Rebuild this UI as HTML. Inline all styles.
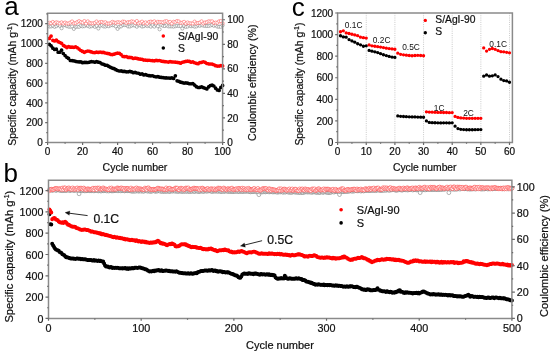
<!DOCTYPE html>
<html><head><meta charset="utf-8"><style>
html,body{margin:0;padding:0;background:#fff;}
body{width:550px;height:352px;overflow:hidden;font-family:"Liberation Sans", sans-serif;}
svg{display:block;will-change:transform;filter:blur(0.25px);}
</style></head><body>
<svg width="550" height="352" viewBox="0 0 550 352">
<rect width="550" height="352" fill="#fff"/>
<g fill="#fff" stroke="#707070" stroke-width="0.5">
<circle cx="49.35" cy="26.52" r="1.6"/><circle cx="51.1" cy="26.41" r="1.6"/><circle cx="52.85" cy="25.71" r="1.6"/><circle cx="54.6" cy="26.86" r="1.6"/><circle cx="56.35" cy="26.14" r="1.6"/><circle cx="58.1" cy="25" r="1.6"/><circle cx="59.85" cy="25.86" r="1.6"/><circle cx="61.6" cy="28.24" r="1.6"/><circle cx="63.35" cy="25.1" r="1.6"/><circle cx="65.1" cy="25.15" r="1.6"/><circle cx="66.85" cy="26.1" r="1.6"/><circle cx="68.6" cy="26.67" r="1.6"/><circle cx="70.35" cy="26.75" r="1.6"/><circle cx="72.1" cy="26.46" r="1.6"/><circle cx="73.85" cy="28.9" r="1.6"/><circle cx="75.6" cy="26.87" r="1.6"/><circle cx="77.35" cy="26.67" r="1.6"/><circle cx="79.1" cy="26.82" r="1.6"/><circle cx="80.85" cy="25.66" r="1.6"/><circle cx="82.6" cy="26.37" r="1.6"/><circle cx="84.35" cy="26.15" r="1.6"/><circle cx="86.1" cy="25.2" r="1.6"/><circle cx="87.85" cy="25.95" r="1.6"/><circle cx="89.6" cy="26.7" r="1.6"/><circle cx="91.35" cy="26.2" r="1.6"/><circle cx="93.1" cy="25.24" r="1.6"/><circle cx="94.85" cy="26.82" r="1.6"/><circle cx="96.6" cy="25.83" r="1.6"/><circle cx="98.35" cy="28.5" r="1.6"/><circle cx="100.1" cy="25.83" r="1.6"/><circle cx="101.85" cy="25.17" r="1.6"/><circle cx="103.6" cy="26.36" r="1.6"/><circle cx="105.35" cy="26.54" r="1.6"/><circle cx="107.1" cy="25.82" r="1.6"/><circle cx="108.85" cy="26.22" r="1.6"/><circle cx="110.6" cy="25.28" r="1.6"/><circle cx="112.35" cy="25.19" r="1.6"/><circle cx="114.1" cy="25.26" r="1.6"/><circle cx="115.85" cy="26.42" r="1.6"/><circle cx="117.6" cy="28.87" r="1.6"/><circle cx="119.35" cy="26.81" r="1.6"/><circle cx="121.1" cy="26.36" r="1.6"/><circle cx="122.85" cy="24.99" r="1.6"/><circle cx="124.6" cy="25.03" r="1.6"/><circle cx="126.35" cy="24.99" r="1.6"/><circle cx="128.1" cy="26.44" r="1.6"/><circle cx="129.85" cy="26.48" r="1.6"/><circle cx="131.6" cy="25.64" r="1.6"/><circle cx="133.35" cy="25.22" r="1.6"/><circle cx="135.1" cy="25.59" r="1.6"/><circle cx="136.85" cy="26.7" r="1.6"/><circle cx="138.6" cy="25.08" r="1.6"/><circle cx="140.35" cy="25.4" r="1.6"/><circle cx="142.1" cy="26.52" r="1.6"/><circle cx="143.85" cy="26.22" r="1.6"/><circle cx="145.6" cy="24.96" r="1.6"/><circle cx="147.35" cy="26.08" r="1.6"/><circle cx="149.1" cy="25.45" r="1.6"/><circle cx="150.85" cy="26.62" r="1.6"/><circle cx="152.6" cy="25.09" r="1.6"/><circle cx="154.35" cy="26.58" r="1.6"/><circle cx="156.1" cy="24.94" r="1.6"/><circle cx="157.85" cy="26.18" r="1.6"/><circle cx="159.6" cy="29.31" r="1.6"/><circle cx="161.35" cy="24.96" r="1.6"/><circle cx="163.1" cy="25.84" r="1.6"/><circle cx="164.85" cy="26.02" r="1.6"/><circle cx="166.6" cy="25.25" r="1.6"/><circle cx="168.35" cy="26.37" r="1.6"/><circle cx="170.1" cy="26.4" r="1.6"/><circle cx="171.85" cy="26.36" r="1.6"/><circle cx="173.6" cy="26.61" r="1.6"/><circle cx="175.35" cy="26.17" r="1.6"/><circle cx="177.1" cy="25.72" r="1.6"/><circle cx="178.85" cy="26.04" r="1.6"/><circle cx="180.6" cy="25.88" r="1.6"/><circle cx="182.35" cy="28.54" r="1.6"/><circle cx="184.1" cy="26.01" r="1.6"/><circle cx="185.85" cy="26.86" r="1.6"/><circle cx="187.6" cy="26.53" r="1.6"/><circle cx="189.35" cy="25.45" r="1.6"/><circle cx="191.1" cy="26.23" r="1.6"/><circle cx="192.85" cy="25.78" r="1.6"/><circle cx="194.6" cy="26.66" r="1.6"/><circle cx="196.35" cy="26.38" r="1.6"/><circle cx="198.1" cy="25.35" r="1.6"/><circle cx="199.85" cy="25.77" r="1.6"/><circle cx="201.6" cy="25.08" r="1.6"/><circle cx="203.35" cy="25.67" r="1.6"/><circle cx="205.1" cy="25.86" r="1.6"/><circle cx="206.85" cy="25.98" r="1.6"/><circle cx="208.6" cy="25.93" r="1.6"/><circle cx="210.35" cy="25.5" r="1.6"/><circle cx="212.1" cy="25.02" r="1.6"/><circle cx="213.85" cy="25.77" r="1.6"/><circle cx="215.6" cy="25.22" r="1.6"/><circle cx="217.35" cy="26.63" r="1.6"/><circle cx="219.1" cy="26.73" r="1.6"/><circle cx="220.85" cy="26.73" r="1.6"/><circle cx="222.6" cy="25.33" r="1.6"/>
</g>
<g fill="#fff" stroke="#ff4a4a" stroke-width="0.5">
<circle cx="49.35" cy="22.8" r="1.6"/><circle cx="51.1" cy="23.27" r="1.6"/><circle cx="52.85" cy="21.92" r="1.6"/><circle cx="54.6" cy="23.48" r="1.6"/><circle cx="56.35" cy="22.23" r="1.6"/><circle cx="58.1" cy="22.69" r="1.6"/><circle cx="59.85" cy="23.52" r="1.6"/><circle cx="61.6" cy="22.31" r="1.6"/><circle cx="63.35" cy="23.58" r="1.6"/><circle cx="65.1" cy="22.51" r="1.6"/><circle cx="66.85" cy="23.49" r="1.6"/><circle cx="68.6" cy="23.43" r="1.6"/><circle cx="70.35" cy="22.53" r="1.6"/><circle cx="72.1" cy="21.45" r="1.6"/><circle cx="73.85" cy="23.34" r="1.6"/><circle cx="75.6" cy="23.08" r="1.6"/><circle cx="77.35" cy="21.98" r="1.6"/><circle cx="79.1" cy="21.12" r="1.6"/><circle cx="80.85" cy="22.12" r="1.6"/><circle cx="82.6" cy="22.61" r="1.6"/><circle cx="84.35" cy="21.04" r="1.6"/><circle cx="86.1" cy="23.55" r="1.6"/><circle cx="87.85" cy="21.36" r="1.6"/><circle cx="89.6" cy="22.9" r="1.6"/><circle cx="91.35" cy="23.29" r="1.6"/><circle cx="93.1" cy="23.36" r="1.6"/><circle cx="94.85" cy="22.84" r="1.6"/><circle cx="96.6" cy="21.47" r="1.6"/><circle cx="98.35" cy="23.19" r="1.6"/><circle cx="100.1" cy="22.11" r="1.6"/><circle cx="101.85" cy="21.95" r="1.6"/><circle cx="103.6" cy="22.67" r="1.6"/><circle cx="105.35" cy="22.2" r="1.6"/><circle cx="107.1" cy="23.51" r="1.6"/><circle cx="108.85" cy="23.52" r="1.6"/><circle cx="110.6" cy="23.12" r="1.6"/><circle cx="112.35" cy="21.84" r="1.6"/><circle cx="114.1" cy="22.52" r="1.6"/><circle cx="115.85" cy="22.83" r="1.6"/><circle cx="117.6" cy="22.1" r="1.6"/><circle cx="119.35" cy="22.45" r="1.6"/><circle cx="121.1" cy="22.87" r="1.6"/><circle cx="122.85" cy="21.53" r="1.6"/><circle cx="124.6" cy="21.79" r="1.6"/><circle cx="126.35" cy="23.02" r="1.6"/><circle cx="128.1" cy="22.13" r="1.6"/><circle cx="129.85" cy="22.26" r="1.6"/><circle cx="131.6" cy="21.31" r="1.6"/><circle cx="133.35" cy="21.71" r="1.6"/><circle cx="135.1" cy="22.9" r="1.6"/><circle cx="136.85" cy="21.03" r="1.6"/><circle cx="138.6" cy="23.36" r="1.6"/><circle cx="140.35" cy="22.55" r="1.6"/><circle cx="142.1" cy="21.63" r="1.6"/><circle cx="143.85" cy="23.27" r="1.6"/><circle cx="145.6" cy="22.36" r="1.6"/><circle cx="147.35" cy="23.57" r="1.6"/><circle cx="149.1" cy="21.87" r="1.6"/><circle cx="150.85" cy="21.61" r="1.6"/><circle cx="152.6" cy="22.13" r="1.6"/><circle cx="154.35" cy="21.31" r="1.6"/><circle cx="156.1" cy="22.83" r="1.6"/><circle cx="157.85" cy="21.8" r="1.6"/><circle cx="159.6" cy="22.07" r="1.6"/><circle cx="161.35" cy="22.11" r="1.6"/><circle cx="163.1" cy="22.45" r="1.6"/><circle cx="164.85" cy="21.41" r="1.6"/><circle cx="166.6" cy="21.13" r="1.6"/><circle cx="168.35" cy="22.4" r="1.6"/><circle cx="170.1" cy="21.88" r="1.6"/><circle cx="171.85" cy="23.51" r="1.6"/><circle cx="173.6" cy="21.78" r="1.6"/><circle cx="175.35" cy="21.93" r="1.6"/><circle cx="177.1" cy="21" r="1.6"/><circle cx="178.85" cy="21.46" r="1.6"/><circle cx="180.6" cy="22.91" r="1.6"/><circle cx="182.35" cy="22.64" r="1.6"/><circle cx="184.1" cy="21.87" r="1.6"/><circle cx="185.85" cy="23.62" r="1.6"/><circle cx="187.6" cy="22.43" r="1.6"/><circle cx="189.35" cy="23.22" r="1.6"/><circle cx="191.1" cy="23.36" r="1.6"/><circle cx="192.85" cy="23.52" r="1.6"/><circle cx="194.6" cy="21.6" r="1.6"/><circle cx="196.35" cy="23.33" r="1.6"/><circle cx="198.1" cy="23.01" r="1.6"/><circle cx="199.85" cy="22.62" r="1.6"/><circle cx="201.6" cy="21.32" r="1.6"/><circle cx="203.35" cy="23.46" r="1.6"/><circle cx="205.1" cy="22.46" r="1.6"/><circle cx="206.85" cy="22.19" r="1.6"/><circle cx="208.6" cy="21.29" r="1.6"/><circle cx="210.35" cy="21.47" r="1.6"/><circle cx="212.1" cy="21.34" r="1.6"/><circle cx="213.85" cy="22.93" r="1.6"/><circle cx="215.6" cy="22.56" r="1.6"/><circle cx="217.35" cy="22.71" r="1.6"/><circle cx="219.1" cy="21.29" r="1.6"/><circle cx="220.85" cy="21.09" r="1.6"/><circle cx="222.6" cy="23.27" r="1.6"/>
</g>
<path d="M47.5 44.37a1.85 1.85 0 1 0 3.7 0a1.85 1.85 0 1 0 -3.7 0M49.25 45.8a1.85 1.85 0 1 0 3.7 0a1.85 1.85 0 1 0 -3.7 0M51 48.22a1.85 1.85 0 1 0 3.7 0a1.85 1.85 0 1 0 -3.7 0M52.75 49.52a1.85 1.85 0 1 0 3.7 0a1.85 1.85 0 1 0 -3.7 0M54.5 49.14a1.85 1.85 0 1 0 3.7 0a1.85 1.85 0 1 0 -3.7 0M56.25 52.24a1.85 1.85 0 1 0 3.7 0a1.85 1.85 0 1 0 -3.7 0M58 52.14a1.85 1.85 0 1 0 3.7 0a1.85 1.85 0 1 0 -3.7 0M59.75 50.17a1.85 1.85 0 1 0 3.7 0a1.85 1.85 0 1 0 -3.7 0M61.5 53.48a1.85 1.85 0 1 0 3.7 0a1.85 1.85 0 1 0 -3.7 0M63.25 55.59a1.85 1.85 0 1 0 3.7 0a1.85 1.85 0 1 0 -3.7 0M65 57.37a1.85 1.85 0 1 0 3.7 0a1.85 1.85 0 1 0 -3.7 0M66.75 58.38a1.85 1.85 0 1 0 3.7 0a1.85 1.85 0 1 0 -3.7 0M68.5 60.5a1.85 1.85 0 1 0 3.7 0a1.85 1.85 0 1 0 -3.7 0M70.25 60.61a1.85 1.85 0 1 0 3.7 0a1.85 1.85 0 1 0 -3.7 0M72 60.86a1.85 1.85 0 1 0 3.7 0a1.85 1.85 0 1 0 -3.7 0M73.75 61.32a1.85 1.85 0 1 0 3.7 0a1.85 1.85 0 1 0 -3.7 0M75.5 61.76a1.85 1.85 0 1 0 3.7 0a1.85 1.85 0 1 0 -3.7 0M77.25 61.91a1.85 1.85 0 1 0 3.7 0a1.85 1.85 0 1 0 -3.7 0M79 61.84a1.85 1.85 0 1 0 3.7 0a1.85 1.85 0 1 0 -3.7 0M80.75 62.64a1.85 1.85 0 1 0 3.7 0a1.85 1.85 0 1 0 -3.7 0M82.5 62.47a1.85 1.85 0 1 0 3.7 0a1.85 1.85 0 1 0 -3.7 0M84.25 62.36a1.85 1.85 0 1 0 3.7 0a1.85 1.85 0 1 0 -3.7 0M86 62.49a1.85 1.85 0 1 0 3.7 0a1.85 1.85 0 1 0 -3.7 0M87.75 62.05a1.85 1.85 0 1 0 3.7 0a1.85 1.85 0 1 0 -3.7 0M89.5 61.62a1.85 1.85 0 1 0 3.7 0a1.85 1.85 0 1 0 -3.7 0M91.25 61.77a1.85 1.85 0 1 0 3.7 0a1.85 1.85 0 1 0 -3.7 0M93 62.19a1.85 1.85 0 1 0 3.7 0a1.85 1.85 0 1 0 -3.7 0M94.75 61.53a1.85 1.85 0 1 0 3.7 0a1.85 1.85 0 1 0 -3.7 0M96.5 62.22a1.85 1.85 0 1 0 3.7 0a1.85 1.85 0 1 0 -3.7 0M98.25 62.62a1.85 1.85 0 1 0 3.7 0a1.85 1.85 0 1 0 -3.7 0M100 63.84a1.85 1.85 0 1 0 3.7 0a1.85 1.85 0 1 0 -3.7 0M101.75 64.32a1.85 1.85 0 1 0 3.7 0a1.85 1.85 0 1 0 -3.7 0M103.5 65.19a1.85 1.85 0 1 0 3.7 0a1.85 1.85 0 1 0 -3.7 0M105.25 65.29a1.85 1.85 0 1 0 3.7 0a1.85 1.85 0 1 0 -3.7 0M107 66.38a1.85 1.85 0 1 0 3.7 0a1.85 1.85 0 1 0 -3.7 0M108.75 67.34a1.85 1.85 0 1 0 3.7 0a1.85 1.85 0 1 0 -3.7 0M110.5 68.07a1.85 1.85 0 1 0 3.7 0a1.85 1.85 0 1 0 -3.7 0M112.25 68.64a1.85 1.85 0 1 0 3.7 0a1.85 1.85 0 1 0 -3.7 0M114 69.68a1.85 1.85 0 1 0 3.7 0a1.85 1.85 0 1 0 -3.7 0M115.75 70.52a1.85 1.85 0 1 0 3.7 0a1.85 1.85 0 1 0 -3.7 0M117.5 71a1.85 1.85 0 1 0 3.7 0a1.85 1.85 0 1 0 -3.7 0M119.25 70.79a1.85 1.85 0 1 0 3.7 0a1.85 1.85 0 1 0 -3.7 0M121 71.46a1.85 1.85 0 1 0 3.7 0a1.85 1.85 0 1 0 -3.7 0M122.75 71.36a1.85 1.85 0 1 0 3.7 0a1.85 1.85 0 1 0 -3.7 0M124.5 71.84a1.85 1.85 0 1 0 3.7 0a1.85 1.85 0 1 0 -3.7 0M126.25 71.87a1.85 1.85 0 1 0 3.7 0a1.85 1.85 0 1 0 -3.7 0M128 71.37a1.85 1.85 0 1 0 3.7 0a1.85 1.85 0 1 0 -3.7 0M129.75 71.97a1.85 1.85 0 1 0 3.7 0a1.85 1.85 0 1 0 -3.7 0M131.5 72.65a1.85 1.85 0 1 0 3.7 0a1.85 1.85 0 1 0 -3.7 0M133.25 72.36a1.85 1.85 0 1 0 3.7 0a1.85 1.85 0 1 0 -3.7 0M135 72.99a1.85 1.85 0 1 0 3.7 0a1.85 1.85 0 1 0 -3.7 0M136.75 73.24a1.85 1.85 0 1 0 3.7 0a1.85 1.85 0 1 0 -3.7 0M138.5 74.2a1.85 1.85 0 1 0 3.7 0a1.85 1.85 0 1 0 -3.7 0M140.25 73.97a1.85 1.85 0 1 0 3.7 0a1.85 1.85 0 1 0 -3.7 0M142 74.95a1.85 1.85 0 1 0 3.7 0a1.85 1.85 0 1 0 -3.7 0M143.75 74.63a1.85 1.85 0 1 0 3.7 0a1.85 1.85 0 1 0 -3.7 0M145.5 75.25a1.85 1.85 0 1 0 3.7 0a1.85 1.85 0 1 0 -3.7 0M147.25 75.65a1.85 1.85 0 1 0 3.7 0a1.85 1.85 0 1 0 -3.7 0M149 75.79a1.85 1.85 0 1 0 3.7 0a1.85 1.85 0 1 0 -3.7 0M150.75 75.77a1.85 1.85 0 1 0 3.7 0a1.85 1.85 0 1 0 -3.7 0M152.5 76.5a1.85 1.85 0 1 0 3.7 0a1.85 1.85 0 1 0 -3.7 0M154.25 76.81a1.85 1.85 0 1 0 3.7 0a1.85 1.85 0 1 0 -3.7 0M156 76.7a1.85 1.85 0 1 0 3.7 0a1.85 1.85 0 1 0 -3.7 0M157.75 77.13a1.85 1.85 0 1 0 3.7 0a1.85 1.85 0 1 0 -3.7 0M159.5 77.42a1.85 1.85 0 1 0 3.7 0a1.85 1.85 0 1 0 -3.7 0M161.25 77.56a1.85 1.85 0 1 0 3.7 0a1.85 1.85 0 1 0 -3.7 0M163 77.83a1.85 1.85 0 1 0 3.7 0a1.85 1.85 0 1 0 -3.7 0M164.75 77.89a1.85 1.85 0 1 0 3.7 0a1.85 1.85 0 1 0 -3.7 0M166.5 77.98a1.85 1.85 0 1 0 3.7 0a1.85 1.85 0 1 0 -3.7 0M168.25 78.16a1.85 1.85 0 1 0 3.7 0a1.85 1.85 0 1 0 -3.7 0M170 77.97a1.85 1.85 0 1 0 3.7 0a1.85 1.85 0 1 0 -3.7 0M171.75 78.51a1.85 1.85 0 1 0 3.7 0a1.85 1.85 0 1 0 -3.7 0M173.5 75.77a1.85 1.85 0 1 0 3.7 0a1.85 1.85 0 1 0 -3.7 0M175.25 80.78a1.85 1.85 0 1 0 3.7 0a1.85 1.85 0 1 0 -3.7 0M177 81.27a1.85 1.85 0 1 0 3.7 0a1.85 1.85 0 1 0 -3.7 0M178.75 82.16a1.85 1.85 0 1 0 3.7 0a1.85 1.85 0 1 0 -3.7 0M180.5 82.6a1.85 1.85 0 1 0 3.7 0a1.85 1.85 0 1 0 -3.7 0M182.25 83.07a1.85 1.85 0 1 0 3.7 0a1.85 1.85 0 1 0 -3.7 0M184 82.79a1.85 1.85 0 1 0 3.7 0a1.85 1.85 0 1 0 -3.7 0M185.75 83.22a1.85 1.85 0 1 0 3.7 0a1.85 1.85 0 1 0 -3.7 0M187.5 83.75a1.85 1.85 0 1 0 3.7 0a1.85 1.85 0 1 0 -3.7 0M189.25 83.74a1.85 1.85 0 1 0 3.7 0a1.85 1.85 0 1 0 -3.7 0M191 83.59a1.85 1.85 0 1 0 3.7 0a1.85 1.85 0 1 0 -3.7 0M192.75 85.05a1.85 1.85 0 1 0 3.7 0a1.85 1.85 0 1 0 -3.7 0M194.5 86.65a1.85 1.85 0 1 0 3.7 0a1.85 1.85 0 1 0 -3.7 0M196.25 87.52a1.85 1.85 0 1 0 3.7 0a1.85 1.85 0 1 0 -3.7 0M198 87.35a1.85 1.85 0 1 0 3.7 0a1.85 1.85 0 1 0 -3.7 0M199.75 86.97a1.85 1.85 0 1 0 3.7 0a1.85 1.85 0 1 0 -3.7 0M201.5 87.56a1.85 1.85 0 1 0 3.7 0a1.85 1.85 0 1 0 -3.7 0M203.25 88.25a1.85 1.85 0 1 0 3.7 0a1.85 1.85 0 1 0 -3.7 0M205 88.89a1.85 1.85 0 1 0 3.7 0a1.85 1.85 0 1 0 -3.7 0M206.75 86.88a1.85 1.85 0 1 0 3.7 0a1.85 1.85 0 1 0 -3.7 0M208.5 85.62a1.85 1.85 0 1 0 3.7 0a1.85 1.85 0 1 0 -3.7 0M210.25 85.04a1.85 1.85 0 1 0 3.7 0a1.85 1.85 0 1 0 -3.7 0M212 86.01a1.85 1.85 0 1 0 3.7 0a1.85 1.85 0 1 0 -3.7 0M213.75 88.16a1.85 1.85 0 1 0 3.7 0a1.85 1.85 0 1 0 -3.7 0M215.5 89.94a1.85 1.85 0 1 0 3.7 0a1.85 1.85 0 1 0 -3.7 0M217.25 90.42a1.85 1.85 0 1 0 3.7 0a1.85 1.85 0 1 0 -3.7 0M219 87.41a1.85 1.85 0 1 0 3.7 0a1.85 1.85 0 1 0 -3.7 0M220.75 85.47a1.85 1.85 0 1 0 3.7 0a1.85 1.85 0 1 0 -3.7 0" fill="#000000" stroke="none"/>
<path d="M47.5 38.39a1.85 1.85 0 1 0 3.7 0a1.85 1.85 0 1 0 -3.7 0M49.25 36.08a1.85 1.85 0 1 0 3.7 0a1.85 1.85 0 1 0 -3.7 0M51 40.33a1.85 1.85 0 1 0 3.7 0a1.85 1.85 0 1 0 -3.7 0M52.75 40.99a1.85 1.85 0 1 0 3.7 0a1.85 1.85 0 1 0 -3.7 0M54.5 40.17a1.85 1.85 0 1 0 3.7 0a1.85 1.85 0 1 0 -3.7 0M56.25 41.65a1.85 1.85 0 1 0 3.7 0a1.85 1.85 0 1 0 -3.7 0M58 42.51a1.85 1.85 0 1 0 3.7 0a1.85 1.85 0 1 0 -3.7 0M59.75 43.36a1.85 1.85 0 1 0 3.7 0a1.85 1.85 0 1 0 -3.7 0M61.5 45.36a1.85 1.85 0 1 0 3.7 0a1.85 1.85 0 1 0 -3.7 0M63.25 46.38a1.85 1.85 0 1 0 3.7 0a1.85 1.85 0 1 0 -3.7 0M65 47.62a1.85 1.85 0 1 0 3.7 0a1.85 1.85 0 1 0 -3.7 0M66.75 46.6a1.85 1.85 0 1 0 3.7 0a1.85 1.85 0 1 0 -3.7 0M68.5 47.14a1.85 1.85 0 1 0 3.7 0a1.85 1.85 0 1 0 -3.7 0M70.25 47.21a1.85 1.85 0 1 0 3.7 0a1.85 1.85 0 1 0 -3.7 0M72 47.35a1.85 1.85 0 1 0 3.7 0a1.85 1.85 0 1 0 -3.7 0M73.75 46.8a1.85 1.85 0 1 0 3.7 0a1.85 1.85 0 1 0 -3.7 0M75.5 47.74a1.85 1.85 0 1 0 3.7 0a1.85 1.85 0 1 0 -3.7 0M77.25 49.03a1.85 1.85 0 1 0 3.7 0a1.85 1.85 0 1 0 -3.7 0M79 50.48a1.85 1.85 0 1 0 3.7 0a1.85 1.85 0 1 0 -3.7 0M80.75 51.4a1.85 1.85 0 1 0 3.7 0a1.85 1.85 0 1 0 -3.7 0M82.5 52.28a1.85 1.85 0 1 0 3.7 0a1.85 1.85 0 1 0 -3.7 0M84.25 51.49a1.85 1.85 0 1 0 3.7 0a1.85 1.85 0 1 0 -3.7 0M86 51.02a1.85 1.85 0 1 0 3.7 0a1.85 1.85 0 1 0 -3.7 0M87.75 51.35a1.85 1.85 0 1 0 3.7 0a1.85 1.85 0 1 0 -3.7 0M89.5 51.9a1.85 1.85 0 1 0 3.7 0a1.85 1.85 0 1 0 -3.7 0M91.25 52.51a1.85 1.85 0 1 0 3.7 0a1.85 1.85 0 1 0 -3.7 0M93 52.57a1.85 1.85 0 1 0 3.7 0a1.85 1.85 0 1 0 -3.7 0M94.75 52.16a1.85 1.85 0 1 0 3.7 0a1.85 1.85 0 1 0 -3.7 0M96.5 52.38a1.85 1.85 0 1 0 3.7 0a1.85 1.85 0 1 0 -3.7 0M98.25 52a1.85 1.85 0 1 0 3.7 0a1.85 1.85 0 1 0 -3.7 0M100 52.41a1.85 1.85 0 1 0 3.7 0a1.85 1.85 0 1 0 -3.7 0M101.75 52.44a1.85 1.85 0 1 0 3.7 0a1.85 1.85 0 1 0 -3.7 0M103.5 53a1.85 1.85 0 1 0 3.7 0a1.85 1.85 0 1 0 -3.7 0M105.25 53.28a1.85 1.85 0 1 0 3.7 0a1.85 1.85 0 1 0 -3.7 0M107 53.65a1.85 1.85 0 1 0 3.7 0a1.85 1.85 0 1 0 -3.7 0M108.75 54.3a1.85 1.85 0 1 0 3.7 0a1.85 1.85 0 1 0 -3.7 0M110.5 54.62a1.85 1.85 0 1 0 3.7 0a1.85 1.85 0 1 0 -3.7 0M112.25 54.17a1.85 1.85 0 1 0 3.7 0a1.85 1.85 0 1 0 -3.7 0M114 53.5a1.85 1.85 0 1 0 3.7 0a1.85 1.85 0 1 0 -3.7 0M115.75 53.08a1.85 1.85 0 1 0 3.7 0a1.85 1.85 0 1 0 -3.7 0M117.5 53.29a1.85 1.85 0 1 0 3.7 0a1.85 1.85 0 1 0 -3.7 0M119.25 54.57a1.85 1.85 0 1 0 3.7 0a1.85 1.85 0 1 0 -3.7 0M121 56.36a1.85 1.85 0 1 0 3.7 0a1.85 1.85 0 1 0 -3.7 0M122.75 56.71a1.85 1.85 0 1 0 3.7 0a1.85 1.85 0 1 0 -3.7 0M124.5 56.48a1.85 1.85 0 1 0 3.7 0a1.85 1.85 0 1 0 -3.7 0M126.25 57.44a1.85 1.85 0 1 0 3.7 0a1.85 1.85 0 1 0 -3.7 0M128 57.28a1.85 1.85 0 1 0 3.7 0a1.85 1.85 0 1 0 -3.7 0M129.75 57.68a1.85 1.85 0 1 0 3.7 0a1.85 1.85 0 1 0 -3.7 0M131.5 58.5a1.85 1.85 0 1 0 3.7 0a1.85 1.85 0 1 0 -3.7 0M133.25 58.21a1.85 1.85 0 1 0 3.7 0a1.85 1.85 0 1 0 -3.7 0M135 58.47a1.85 1.85 0 1 0 3.7 0a1.85 1.85 0 1 0 -3.7 0M136.75 58.94a1.85 1.85 0 1 0 3.7 0a1.85 1.85 0 1 0 -3.7 0M138.5 59.13a1.85 1.85 0 1 0 3.7 0a1.85 1.85 0 1 0 -3.7 0M140.25 59.33a1.85 1.85 0 1 0 3.7 0a1.85 1.85 0 1 0 -3.7 0M142 60.11a1.85 1.85 0 1 0 3.7 0a1.85 1.85 0 1 0 -3.7 0M143.75 60.04a1.85 1.85 0 1 0 3.7 0a1.85 1.85 0 1 0 -3.7 0M145.5 60.28a1.85 1.85 0 1 0 3.7 0a1.85 1.85 0 1 0 -3.7 0M147.25 60.25a1.85 1.85 0 1 0 3.7 0a1.85 1.85 0 1 0 -3.7 0M149 60.5a1.85 1.85 0 1 0 3.7 0a1.85 1.85 0 1 0 -3.7 0M150.75 60.65a1.85 1.85 0 1 0 3.7 0a1.85 1.85 0 1 0 -3.7 0M152.5 60.78a1.85 1.85 0 1 0 3.7 0a1.85 1.85 0 1 0 -3.7 0M154.25 60.46a1.85 1.85 0 1 0 3.7 0a1.85 1.85 0 1 0 -3.7 0M156 60.56a1.85 1.85 0 1 0 3.7 0a1.85 1.85 0 1 0 -3.7 0M157.75 60.49a1.85 1.85 0 1 0 3.7 0a1.85 1.85 0 1 0 -3.7 0M159.5 61.05a1.85 1.85 0 1 0 3.7 0a1.85 1.85 0 1 0 -3.7 0M161.25 61.47a1.85 1.85 0 1 0 3.7 0a1.85 1.85 0 1 0 -3.7 0M163 61.65a1.85 1.85 0 1 0 3.7 0a1.85 1.85 0 1 0 -3.7 0M164.75 61.73a1.85 1.85 0 1 0 3.7 0a1.85 1.85 0 1 0 -3.7 0M166.5 62.05a1.85 1.85 0 1 0 3.7 0a1.85 1.85 0 1 0 -3.7 0M168.25 61.6a1.85 1.85 0 1 0 3.7 0a1.85 1.85 0 1 0 -3.7 0M170 61.94a1.85 1.85 0 1 0 3.7 0a1.85 1.85 0 1 0 -3.7 0M171.75 62.01a1.85 1.85 0 1 0 3.7 0a1.85 1.85 0 1 0 -3.7 0M173.5 62.17a1.85 1.85 0 1 0 3.7 0a1.85 1.85 0 1 0 -3.7 0M175.25 62.28a1.85 1.85 0 1 0 3.7 0a1.85 1.85 0 1 0 -3.7 0M177 62.59a1.85 1.85 0 1 0 3.7 0a1.85 1.85 0 1 0 -3.7 0M178.75 63.14a1.85 1.85 0 1 0 3.7 0a1.85 1.85 0 1 0 -3.7 0M180.5 62.26a1.85 1.85 0 1 0 3.7 0a1.85 1.85 0 1 0 -3.7 0M182.25 61.79a1.85 1.85 0 1 0 3.7 0a1.85 1.85 0 1 0 -3.7 0M184 61.48a1.85 1.85 0 1 0 3.7 0a1.85 1.85 0 1 0 -3.7 0M185.75 61.18a1.85 1.85 0 1 0 3.7 0a1.85 1.85 0 1 0 -3.7 0M187.5 61.39a1.85 1.85 0 1 0 3.7 0a1.85 1.85 0 1 0 -3.7 0M189.25 62.16a1.85 1.85 0 1 0 3.7 0a1.85 1.85 0 1 0 -3.7 0M191 61.92a1.85 1.85 0 1 0 3.7 0a1.85 1.85 0 1 0 -3.7 0M192.75 62.77a1.85 1.85 0 1 0 3.7 0a1.85 1.85 0 1 0 -3.7 0M194.5 63.37a1.85 1.85 0 1 0 3.7 0a1.85 1.85 0 1 0 -3.7 0M196.25 63.68a1.85 1.85 0 1 0 3.7 0a1.85 1.85 0 1 0 -3.7 0M198 62.59a1.85 1.85 0 1 0 3.7 0a1.85 1.85 0 1 0 -3.7 0M199.75 62.28a1.85 1.85 0 1 0 3.7 0a1.85 1.85 0 1 0 -3.7 0M201.5 61.74a1.85 1.85 0 1 0 3.7 0a1.85 1.85 0 1 0 -3.7 0M203.25 62.34a1.85 1.85 0 1 0 3.7 0a1.85 1.85 0 1 0 -3.7 0M205 63.5a1.85 1.85 0 1 0 3.7 0a1.85 1.85 0 1 0 -3.7 0M206.75 63.82a1.85 1.85 0 1 0 3.7 0a1.85 1.85 0 1 0 -3.7 0M208.5 63.98a1.85 1.85 0 1 0 3.7 0a1.85 1.85 0 1 0 -3.7 0M210.25 64.05a1.85 1.85 0 1 0 3.7 0a1.85 1.85 0 1 0 -3.7 0M212 64.75a1.85 1.85 0 1 0 3.7 0a1.85 1.85 0 1 0 -3.7 0M213.75 65.64a1.85 1.85 0 1 0 3.7 0a1.85 1.85 0 1 0 -3.7 0M215.5 66.03a1.85 1.85 0 1 0 3.7 0a1.85 1.85 0 1 0 -3.7 0M217.25 66.05a1.85 1.85 0 1 0 3.7 0a1.85 1.85 0 1 0 -3.7 0M219 65.56a1.85 1.85 0 1 0 3.7 0a1.85 1.85 0 1 0 -3.7 0M220.75 65.97a1.85 1.85 0 1 0 3.7 0a1.85 1.85 0 1 0 -3.7 0" fill="#ff0000" stroke="none"/>
<path d="M47.6 13.3H222.6V142.5H47.6Z" fill="none" stroke="#8a8a8a" stroke-width="1.5"/>
<g font-family="Liberation Sans, sans-serif" fill="#111" stroke="#111" stroke-width="0.22">
<path d="M47.6 142.5v2.4M65.1 142.5v1.3M82.6 142.5v2.4M100.1 142.5v1.3M117.6 142.5v2.4M135.1 142.5v1.3M152.6 142.5v2.4M170.1 142.5v1.3M187.6 142.5v2.4M205.1 142.5v1.3M222.6 142.5v2.4" stroke="#6a6a6a" stroke-width="1.2" fill="none"/>
<text x="47.6" y="154.6" font-size="10" text-anchor="middle">0</text>
<text x="82.6" y="154.6" font-size="10" text-anchor="middle">20</text>
<text x="117.6" y="154.6" font-size="10" text-anchor="middle">40</text>
<text x="152.6" y="154.6" font-size="10" text-anchor="middle">60</text>
<text x="187.6" y="154.6" font-size="10" text-anchor="middle">80</text>
<text x="222.6" y="154.6" font-size="10" text-anchor="middle">100</text>
<path d="M47.6 142.5h-2.4M47.6 122.7h-2.4M47.6 102.9h-2.4M47.6 83.1h-2.4M47.6 63.3h-2.4M47.6 43.5h-2.4M47.6 23.7h-2.4M47.6 132.6h-1.3M47.6 112.8h-1.3M47.6 93h-1.3M47.6 73.2h-1.3M47.6 53.4h-1.3M47.6 33.6h-1.3M47.6 13.8h-1.3" stroke="#6a6a6a" stroke-width="1.2" fill="none"/>
<text x="42.9" y="146.1" font-size="10" text-anchor="end">0</text>
<text x="42.9" y="126.3" font-size="10" text-anchor="end">200</text>
<text x="42.9" y="106.5" font-size="10" text-anchor="end">400</text>
<text x="42.9" y="86.7" font-size="10" text-anchor="end">600</text>
<text x="42.9" y="66.9" font-size="10" text-anchor="end">800</text>
<text x="42.9" y="47.1" font-size="10" text-anchor="end">1000</text>
<text x="42.9" y="27.3" font-size="10" text-anchor="end">1200</text>
<path d="M222.6 142.5h2.4M222.6 117.95h2.4M222.6 93.4h2.4M222.6 68.85h2.4M222.6 44.3h2.4M222.6 19.75h2.4M222.6 130.22h1.3M222.6 105.67h1.3M222.6 81.12h1.3M222.6 56.58h1.3M222.6 32.02h1.3" stroke="#6a6a6a" stroke-width="1.2" fill="none"/>
<text x="227.2" y="146.1" font-size="10" text-anchor="start">0</text>
<text x="227.2" y="121.55" font-size="10" text-anchor="start">20</text>
<text x="227.2" y="97" font-size="10" text-anchor="start">40</text>
<text x="227.2" y="72.45" font-size="10" text-anchor="start">60</text>
<text x="227.2" y="47.9" font-size="10" text-anchor="start">80</text>
<text x="227.2" y="23.35" font-size="10" text-anchor="start">100</text>
</g>
<path d="M161.55 35.9a1.75 1.75 0 1 0 3.5 0a1.75 1.75 0 1 0 -3.5 0" fill="#ff0000" stroke="none"/>
<path d="M161.55 48.1a1.75 1.75 0 1 0 3.5 0a1.75 1.75 0 1 0 -3.5 0" fill="#000000" stroke="none"/>
<g font-family="Liberation Sans, sans-serif" fill="#111" stroke="#111" stroke-width="0.22">
<text x="177.9" y="39.6" font-size="10.4">S/AgI-90</text>
<text x="177.9" y="51.6" font-size="10.4">S</text>
</g>
<path d="M366.25 13.1V142.5M394.9 13.1V142.5M423.55 13.1V142.5M452.2 13.1V142.5M480.85 13.1V142.5M509.5 13.1V142.5" stroke="#bdbdbd" stroke-width="0.8" stroke-dasharray="1 1.2" fill="none"/>
<path d="M338.82 35.77a1.65 1.65 0 1 0 3.3 0a1.65 1.65 0 1 0 -3.3 0M341.68 36.95a1.65 1.65 0 1 0 3.3 0a1.65 1.65 0 1 0 -3.3 0M344.55 37.17a1.65 1.65 0 1 0 3.3 0a1.65 1.65 0 1 0 -3.3 0M347.41 39.54a1.65 1.65 0 1 0 3.3 0a1.65 1.65 0 1 0 -3.3 0M350.28 40.95a1.65 1.65 0 1 0 3.3 0a1.65 1.65 0 1 0 -3.3 0M353.14 42.13a1.65 1.65 0 1 0 3.3 0a1.65 1.65 0 1 0 -3.3 0M356.01 43.75a1.65 1.65 0 1 0 3.3 0a1.65 1.65 0 1 0 -3.3 0M358.87 44.83a1.65 1.65 0 1 0 3.3 0a1.65 1.65 0 1 0 -3.3 0M361.74 46.24a1.65 1.65 0 1 0 3.3 0a1.65 1.65 0 1 0 -3.3 0M364.6 45.8a1.65 1.65 0 1 0 3.3 0a1.65 1.65 0 1 0 -3.3 0M367.47 50.44a1.65 1.65 0 1 0 3.3 0a1.65 1.65 0 1 0 -3.3 0M370.33 51.2a1.65 1.65 0 1 0 3.3 0a1.65 1.65 0 1 0 -3.3 0M373.2 51.85a1.65 1.65 0 1 0 3.3 0a1.65 1.65 0 1 0 -3.3 0M376.06 52.6a1.65 1.65 0 1 0 3.3 0a1.65 1.65 0 1 0 -3.3 0M378.93 53.68a1.65 1.65 0 1 0 3.3 0a1.65 1.65 0 1 0 -3.3 0M381.79 54.76a1.65 1.65 0 1 0 3.3 0a1.65 1.65 0 1 0 -3.3 0M384.66 55.62a1.65 1.65 0 1 0 3.3 0a1.65 1.65 0 1 0 -3.3 0M387.52 56.38a1.65 1.65 0 1 0 3.3 0a1.65 1.65 0 1 0 -3.3 0M390.39 57.03a1.65 1.65 0 1 0 3.3 0a1.65 1.65 0 1 0 -3.3 0M393.25 57.46a1.65 1.65 0 1 0 3.3 0a1.65 1.65 0 1 0 -3.3 0M396.12 115.95a1.65 1.65 0 1 0 3.3 0a1.65 1.65 0 1 0 -3.3 0M398.98 116.28a1.65 1.65 0 1 0 3.3 0a1.65 1.65 0 1 0 -3.3 0M401.85 116.49a1.65 1.65 0 1 0 3.3 0a1.65 1.65 0 1 0 -3.3 0M404.71 116.71a1.65 1.65 0 1 0 3.3 0a1.65 1.65 0 1 0 -3.3 0M407.58 116.82a1.65 1.65 0 1 0 3.3 0a1.65 1.65 0 1 0 -3.3 0M410.44 116.92a1.65 1.65 0 1 0 3.3 0a1.65 1.65 0 1 0 -3.3 0M413.31 116.92a1.65 1.65 0 1 0 3.3 0a1.65 1.65 0 1 0 -3.3 0M416.17 117.03a1.65 1.65 0 1 0 3.3 0a1.65 1.65 0 1 0 -3.3 0M419.04 117.14a1.65 1.65 0 1 0 3.3 0a1.65 1.65 0 1 0 -3.3 0M421.9 117.25a1.65 1.65 0 1 0 3.3 0a1.65 1.65 0 1 0 -3.3 0M424.77 120.92a1.65 1.65 0 1 0 3.3 0a1.65 1.65 0 1 0 -3.3 0M427.63 122.43a1.65 1.65 0 1 0 3.3 0a1.65 1.65 0 1 0 -3.3 0M430.5 122.64a1.65 1.65 0 1 0 3.3 0a1.65 1.65 0 1 0 -3.3 0M433.36 122.75a1.65 1.65 0 1 0 3.3 0a1.65 1.65 0 1 0 -3.3 0M436.23 122.86a1.65 1.65 0 1 0 3.3 0a1.65 1.65 0 1 0 -3.3 0M439.09 122.86a1.65 1.65 0 1 0 3.3 0a1.65 1.65 0 1 0 -3.3 0M441.96 122.86a1.65 1.65 0 1 0 3.3 0a1.65 1.65 0 1 0 -3.3 0M444.82 122.86a1.65 1.65 0 1 0 3.3 0a1.65 1.65 0 1 0 -3.3 0M447.69 122.86a1.65 1.65 0 1 0 3.3 0a1.65 1.65 0 1 0 -3.3 0M450.55 122.86a1.65 1.65 0 1 0 3.3 0a1.65 1.65 0 1 0 -3.3 0M453.42 126.2a1.65 1.65 0 1 0 3.3 0a1.65 1.65 0 1 0 -3.3 0M456.28 128.58a1.65 1.65 0 1 0 3.3 0a1.65 1.65 0 1 0 -3.3 0M459.15 129.33a1.65 1.65 0 1 0 3.3 0a1.65 1.65 0 1 0 -3.3 0M462.01 129.55a1.65 1.65 0 1 0 3.3 0a1.65 1.65 0 1 0 -3.3 0M464.88 129.77a1.65 1.65 0 1 0 3.3 0a1.65 1.65 0 1 0 -3.3 0M467.74 129.77a1.65 1.65 0 1 0 3.3 0a1.65 1.65 0 1 0 -3.3 0M470.61 129.77a1.65 1.65 0 1 0 3.3 0a1.65 1.65 0 1 0 -3.3 0M473.47 129.66a1.65 1.65 0 1 0 3.3 0a1.65 1.65 0 1 0 -3.3 0M476.34 129.55a1.65 1.65 0 1 0 3.3 0a1.65 1.65 0 1 0 -3.3 0M479.2 129.55a1.65 1.65 0 1 0 3.3 0a1.65 1.65 0 1 0 -3.3 0M482.07 76.13a1.65 1.65 0 1 0 3.3 0a1.65 1.65 0 1 0 -3.3 0M484.93 74.94a1.65 1.65 0 1 0 3.3 0a1.65 1.65 0 1 0 -3.3 0M487.8 76.13a1.65 1.65 0 1 0 3.3 0a1.65 1.65 0 1 0 -3.3 0M490.66 75.81a1.65 1.65 0 1 0 3.3 0a1.65 1.65 0 1 0 -3.3 0M493.53 74.94a1.65 1.65 0 1 0 3.3 0a1.65 1.65 0 1 0 -3.3 0M496.39 76.56a1.65 1.65 0 1 0 3.3 0a1.65 1.65 0 1 0 -3.3 0M499.26 79.15a1.65 1.65 0 1 0 3.3 0a1.65 1.65 0 1 0 -3.3 0M502.12 80.55a1.65 1.65 0 1 0 3.3 0a1.65 1.65 0 1 0 -3.3 0M504.99 80.88a1.65 1.65 0 1 0 3.3 0a1.65 1.65 0 1 0 -3.3 0M507.85 82.28a1.65 1.65 0 1 0 3.3 0a1.65 1.65 0 1 0 -3.3 0" fill="#000000" stroke="none"/>
<path d="M338.82 31.77a1.65 1.65 0 1 0 3.3 0a1.65 1.65 0 1 0 -3.3 0M341.68 30.8a1.65 1.65 0 1 0 3.3 0a1.65 1.65 0 1 0 -3.3 0M344.55 32.96a1.65 1.65 0 1 0 3.3 0a1.65 1.65 0 1 0 -3.3 0M347.41 33.5a1.65 1.65 0 1 0 3.3 0a1.65 1.65 0 1 0 -3.3 0M350.28 34.26a1.65 1.65 0 1 0 3.3 0a1.65 1.65 0 1 0 -3.3 0M353.14 34.9a1.65 1.65 0 1 0 3.3 0a1.65 1.65 0 1 0 -3.3 0M356.01 35.66a1.65 1.65 0 1 0 3.3 0a1.65 1.65 0 1 0 -3.3 0M358.87 37.17a1.65 1.65 0 1 0 3.3 0a1.65 1.65 0 1 0 -3.3 0M361.74 37.71a1.65 1.65 0 1 0 3.3 0a1.65 1.65 0 1 0 -3.3 0M364.6 38.03a1.65 1.65 0 1 0 3.3 0a1.65 1.65 0 1 0 -3.3 0M367.47 44.94a1.65 1.65 0 1 0 3.3 0a1.65 1.65 0 1 0 -3.3 0M370.33 45.8a1.65 1.65 0 1 0 3.3 0a1.65 1.65 0 1 0 -3.3 0M373.2 46.24a1.65 1.65 0 1 0 3.3 0a1.65 1.65 0 1 0 -3.3 0M376.06 46.67a1.65 1.65 0 1 0 3.3 0a1.65 1.65 0 1 0 -3.3 0M378.93 47.1a1.65 1.65 0 1 0 3.3 0a1.65 1.65 0 1 0 -3.3 0M381.79 47.53a1.65 1.65 0 1 0 3.3 0a1.65 1.65 0 1 0 -3.3 0M384.66 48.18a1.65 1.65 0 1 0 3.3 0a1.65 1.65 0 1 0 -3.3 0M387.52 48.61a1.65 1.65 0 1 0 3.3 0a1.65 1.65 0 1 0 -3.3 0M390.39 48.93a1.65 1.65 0 1 0 3.3 0a1.65 1.65 0 1 0 -3.3 0M393.25 49.26a1.65 1.65 0 1 0 3.3 0a1.65 1.65 0 1 0 -3.3 0M396.12 53.14a1.65 1.65 0 1 0 3.3 0a1.65 1.65 0 1 0 -3.3 0M398.98 54.33a1.65 1.65 0 1 0 3.3 0a1.65 1.65 0 1 0 -3.3 0M401.85 54.87a1.65 1.65 0 1 0 3.3 0a1.65 1.65 0 1 0 -3.3 0M404.71 55.19a1.65 1.65 0 1 0 3.3 0a1.65 1.65 0 1 0 -3.3 0M407.58 55.52a1.65 1.65 0 1 0 3.3 0a1.65 1.65 0 1 0 -3.3 0M410.44 55.73a1.65 1.65 0 1 0 3.3 0a1.65 1.65 0 1 0 -3.3 0M413.31 55.52a1.65 1.65 0 1 0 3.3 0a1.65 1.65 0 1 0 -3.3 0M416.17 55.3a1.65 1.65 0 1 0 3.3 0a1.65 1.65 0 1 0 -3.3 0M419.04 55.52a1.65 1.65 0 1 0 3.3 0a1.65 1.65 0 1 0 -3.3 0M421.9 55.73a1.65 1.65 0 1 0 3.3 0a1.65 1.65 0 1 0 -3.3 0M424.77 111.85a1.65 1.65 0 1 0 3.3 0a1.65 1.65 0 1 0 -3.3 0M427.63 112.07a1.65 1.65 0 1 0 3.3 0a1.65 1.65 0 1 0 -3.3 0M430.5 112.17a1.65 1.65 0 1 0 3.3 0a1.65 1.65 0 1 0 -3.3 0M433.36 112.28a1.65 1.65 0 1 0 3.3 0a1.65 1.65 0 1 0 -3.3 0M436.23 112.39a1.65 1.65 0 1 0 3.3 0a1.65 1.65 0 1 0 -3.3 0M439.09 112.39a1.65 1.65 0 1 0 3.3 0a1.65 1.65 0 1 0 -3.3 0M441.96 112.5a1.65 1.65 0 1 0 3.3 0a1.65 1.65 0 1 0 -3.3 0M444.82 112.5a1.65 1.65 0 1 0 3.3 0a1.65 1.65 0 1 0 -3.3 0M447.69 112.61a1.65 1.65 0 1 0 3.3 0a1.65 1.65 0 1 0 -3.3 0M450.55 112.61a1.65 1.65 0 1 0 3.3 0a1.65 1.65 0 1 0 -3.3 0M453.42 116.38a1.65 1.65 0 1 0 3.3 0a1.65 1.65 0 1 0 -3.3 0M456.28 117.46a1.65 1.65 0 1 0 3.3 0a1.65 1.65 0 1 0 -3.3 0M459.15 117.89a1.65 1.65 0 1 0 3.3 0a1.65 1.65 0 1 0 -3.3 0M462.01 118.11a1.65 1.65 0 1 0 3.3 0a1.65 1.65 0 1 0 -3.3 0M464.88 118.33a1.65 1.65 0 1 0 3.3 0a1.65 1.65 0 1 0 -3.3 0M467.74 118.33a1.65 1.65 0 1 0 3.3 0a1.65 1.65 0 1 0 -3.3 0M470.61 118.33a1.65 1.65 0 1 0 3.3 0a1.65 1.65 0 1 0 -3.3 0M473.47 118.33a1.65 1.65 0 1 0 3.3 0a1.65 1.65 0 1 0 -3.3 0M476.34 118.33a1.65 1.65 0 1 0 3.3 0a1.65 1.65 0 1 0 -3.3 0M479.2 118.33a1.65 1.65 0 1 0 3.3 0a1.65 1.65 0 1 0 -3.3 0M482.07 47.96a1.65 1.65 0 1 0 3.3 0a1.65 1.65 0 1 0 -3.3 0M484.93 51.09a1.65 1.65 0 1 0 3.3 0a1.65 1.65 0 1 0 -3.3 0M487.8 49.37a1.65 1.65 0 1 0 3.3 0a1.65 1.65 0 1 0 -3.3 0M490.66 48.5a1.65 1.65 0 1 0 3.3 0a1.65 1.65 0 1 0 -3.3 0M493.53 49.37a1.65 1.65 0 1 0 3.3 0a1.65 1.65 0 1 0 -3.3 0M496.39 50.55a1.65 1.65 0 1 0 3.3 0a1.65 1.65 0 1 0 -3.3 0M499.26 51.63a1.65 1.65 0 1 0 3.3 0a1.65 1.65 0 1 0 -3.3 0M502.12 51.85a1.65 1.65 0 1 0 3.3 0a1.65 1.65 0 1 0 -3.3 0M504.99 52.28a1.65 1.65 0 1 0 3.3 0a1.65 1.65 0 1 0 -3.3 0M507.85 52.82a1.65 1.65 0 1 0 3.3 0a1.65 1.65 0 1 0 -3.3 0" fill="#ff0000" stroke="none"/>
<path d="M337.6 13.1H512.4V142.5H337.6Z" fill="none" stroke="#8a8a8a" stroke-width="1.5"/>
<g font-family="Liberation Sans, sans-serif" fill="#111" stroke="#111" stroke-width="0.22">
<path d="M337.6 142.5v2.4M351.93 142.5v1.3M366.25 142.5v2.4M380.58 142.5v1.3M394.9 142.5v2.4M409.23 142.5v1.3M423.55 142.5v2.4M437.88 142.5v1.3M452.2 142.5v2.4M466.52 142.5v1.3M480.85 142.5v2.4M495.17 142.5v1.3M509.5 142.5v2.4" stroke="#6a6a6a" stroke-width="1.2" fill="none"/>
<text x="337.6" y="154.6" font-size="10" text-anchor="middle">0</text>
<text x="366.25" y="154.6" font-size="10" text-anchor="middle">10</text>
<text x="394.9" y="154.6" font-size="10" text-anchor="middle">20</text>
<text x="423.55" y="154.6" font-size="10" text-anchor="middle">30</text>
<text x="452.2" y="154.6" font-size="10" text-anchor="middle">40</text>
<text x="480.85" y="154.6" font-size="10" text-anchor="middle">50</text>
<text x="509.5" y="154.6" font-size="10" text-anchor="middle">60</text>
<path d="M337.6 142.5h-2.4M337.6 120.92h-2.4M337.6 99.33h-2.4M337.6 77.75h-2.4M337.6 56.16h-2.4M337.6 34.58h-2.4M337.6 13h-2.4M337.6 131.71h-1.3M337.6 110.12h-1.3M337.6 88.54h-1.3M337.6 66.96h-1.3M337.6 45.37h-1.3M337.6 23.79h-1.3" stroke="#6a6a6a" stroke-width="1.2" fill="none"/>
<text x="333.2" y="146.1" font-size="10" text-anchor="end">0</text>
<text x="333.2" y="124.52" font-size="10" text-anchor="end">200</text>
<text x="333.2" y="102.93" font-size="10" text-anchor="end">400</text>
<text x="333.2" y="81.35" font-size="10" text-anchor="end">600</text>
<text x="333.2" y="59.76" font-size="10" text-anchor="end">800</text>
<text x="333.2" y="38.18" font-size="10" text-anchor="end">1000</text>
<text x="333.2" y="16.6" font-size="10" text-anchor="end">1200</text>
<text x="353.6" y="27.6" font-size="8.4" text-anchor="middle" stroke="none">0.1C</text>
<text x="381.7" y="43" font-size="8.4" text-anchor="middle" stroke="none">0.2C</text>
<text x="411" y="49.8" font-size="8.4" text-anchor="middle" stroke="none">0.5C</text>
<text x="439.1" y="110.5" font-size="8.4" text-anchor="middle" stroke="none">1C</text>
<text x="468.5" y="116.2" font-size="8.4" text-anchor="middle" stroke="none">2C</text>
<text x="498.1" y="47" font-size="8.4" text-anchor="middle" stroke="none">0.1C</text>
<path d="M423.6 20.4a1.7 1.7 0 1 0 3.4 0a1.7 1.7 0 1 0 -3.4 0" fill="#ff0000" stroke="none"/>
<path d="M423.6 32.7a1.7 1.7 0 1 0 3.4 0a1.7 1.7 0 1 0 -3.4 0" fill="#000000" stroke="none"/>
<text x="435.3" y="22.9" font-size="10.3">S/AgI-90</text>
<text x="435.3" y="34.6" font-size="10.3">S</text>
</g>
<g fill="#fff" stroke="#6a6a6a" stroke-width="0.5">
<circle cx="49.43" cy="189.68" r="1.9"/><circle cx="50.35" cy="189.78" r="1.9"/><circle cx="51.28" cy="189.9" r="1.9"/><circle cx="52.21" cy="190.4" r="1.9"/><circle cx="53.13" cy="190.14" r="1.9"/><circle cx="54.06" cy="189.75" r="1.9"/><circle cx="54.99" cy="189.88" r="1.9"/><circle cx="55.91" cy="190.55" r="1.9"/><circle cx="56.84" cy="189.93" r="1.9"/><circle cx="57.77" cy="189.8" r="1.9"/><circle cx="58.69" cy="189.89" r="1.9"/><circle cx="59.62" cy="190.18" r="1.9"/><circle cx="60.55" cy="190.46" r="1.9"/><circle cx="61.48" cy="190.2" r="1.9"/><circle cx="62.4" cy="190.64" r="1.9"/><circle cx="63.33" cy="190.53" r="1.9"/><circle cx="64.26" cy="190.06" r="1.9"/><circle cx="65.18" cy="190.54" r="1.9"/><circle cx="66.11" cy="190.59" r="1.9"/><circle cx="67.04" cy="190.12" r="1.9"/><circle cx="67.96" cy="189.91" r="1.9"/><circle cx="68.89" cy="190.19" r="1.9"/><circle cx="69.82" cy="190.64" r="1.9"/><circle cx="70.74" cy="190.16" r="1.9"/><circle cx="71.67" cy="190.01" r="1.9"/><circle cx="72.6" cy="189.84" r="1.9"/><circle cx="73.52" cy="190.43" r="1.9"/><circle cx="74.45" cy="190.36" r="1.9"/><circle cx="75.38" cy="190.09" r="1.9"/><circle cx="76.3" cy="190.03" r="1.9"/><circle cx="77.23" cy="190.21" r="1.9"/><circle cx="78.16" cy="190.26" r="1.9"/><circle cx="79.08" cy="193.81" r="1.9"/><circle cx="80.01" cy="190.79" r="1.9"/><circle cx="80.94" cy="190.26" r="1.9"/><circle cx="81.86" cy="190.36" r="1.9"/><circle cx="82.79" cy="190.72" r="1.9"/><circle cx="83.72" cy="190.25" r="1.9"/><circle cx="84.65" cy="190.86" r="1.9"/><circle cx="85.57" cy="190.77" r="1.9"/><circle cx="86.5" cy="190.67" r="1.9"/><circle cx="87.43" cy="190.34" r="1.9"/><circle cx="88.35" cy="190.32" r="1.9"/><circle cx="89.28" cy="190.77" r="1.9"/><circle cx="90.21" cy="190.68" r="1.9"/><circle cx="91.13" cy="190.83" r="1.9"/><circle cx="92.06" cy="190.12" r="1.9"/><circle cx="92.99" cy="190.56" r="1.9"/><circle cx="93.91" cy="190.93" r="1.9"/><circle cx="94.84" cy="190.43" r="1.9"/><circle cx="95.77" cy="190.36" r="1.9"/><circle cx="96.69" cy="190.1" r="1.9"/><circle cx="97.62" cy="190.74" r="1.9"/><circle cx="98.55" cy="190.93" r="1.9"/><circle cx="99.47" cy="190.61" r="1.9"/><circle cx="100.4" cy="190.94" r="1.9"/><circle cx="101.33" cy="190.99" r="1.9"/><circle cx="102.25" cy="190.14" r="1.9"/><circle cx="103.18" cy="190.83" r="1.9"/><circle cx="104.11" cy="190.55" r="1.9"/><circle cx="105.03" cy="190.28" r="1.9"/><circle cx="105.96" cy="190.75" r="1.9"/><circle cx="106.89" cy="191" r="1.9"/><circle cx="107.82" cy="190.33" r="1.9"/><circle cx="108.74" cy="191.05" r="1.9"/><circle cx="109.67" cy="190.38" r="1.9"/><circle cx="110.6" cy="190.39" r="1.9"/><circle cx="111.52" cy="190.87" r="1.9"/><circle cx="112.45" cy="190.87" r="1.9"/><circle cx="113.38" cy="190.78" r="1.9"/><circle cx="114.3" cy="190.46" r="1.9"/><circle cx="115.23" cy="190.45" r="1.9"/><circle cx="116.16" cy="190.6" r="1.9"/><circle cx="117.08" cy="190.39" r="1.9"/><circle cx="118.01" cy="190.88" r="1.9"/><circle cx="118.94" cy="190.25" r="1.9"/><circle cx="119.86" cy="190.33" r="1.9"/><circle cx="120.79" cy="190.91" r="1.9"/><circle cx="121.72" cy="190.47" r="1.9"/><circle cx="122.64" cy="190.48" r="1.9"/><circle cx="123.57" cy="190.36" r="1.9"/><circle cx="124.5" cy="190.96" r="1.9"/><circle cx="125.42" cy="190.61" r="1.9"/><circle cx="126.35" cy="190.58" r="1.9"/><circle cx="127.28" cy="190.77" r="1.9"/><circle cx="128.2" cy="190.57" r="1.9"/><circle cx="129.13" cy="190.81" r="1.9"/><circle cx="130.06" cy="190.7" r="1.9"/><circle cx="130.99" cy="191.04" r="1.9"/><circle cx="131.91" cy="191.17" r="1.9"/><circle cx="132.84" cy="191.11" r="1.9"/><circle cx="133.77" cy="191.15" r="1.9"/><circle cx="134.69" cy="190.94" r="1.9"/><circle cx="135.62" cy="191.24" r="1.9"/><circle cx="136.55" cy="190.64" r="1.9"/><circle cx="137.47" cy="190.64" r="1.9"/><circle cx="138.4" cy="191.23" r="1.9"/><circle cx="139.33" cy="190.96" r="1.9"/><circle cx="140.25" cy="190.55" r="1.9"/><circle cx="141.18" cy="191.25" r="1.9"/><circle cx="142.11" cy="190.48" r="1.9"/><circle cx="143.03" cy="191.23" r="1.9"/><circle cx="143.96" cy="191.23" r="1.9"/><circle cx="144.89" cy="190.56" r="1.9"/><circle cx="145.81" cy="190.76" r="1.9"/><circle cx="146.74" cy="190.77" r="1.9"/><circle cx="147.67" cy="191.27" r="1.9"/><circle cx="148.59" cy="190.67" r="1.9"/><circle cx="149.52" cy="191.08" r="1.9"/><circle cx="150.45" cy="191.36" r="1.9"/><circle cx="151.37" cy="191.13" r="1.9"/><circle cx="152.3" cy="191.06" r="1.9"/><circle cx="153.23" cy="190.52" r="1.9"/><circle cx="154.16" cy="190.63" r="1.9"/><circle cx="155.08" cy="191.39" r="1.9"/><circle cx="156.01" cy="191.03" r="1.9"/><circle cx="156.94" cy="191.12" r="1.9"/><circle cx="157.86" cy="190.95" r="1.9"/><circle cx="158.79" cy="190.66" r="1.9"/><circle cx="159.72" cy="190.7" r="1.9"/><circle cx="160.64" cy="191.46" r="1.9"/><circle cx="161.57" cy="190.77" r="1.9"/><circle cx="162.5" cy="191.48" r="1.9"/><circle cx="163.42" cy="191.03" r="1.9"/><circle cx="164.35" cy="191.32" r="1.9"/><circle cx="165.28" cy="191.18" r="1.9"/><circle cx="166.2" cy="191.27" r="1.9"/><circle cx="167.13" cy="191.25" r="1.9"/><circle cx="168.06" cy="190.88" r="1.9"/><circle cx="168.98" cy="191.43" r="1.9"/><circle cx="169.91" cy="191.46" r="1.9"/><circle cx="170.84" cy="190.9" r="1.9"/><circle cx="171.76" cy="190.97" r="1.9"/><circle cx="172.69" cy="191.19" r="1.9"/><circle cx="173.62" cy="190.75" r="1.9"/><circle cx="174.54" cy="190.76" r="1.9"/><circle cx="175.47" cy="191.39" r="1.9"/><circle cx="176.4" cy="190.76" r="1.9"/><circle cx="177.33" cy="191.25" r="1.9"/><circle cx="178.25" cy="191.39" r="1.9"/><circle cx="179.18" cy="191.11" r="1.9"/><circle cx="180.11" cy="190.91" r="1.9"/><circle cx="181.03" cy="191.28" r="1.9"/><circle cx="181.96" cy="191.46" r="1.9"/><circle cx="182.89" cy="190.99" r="1.9"/><circle cx="183.81" cy="191.45" r="1.9"/><circle cx="184.74" cy="190.89" r="1.9"/><circle cx="185.67" cy="191.49" r="1.9"/><circle cx="186.59" cy="190.79" r="1.9"/><circle cx="187.52" cy="191.43" r="1.9"/><circle cx="188.45" cy="190.96" r="1.9"/><circle cx="189.37" cy="191.46" r="1.9"/><circle cx="190.3" cy="191.38" r="1.9"/><circle cx="191.23" cy="191.12" r="1.9"/><circle cx="192.15" cy="191.3" r="1.9"/><circle cx="193.08" cy="190.71" r="1.9"/><circle cx="194.01" cy="191.51" r="1.9"/><circle cx="194.93" cy="191.51" r="1.9"/><circle cx="195.86" cy="190.7" r="1.9"/><circle cx="196.79" cy="190.93" r="1.9"/><circle cx="197.71" cy="191.42" r="1.9"/><circle cx="198.64" cy="191.5" r="1.9"/><circle cx="199.57" cy="191.25" r="1.9"/><circle cx="200.5" cy="191.24" r="1.9"/><circle cx="201.42" cy="190.96" r="1.9"/><circle cx="202.35" cy="191.02" r="1.9"/><circle cx="203.28" cy="191.47" r="1.9"/><circle cx="204.2" cy="191.23" r="1.9"/><circle cx="205.13" cy="190.77" r="1.9"/><circle cx="206.06" cy="191.07" r="1.9"/><circle cx="206.98" cy="191.22" r="1.9"/><circle cx="207.91" cy="190.94" r="1.9"/><circle cx="208.84" cy="190.89" r="1.9"/><circle cx="209.76" cy="190.82" r="1.9"/><circle cx="210.69" cy="191.01" r="1.9"/><circle cx="211.62" cy="191.32" r="1.9"/><circle cx="212.54" cy="191.51" r="1.9"/><circle cx="213.47" cy="190.88" r="1.9"/><circle cx="214.4" cy="191.02" r="1.9"/><circle cx="215.32" cy="191.21" r="1.9"/><circle cx="216.25" cy="191.03" r="1.9"/><circle cx="217.18" cy="190.98" r="1.9"/><circle cx="218.1" cy="191.43" r="1.9"/><circle cx="219.03" cy="190.89" r="1.9"/><circle cx="219.96" cy="191.15" r="1.9"/><circle cx="220.88" cy="191.57" r="1.9"/><circle cx="221.81" cy="191.46" r="1.9"/><circle cx="222.74" cy="190.74" r="1.9"/><circle cx="223.67" cy="191.51" r="1.9"/><circle cx="224.59" cy="191.1" r="1.9"/><circle cx="225.52" cy="191.13" r="1.9"/><circle cx="226.45" cy="190.84" r="1.9"/><circle cx="227.37" cy="191.23" r="1.9"/><circle cx="228.3" cy="191.41" r="1.9"/><circle cx="229.23" cy="191.24" r="1.9"/><circle cx="230.15" cy="191.49" r="1.9"/><circle cx="231.08" cy="191.28" r="1.9"/><circle cx="232.01" cy="191.35" r="1.9"/><circle cx="232.93" cy="191.59" r="1.9"/><circle cx="233.86" cy="191.22" r="1.9"/><circle cx="234.79" cy="191.29" r="1.9"/><circle cx="235.71" cy="191.43" r="1.9"/><circle cx="236.64" cy="190.78" r="1.9"/><circle cx="237.57" cy="191.46" r="1.9"/><circle cx="238.49" cy="191.32" r="1.9"/><circle cx="239.42" cy="191.57" r="1.9"/><circle cx="240.35" cy="190.96" r="1.9"/><circle cx="241.27" cy="191.29" r="1.9"/><circle cx="242.2" cy="191.53" r="1.9"/><circle cx="243.13" cy="191.43" r="1.9"/><circle cx="244.05" cy="191.01" r="1.9"/><circle cx="244.98" cy="191.35" r="1.9"/><circle cx="245.91" cy="191.29" r="1.9"/><circle cx="246.84" cy="191.05" r="1.9"/><circle cx="247.76" cy="191.05" r="1.9"/><circle cx="248.69" cy="191.5" r="1.9"/><circle cx="249.62" cy="191.47" r="1.9"/><circle cx="250.54" cy="191.87" r="1.9"/><circle cx="251.47" cy="191.63" r="1.9"/><circle cx="252.4" cy="191.63" r="1.9"/><circle cx="253.32" cy="191.52" r="1.9"/><circle cx="254.25" cy="191.33" r="1.9"/><circle cx="255.18" cy="191.09" r="1.9"/><circle cx="256.1" cy="191.91" r="1.9"/><circle cx="257.03" cy="191.14" r="1.9"/><circle cx="257.96" cy="191.87" r="1.9"/><circle cx="258.88" cy="194.72" r="1.9"/><circle cx="259.81" cy="192.01" r="1.9"/><circle cx="260.74" cy="191.44" r="1.9"/><circle cx="261.66" cy="191.96" r="1.9"/><circle cx="262.59" cy="191.85" r="1.9"/><circle cx="263.52" cy="191.77" r="1.9"/><circle cx="264.44" cy="191.27" r="1.9"/><circle cx="265.37" cy="191.96" r="1.9"/><circle cx="266.3" cy="191.57" r="1.9"/><circle cx="267.22" cy="191.53" r="1.9"/><circle cx="268.15" cy="191.43" r="1.9"/><circle cx="269.08" cy="191.99" r="1.9"/><circle cx="270.01" cy="191.7" r="1.9"/><circle cx="270.93" cy="191.8" r="1.9"/><circle cx="271.86" cy="191.71" r="1.9"/><circle cx="272.79" cy="192.02" r="1.9"/><circle cx="273.71" cy="191.8" r="1.9"/><circle cx="274.64" cy="191.83" r="1.9"/><circle cx="275.57" cy="191.83" r="1.9"/><circle cx="276.49" cy="191.8" r="1.9"/><circle cx="277.42" cy="192.3" r="1.9"/><circle cx="278.35" cy="191.89" r="1.9"/><circle cx="279.27" cy="191.73" r="1.9"/><circle cx="280.2" cy="192.01" r="1.9"/><circle cx="281.13" cy="191.49" r="1.9"/><circle cx="282.05" cy="191.8" r="1.9"/><circle cx="282.98" cy="192.37" r="1.9"/><circle cx="283.91" cy="191.79" r="1.9"/><circle cx="284.83" cy="192.13" r="1.9"/><circle cx="285.76" cy="191.98" r="1.9"/><circle cx="286.69" cy="191.63" r="1.9"/><circle cx="287.61" cy="191.81" r="1.9"/><circle cx="288.54" cy="192.18" r="1.9"/><circle cx="289.47" cy="192.17" r="1.9"/><circle cx="290.39" cy="192.04" r="1.9"/><circle cx="291.32" cy="192.34" r="1.9"/><circle cx="292.25" cy="192.16" r="1.9"/><circle cx="293.18" cy="191.8" r="1.9"/><circle cx="294.1" cy="191.82" r="1.9"/><circle cx="295.03" cy="192.13" r="1.9"/><circle cx="295.96" cy="192.14" r="1.9"/><circle cx="296.88" cy="192.02" r="1.9"/><circle cx="297.81" cy="192.34" r="1.9"/><circle cx="298.74" cy="192.38" r="1.9"/><circle cx="299.66" cy="192.07" r="1.9"/><circle cx="300.59" cy="192.61" r="1.9"/><circle cx="301.52" cy="191.83" r="1.9"/><circle cx="302.44" cy="192.59" r="1.9"/><circle cx="303.37" cy="192.63" r="1.9"/><circle cx="304.3" cy="191.78" r="1.9"/><circle cx="305.22" cy="192.02" r="1.9"/><circle cx="306.15" cy="191.78" r="1.9"/><circle cx="307.08" cy="192.05" r="1.9"/><circle cx="308" cy="191.97" r="1.9"/><circle cx="308.93" cy="191.98" r="1.9"/><circle cx="309.86" cy="191.99" r="1.9"/><circle cx="310.78" cy="191.9" r="1.9"/><circle cx="311.71" cy="192.43" r="1.9"/><circle cx="312.64" cy="191.88" r="1.9"/><circle cx="313.56" cy="191.98" r="1.9"/><circle cx="314.49" cy="191.82" r="1.9"/><circle cx="315.42" cy="192.06" r="1.9"/><circle cx="316.35" cy="192.29" r="1.9"/><circle cx="317.27" cy="192.28" r="1.9"/><circle cx="318.2" cy="191.97" r="1.9"/><circle cx="319.13" cy="192.51" r="1.9"/><circle cx="320.05" cy="192.52" r="1.9"/><circle cx="320.98" cy="191.8" r="1.9"/><circle cx="321.91" cy="191.7" r="1.9"/><circle cx="322.83" cy="192.53" r="1.9"/><circle cx="323.76" cy="191.99" r="1.9"/><circle cx="324.69" cy="191.63" r="1.9"/><circle cx="325.61" cy="192.15" r="1.9"/><circle cx="326.54" cy="191.93" r="1.9"/><circle cx="327.47" cy="192.35" r="1.9"/><circle cx="328.39" cy="192.44" r="1.9"/><circle cx="329.32" cy="192.29" r="1.9"/><circle cx="330.25" cy="192.29" r="1.9"/><circle cx="331.17" cy="192.21" r="1.9"/><circle cx="332.1" cy="191.63" r="1.9"/><circle cx="333.03" cy="191.57" r="1.9"/><circle cx="333.95" cy="192.16" r="1.9"/><circle cx="334.88" cy="191.51" r="1.9"/><circle cx="335.81" cy="191.46" r="1.9"/><circle cx="336.73" cy="191.51" r="1.9"/><circle cx="337.66" cy="191.63" r="1.9"/><circle cx="338.59" cy="191.78" r="1.9"/><circle cx="339.52" cy="194.6" r="1.9"/><circle cx="340.44" cy="191.92" r="1.9"/><circle cx="341.37" cy="191.14" r="1.9"/><circle cx="342.3" cy="191.57" r="1.9"/><circle cx="343.22" cy="191.66" r="1.9"/><circle cx="344.15" cy="191.33" r="1.9"/><circle cx="345.08" cy="191.4" r="1.9"/><circle cx="346" cy="191.29" r="1.9"/><circle cx="346.93" cy="191.52" r="1.9"/><circle cx="347.86" cy="191.28" r="1.9"/><circle cx="348.78" cy="191" r="1.9"/><circle cx="349.71" cy="191.18" r="1.9"/><circle cx="350.64" cy="190.63" r="1.9"/><circle cx="351.56" cy="190.94" r="1.9"/><circle cx="352.49" cy="191.36" r="1.9"/><circle cx="353.42" cy="190.73" r="1.9"/><circle cx="354.34" cy="191.03" r="1.9"/><circle cx="355.27" cy="190.41" r="1.9"/><circle cx="356.2" cy="190.73" r="1.9"/><circle cx="357.12" cy="190.87" r="1.9"/><circle cx="358.05" cy="190.89" r="1.9"/><circle cx="358.98" cy="190.65" r="1.9"/><circle cx="359.9" cy="190.44" r="1.9"/><circle cx="360.83" cy="191.15" r="1.9"/><circle cx="361.76" cy="190.74" r="1.9"/><circle cx="362.69" cy="190.35" r="1.9"/><circle cx="363.61" cy="191.04" r="1.9"/><circle cx="364.54" cy="190.3" r="1.9"/><circle cx="365.47" cy="190.5" r="1.9"/><circle cx="366.39" cy="190.21" r="1.9"/><circle cx="367.32" cy="190.34" r="1.9"/><circle cx="368.25" cy="190.63" r="1.9"/><circle cx="369.17" cy="190.41" r="1.9"/><circle cx="370.1" cy="190.71" r="1.9"/><circle cx="371.03" cy="190.01" r="1.9"/><circle cx="371.95" cy="190.28" r="1.9"/><circle cx="372.88" cy="190.39" r="1.9"/><circle cx="373.81" cy="190.55" r="1.9"/><circle cx="374.73" cy="190.03" r="1.9"/><circle cx="375.66" cy="190.65" r="1.9"/><circle cx="376.59" cy="190" r="1.9"/><circle cx="377.51" cy="190.15" r="1.9"/><circle cx="378.44" cy="189.84" r="1.9"/><circle cx="379.37" cy="190.19" r="1.9"/><circle cx="380.29" cy="190.43" r="1.9"/><circle cx="381.22" cy="190.41" r="1.9"/><circle cx="382.15" cy="190.22" r="1.9"/><circle cx="383.07" cy="190.17" r="1.9"/><circle cx="384" cy="190.39" r="1.9"/><circle cx="384.93" cy="189.59" r="1.9"/><circle cx="385.86" cy="190.4" r="1.9"/><circle cx="386.78" cy="189.76" r="1.9"/><circle cx="387.71" cy="189.92" r="1.9"/><circle cx="388.64" cy="189.98" r="1.9"/><circle cx="389.56" cy="190.41" r="1.9"/><circle cx="390.49" cy="189.63" r="1.9"/><circle cx="391.42" cy="189.9" r="1.9"/><circle cx="392.34" cy="189.69" r="1.9"/><circle cx="393.27" cy="189.52" r="1.9"/><circle cx="394.2" cy="189.63" r="1.9"/><circle cx="395.12" cy="190.13" r="1.9"/><circle cx="396.05" cy="190.17" r="1.9"/><circle cx="396.98" cy="190.26" r="1.9"/><circle cx="397.9" cy="189.81" r="1.9"/><circle cx="398.83" cy="189.89" r="1.9"/><circle cx="399.76" cy="189.46" r="1.9"/><circle cx="400.68" cy="189.74" r="1.9"/><circle cx="401.61" cy="190.16" r="1.9"/><circle cx="402.54" cy="190.02" r="1.9"/><circle cx="403.46" cy="189.66" r="1.9"/><circle cx="404.39" cy="189.62" r="1.9"/><circle cx="405.32" cy="189.81" r="1.9"/><circle cx="406.24" cy="189.32" r="1.9"/><circle cx="407.17" cy="189.99" r="1.9"/><circle cx="408.1" cy="189.95" r="1.9"/><circle cx="409.03" cy="189.34" r="1.9"/><circle cx="409.95" cy="189.38" r="1.9"/><circle cx="410.88" cy="189.42" r="1.9"/><circle cx="411.81" cy="189.53" r="1.9"/><circle cx="412.73" cy="190.06" r="1.9"/><circle cx="413.66" cy="189.41" r="1.9"/><circle cx="414.59" cy="189.47" r="1.9"/><circle cx="415.51" cy="189.53" r="1.9"/><circle cx="416.44" cy="189.97" r="1.9"/><circle cx="417.37" cy="189.81" r="1.9"/><circle cx="418.29" cy="189.59" r="1.9"/><circle cx="419.22" cy="189.8" r="1.9"/><circle cx="420.15" cy="192.67" r="1.9"/><circle cx="421.07" cy="189.33" r="1.9"/><circle cx="422" cy="189.94" r="1.9"/><circle cx="422.93" cy="189.76" r="1.9"/><circle cx="423.85" cy="189.15" r="1.9"/><circle cx="424.78" cy="189.8" r="1.9"/><circle cx="425.71" cy="189.82" r="1.9"/><circle cx="426.63" cy="189.12" r="1.9"/><circle cx="427.56" cy="189.47" r="1.9"/><circle cx="428.49" cy="189.11" r="1.9"/><circle cx="429.41" cy="189.27" r="1.9"/><circle cx="430.34" cy="189.63" r="1.9"/><circle cx="431.27" cy="189.16" r="1.9"/><circle cx="432.2" cy="189.67" r="1.9"/><circle cx="433.12" cy="189.54" r="1.9"/><circle cx="434.05" cy="189.63" r="1.9"/><circle cx="434.98" cy="188.98" r="1.9"/><circle cx="435.9" cy="189.59" r="1.9"/><circle cx="436.83" cy="189.43" r="1.9"/><circle cx="437.76" cy="189.6" r="1.9"/><circle cx="438.68" cy="189.64" r="1.9"/><circle cx="439.61" cy="189.06" r="1.9"/><circle cx="440.54" cy="189.22" r="1.9"/><circle cx="441.46" cy="189.41" r="1.9"/><circle cx="442.39" cy="189.29" r="1.9"/><circle cx="443.32" cy="188.69" r="1.9"/><circle cx="444.24" cy="189.51" r="1.9"/><circle cx="445.17" cy="188.76" r="1.9"/><circle cx="446.1" cy="188.9" r="1.9"/><circle cx="447.02" cy="188.65" r="1.9"/><circle cx="447.95" cy="188.79" r="1.9"/><circle cx="448.88" cy="192.68" r="1.9"/><circle cx="449.8" cy="188.74" r="1.9"/><circle cx="450.73" cy="189.32" r="1.9"/><circle cx="451.66" cy="188.63" r="1.9"/><circle cx="452.58" cy="188.93" r="1.9"/><circle cx="453.51" cy="189.27" r="1.9"/><circle cx="454.44" cy="188.77" r="1.9"/><circle cx="455.37" cy="189.34" r="1.9"/><circle cx="456.29" cy="188.83" r="1.9"/><circle cx="457.22" cy="189.12" r="1.9"/><circle cx="458.15" cy="188.8" r="1.9"/><circle cx="459.07" cy="188.6" r="1.9"/><circle cx="460" cy="189.14" r="1.9"/><circle cx="460.93" cy="188.64" r="1.9"/><circle cx="461.85" cy="188.63" r="1.9"/><circle cx="462.78" cy="188.54" r="1.9"/><circle cx="463.71" cy="188.49" r="1.9"/><circle cx="464.63" cy="188.8" r="1.9"/><circle cx="465.56" cy="188.4" r="1.9"/><circle cx="466.49" cy="188.43" r="1.9"/><circle cx="467.41" cy="189.05" r="1.9"/><circle cx="468.34" cy="188.88" r="1.9"/><circle cx="469.27" cy="188.87" r="1.9"/><circle cx="470.19" cy="189.2" r="1.9"/><circle cx="471.12" cy="188.79" r="1.9"/><circle cx="472.05" cy="189.09" r="1.9"/><circle cx="472.97" cy="188.44" r="1.9"/><circle cx="473.9" cy="188.89" r="1.9"/><circle cx="474.83" cy="188.83" r="1.9"/><circle cx="475.75" cy="189.12" r="1.9"/><circle cx="476.68" cy="188.29" r="1.9"/><circle cx="477.61" cy="188.69" r="1.9"/><circle cx="478.54" cy="188.67" r="1.9"/><circle cx="479.46" cy="188.26" r="1.9"/><circle cx="480.39" cy="188.98" r="1.9"/><circle cx="481.32" cy="188.91" r="1.9"/><circle cx="482.24" cy="189.11" r="1.9"/><circle cx="483.17" cy="188.49" r="1.9"/><circle cx="484.1" cy="189.11" r="1.9"/><circle cx="485.02" cy="188.59" r="1.9"/><circle cx="485.95" cy="188.47" r="1.9"/><circle cx="486.88" cy="188.31" r="1.9"/><circle cx="487.8" cy="189.07" r="1.9"/><circle cx="488.73" cy="188.65" r="1.9"/><circle cx="489.66" cy="188.84" r="1.9"/><circle cx="490.58" cy="188.72" r="1.9"/><circle cx="491.51" cy="188.54" r="1.9"/><circle cx="492.44" cy="188.95" r="1.9"/><circle cx="493.36" cy="188.39" r="1.9"/><circle cx="494.29" cy="188.31" r="1.9"/><circle cx="495.22" cy="188.71" r="1.9"/><circle cx="496.14" cy="188.29" r="1.9"/><circle cx="497.07" cy="188.69" r="1.9"/><circle cx="498" cy="188.33" r="1.9"/><circle cx="498.92" cy="188.82" r="1.9"/><circle cx="499.85" cy="188.64" r="1.9"/><circle cx="500.78" cy="188.29" r="1.9"/><circle cx="501.71" cy="188.28" r="1.9"/><circle cx="502.63" cy="188.97" r="1.9"/><circle cx="503.56" cy="188.14" r="1.9"/><circle cx="504.49" cy="188.78" r="1.9"/><circle cx="505.41" cy="188.43" r="1.9"/><circle cx="506.34" cy="188.51" r="1.9"/><circle cx="507.27" cy="188.6" r="1.9"/><circle cx="508.19" cy="188.97" r="1.9"/><circle cx="509.12" cy="188.09" r="1.9"/><circle cx="510.05" cy="188.12" r="1.9"/><circle cx="510.97" cy="188.23" r="1.9"/><circle cx="511.9" cy="188.16" r="1.9"/>
</g>
<g fill="#fff" stroke="#ff4848" stroke-width="0.6">
<circle cx="49.43" cy="190.75" r="1.9"/><circle cx="50.35" cy="189.7" r="1.9"/><circle cx="51.28" cy="189.17" r="1.9"/><circle cx="52.21" cy="189.74" r="1.9"/><circle cx="53.13" cy="189.64" r="1.9"/><circle cx="54.06" cy="189.23" r="1.9"/><circle cx="54.99" cy="188.44" r="1.9"/><circle cx="55.91" cy="188.4" r="1.9"/><circle cx="56.84" cy="188.43" r="1.9"/><circle cx="57.77" cy="189.19" r="1.9"/><circle cx="58.69" cy="188.75" r="1.9"/><circle cx="59.62" cy="188.85" r="1.9"/><circle cx="60.55" cy="188.85" r="1.9"/><circle cx="61.48" cy="189.54" r="1.9"/><circle cx="62.4" cy="188.01" r="1.9"/><circle cx="63.33" cy="189.38" r="1.9"/><circle cx="64.26" cy="187.84" r="1.9"/><circle cx="65.18" cy="187.92" r="1.9"/><circle cx="66.11" cy="189.74" r="1.9"/><circle cx="67.04" cy="188.87" r="1.9"/><circle cx="67.96" cy="188.16" r="1.9"/><circle cx="68.89" cy="187.86" r="1.9"/><circle cx="69.82" cy="188.89" r="1.9"/><circle cx="70.74" cy="189.25" r="1.9"/><circle cx="71.67" cy="189.36" r="1.9"/><circle cx="72.6" cy="187.91" r="1.9"/><circle cx="73.52" cy="189.36" r="1.9"/><circle cx="74.45" cy="188.63" r="1.9"/><circle cx="75.38" cy="189.5" r="1.9"/><circle cx="76.3" cy="188.75" r="1.9"/><circle cx="77.23" cy="187.9" r="1.9"/><circle cx="78.16" cy="189.52" r="1.9"/><circle cx="79.08" cy="188.16" r="1.9"/><circle cx="80.01" cy="188.78" r="1.9"/><circle cx="80.94" cy="188.03" r="1.9"/><circle cx="81.86" cy="188.4" r="1.9"/><circle cx="82.79" cy="189.33" r="1.9"/><circle cx="83.72" cy="188.01" r="1.9"/><circle cx="84.65" cy="188.83" r="1.9"/><circle cx="85.57" cy="189.74" r="1.9"/><circle cx="86.5" cy="189.78" r="1.9"/><circle cx="87.43" cy="188.82" r="1.9"/><circle cx="88.35" cy="188.9" r="1.9"/><circle cx="89.28" cy="189.19" r="1.9"/><circle cx="90.21" cy="189.51" r="1.9"/><circle cx="91.13" cy="189.11" r="1.9"/><circle cx="92.06" cy="189.17" r="1.9"/><circle cx="92.99" cy="188.13" r="1.9"/><circle cx="93.91" cy="189.79" r="1.9"/><circle cx="94.84" cy="188.31" r="1.9"/><circle cx="95.77" cy="188.14" r="1.9"/><circle cx="96.69" cy="189.56" r="1.9"/><circle cx="97.62" cy="187.97" r="1.9"/><circle cx="98.55" cy="188.39" r="1.9"/><circle cx="99.47" cy="188.02" r="1.9"/><circle cx="100.4" cy="189.23" r="1.9"/><circle cx="101.33" cy="189.06" r="1.9"/><circle cx="102.25" cy="189.02" r="1.9"/><circle cx="103.18" cy="187.83" r="1.9"/><circle cx="104.11" cy="188.64" r="1.9"/><circle cx="105.03" cy="189.09" r="1.9"/><circle cx="105.96" cy="188.96" r="1.9"/><circle cx="106.89" cy="189.26" r="1.9"/><circle cx="107.82" cy="189.71" r="1.9"/><circle cx="108.74" cy="189.6" r="1.9"/><circle cx="109.67" cy="188.16" r="1.9"/><circle cx="110.6" cy="189.24" r="1.9"/><circle cx="111.52" cy="187.96" r="1.9"/><circle cx="112.45" cy="189.31" r="1.9"/><circle cx="113.38" cy="189.28" r="1.9"/><circle cx="114.3" cy="188.8" r="1.9"/><circle cx="115.23" cy="189.43" r="1.9"/><circle cx="116.16" cy="189.07" r="1.9"/><circle cx="117.08" cy="187.92" r="1.9"/><circle cx="118.01" cy="188.06" r="1.9"/><circle cx="118.94" cy="188.21" r="1.9"/><circle cx="119.86" cy="188.57" r="1.9"/><circle cx="120.79" cy="188.01" r="1.9"/><circle cx="121.72" cy="187.96" r="1.9"/><circle cx="122.64" cy="188.73" r="1.9"/><circle cx="123.57" cy="188.39" r="1.9"/><circle cx="124.5" cy="189.72" r="1.9"/><circle cx="125.42" cy="188.37" r="1.9"/><circle cx="126.35" cy="188.93" r="1.9"/><circle cx="127.28" cy="188.33" r="1.9"/><circle cx="128.2" cy="188.55" r="1.9"/><circle cx="129.13" cy="189.25" r="1.9"/><circle cx="130.06" cy="189.72" r="1.9"/><circle cx="130.99" cy="187.99" r="1.9"/><circle cx="131.91" cy="189.57" r="1.9"/><circle cx="132.84" cy="188.89" r="1.9"/><circle cx="133.77" cy="189.14" r="1.9"/><circle cx="134.69" cy="189.23" r="1.9"/><circle cx="135.62" cy="188.36" r="1.9"/><circle cx="136.55" cy="187.9" r="1.9"/><circle cx="137.47" cy="189.31" r="1.9"/><circle cx="138.4" cy="188.53" r="1.9"/><circle cx="139.33" cy="189.23" r="1.9"/><circle cx="140.25" cy="188.73" r="1.9"/><circle cx="141.18" cy="189.05" r="1.9"/><circle cx="142.11" cy="189.5" r="1.9"/><circle cx="143.03" cy="189.51" r="1.9"/><circle cx="143.96" cy="189.42" r="1.9"/><circle cx="144.89" cy="188.04" r="1.9"/><circle cx="145.81" cy="188.85" r="1.9"/><circle cx="146.74" cy="189.4" r="1.9"/><circle cx="147.67" cy="188.04" r="1.9"/><circle cx="148.59" cy="187.87" r="1.9"/><circle cx="149.52" cy="188.94" r="1.9"/><circle cx="150.45" cy="189.56" r="1.9"/><circle cx="151.37" cy="189.45" r="1.9"/><circle cx="152.3" cy="189.66" r="1.9"/><circle cx="153.23" cy="189.16" r="1.9"/><circle cx="154.16" cy="189.66" r="1.9"/><circle cx="155.08" cy="189.36" r="1.9"/><circle cx="156.01" cy="189.33" r="1.9"/><circle cx="156.94" cy="188.71" r="1.9"/><circle cx="157.86" cy="188.09" r="1.9"/><circle cx="158.79" cy="188.36" r="1.9"/><circle cx="159.72" cy="189.03" r="1.9"/><circle cx="160.64" cy="189.02" r="1.9"/><circle cx="161.57" cy="188.81" r="1.9"/><circle cx="162.5" cy="189.1" r="1.9"/><circle cx="163.42" cy="189.17" r="1.9"/><circle cx="164.35" cy="189.72" r="1.9"/><circle cx="165.28" cy="189.3" r="1.9"/><circle cx="166.2" cy="187.93" r="1.9"/><circle cx="167.13" cy="189.6" r="1.9"/><circle cx="168.06" cy="188.85" r="1.9"/><circle cx="168.98" cy="188.6" r="1.9"/><circle cx="169.91" cy="188.14" r="1.9"/><circle cx="170.84" cy="189.42" r="1.9"/><circle cx="171.76" cy="189.31" r="1.9"/><circle cx="172.69" cy="189.36" r="1.9"/><circle cx="173.62" cy="189.06" r="1.9"/><circle cx="174.54" cy="188.97" r="1.9"/><circle cx="175.47" cy="187.97" r="1.9"/><circle cx="176.4" cy="188.18" r="1.9"/><circle cx="177.33" cy="188.13" r="1.9"/><circle cx="178.25" cy="189.81" r="1.9"/><circle cx="179.18" cy="189.79" r="1.9"/><circle cx="180.11" cy="188.45" r="1.9"/><circle cx="181.03" cy="188.09" r="1.9"/><circle cx="181.96" cy="188.92" r="1.9"/><circle cx="182.89" cy="188.7" r="1.9"/><circle cx="183.81" cy="189.86" r="1.9"/><circle cx="184.74" cy="189.08" r="1.9"/><circle cx="185.67" cy="188.03" r="1.9"/><circle cx="186.59" cy="188.23" r="1.9"/><circle cx="187.52" cy="188.17" r="1.9"/><circle cx="188.45" cy="187.94" r="1.9"/><circle cx="189.37" cy="189.37" r="1.9"/><circle cx="190.3" cy="189.65" r="1.9"/><circle cx="191.23" cy="189.56" r="1.9"/><circle cx="192.15" cy="188.83" r="1.9"/><circle cx="193.08" cy="188.52" r="1.9"/><circle cx="194.01" cy="188.01" r="1.9"/><circle cx="194.93" cy="188.44" r="1.9"/><circle cx="195.86" cy="188.59" r="1.9"/><circle cx="196.79" cy="188.36" r="1.9"/><circle cx="197.71" cy="188.96" r="1.9"/><circle cx="198.64" cy="188.78" r="1.9"/><circle cx="199.57" cy="189.79" r="1.9"/><circle cx="200.5" cy="188.32" r="1.9"/><circle cx="201.42" cy="189.41" r="1.9"/><circle cx="202.35" cy="188.05" r="1.9"/><circle cx="203.28" cy="188.6" r="1.9"/><circle cx="204.2" cy="189.27" r="1.9"/><circle cx="205.13" cy="189.62" r="1.9"/><circle cx="206.06" cy="189.38" r="1.9"/><circle cx="206.98" cy="188.62" r="1.9"/><circle cx="207.91" cy="188.5" r="1.9"/><circle cx="208.84" cy="189.65" r="1.9"/><circle cx="209.76" cy="189.74" r="1.9"/><circle cx="210.69" cy="188.84" r="1.9"/><circle cx="211.62" cy="188.73" r="1.9"/><circle cx="212.54" cy="189.11" r="1.9"/><circle cx="213.47" cy="189.44" r="1.9"/><circle cx="214.4" cy="188.69" r="1.9"/><circle cx="215.32" cy="189.86" r="1.9"/><circle cx="216.25" cy="189.28" r="1.9"/><circle cx="217.18" cy="188.97" r="1.9"/><circle cx="218.1" cy="187.99" r="1.9"/><circle cx="219.03" cy="188.61" r="1.9"/><circle cx="219.96" cy="188.14" r="1.9"/><circle cx="220.88" cy="188.95" r="1.9"/><circle cx="221.81" cy="189.42" r="1.9"/><circle cx="222.74" cy="189.4" r="1.9"/><circle cx="223.67" cy="187.99" r="1.9"/><circle cx="224.59" cy="188.5" r="1.9"/><circle cx="225.52" cy="189.28" r="1.9"/><circle cx="226.45" cy="189.84" r="1.9"/><circle cx="227.37" cy="188.9" r="1.9"/><circle cx="228.3" cy="188.56" r="1.9"/><circle cx="229.23" cy="189.06" r="1.9"/><circle cx="230.15" cy="189.38" r="1.9"/><circle cx="231.08" cy="188.57" r="1.9"/><circle cx="232.01" cy="188.07" r="1.9"/><circle cx="232.93" cy="189.44" r="1.9"/><circle cx="233.86" cy="189.83" r="1.9"/><circle cx="234.79" cy="189.24" r="1.9"/><circle cx="235.71" cy="189.09" r="1.9"/><circle cx="236.64" cy="188.59" r="1.9"/><circle cx="237.57" cy="189.56" r="1.9"/><circle cx="238.49" cy="188.4" r="1.9"/><circle cx="239.42" cy="188.53" r="1.9"/><circle cx="240.35" cy="189.01" r="1.9"/><circle cx="241.27" cy="189.61" r="1.9"/><circle cx="242.2" cy="188.12" r="1.9"/><circle cx="243.13" cy="189.44" r="1.9"/><circle cx="244.05" cy="188.45" r="1.9"/><circle cx="244.98" cy="189.63" r="1.9"/><circle cx="245.91" cy="189.66" r="1.9"/><circle cx="246.84" cy="188.61" r="1.9"/><circle cx="247.76" cy="189.55" r="1.9"/><circle cx="248.69" cy="188.27" r="1.9"/><circle cx="249.62" cy="189.18" r="1.9"/><circle cx="250.54" cy="189.81" r="1.9"/><circle cx="251.47" cy="189.75" r="1.9"/><circle cx="252.4" cy="189.39" r="1.9"/><circle cx="253.32" cy="188.91" r="1.9"/><circle cx="254.25" cy="188.37" r="1.9"/><circle cx="255.18" cy="189.97" r="1.9"/><circle cx="256.1" cy="189.49" r="1.9"/><circle cx="257.03" cy="189.87" r="1.9"/><circle cx="257.96" cy="188.38" r="1.9"/><circle cx="258.88" cy="190.04" r="1.9"/><circle cx="259.81" cy="190.23" r="1.9"/><circle cx="260.74" cy="190.23" r="1.9"/><circle cx="261.66" cy="189.59" r="1.9"/><circle cx="262.59" cy="188.61" r="1.9"/><circle cx="263.52" cy="188.65" r="1.9"/><circle cx="264.44" cy="188.97" r="1.9"/><circle cx="265.37" cy="188.46" r="1.9"/><circle cx="266.3" cy="188.61" r="1.9"/><circle cx="267.22" cy="189.81" r="1.9"/><circle cx="268.15" cy="190.11" r="1.9"/><circle cx="269.08" cy="188.65" r="1.9"/><circle cx="270.01" cy="189.04" r="1.9"/><circle cx="270.93" cy="190.46" r="1.9"/><circle cx="271.86" cy="189.23" r="1.9"/><circle cx="272.79" cy="189.81" r="1.9"/><circle cx="273.71" cy="189.83" r="1.9"/><circle cx="274.64" cy="189.93" r="1.9"/><circle cx="275.57" cy="190.27" r="1.9"/><circle cx="276.49" cy="190.61" r="1.9"/><circle cx="277.42" cy="190.08" r="1.9"/><circle cx="278.35" cy="189.96" r="1.9"/><circle cx="279.27" cy="188.78" r="1.9"/><circle cx="280.2" cy="190.44" r="1.9"/><circle cx="281.13" cy="188.78" r="1.9"/><circle cx="282.05" cy="190.27" r="1.9"/><circle cx="282.98" cy="189.98" r="1.9"/><circle cx="283.91" cy="189.06" r="1.9"/><circle cx="284.83" cy="189.06" r="1.9"/><circle cx="285.76" cy="189.83" r="1.9"/><circle cx="286.69" cy="190.58" r="1.9"/><circle cx="287.61" cy="189.75" r="1.9"/><circle cx="288.54" cy="189.95" r="1.9"/><circle cx="289.47" cy="188.87" r="1.9"/><circle cx="290.39" cy="190.3" r="1.9"/><circle cx="291.32" cy="189.96" r="1.9"/><circle cx="292.25" cy="188.91" r="1.9"/><circle cx="293.18" cy="190.62" r="1.9"/><circle cx="294.1" cy="189.87" r="1.9"/><circle cx="295.03" cy="189.08" r="1.9"/><circle cx="295.96" cy="189.17" r="1.9"/><circle cx="296.88" cy="190.6" r="1.9"/><circle cx="297.81" cy="190.61" r="1.9"/><circle cx="298.74" cy="190.56" r="1.9"/><circle cx="299.66" cy="188.87" r="1.9"/><circle cx="300.59" cy="190.17" r="1.9"/><circle cx="301.52" cy="189.21" r="1.9"/><circle cx="302.44" cy="188.91" r="1.9"/><circle cx="303.37" cy="190.01" r="1.9"/><circle cx="304.3" cy="190.14" r="1.9"/><circle cx="305.22" cy="188.79" r="1.9"/><circle cx="306.15" cy="189.46" r="1.9"/><circle cx="307.08" cy="190.16" r="1.9"/><circle cx="308" cy="189.27" r="1.9"/><circle cx="308.93" cy="190.06" r="1.9"/><circle cx="309.86" cy="190.14" r="1.9"/><circle cx="310.78" cy="190.67" r="1.9"/><circle cx="311.71" cy="189.19" r="1.9"/><circle cx="312.64" cy="188.87" r="1.9"/><circle cx="313.56" cy="189.43" r="1.9"/><circle cx="314.49" cy="188.82" r="1.9"/><circle cx="315.42" cy="190.63" r="1.9"/><circle cx="316.35" cy="190.22" r="1.9"/><circle cx="317.27" cy="189.74" r="1.9"/><circle cx="318.2" cy="188.79" r="1.9"/><circle cx="319.13" cy="188.8" r="1.9"/><circle cx="320.05" cy="189.92" r="1.9"/><circle cx="320.98" cy="190.19" r="1.9"/><circle cx="321.91" cy="189.83" r="1.9"/><circle cx="322.83" cy="189.71" r="1.9"/><circle cx="323.76" cy="188.85" r="1.9"/><circle cx="324.69" cy="190.32" r="1.9"/><circle cx="325.61" cy="189.1" r="1.9"/><circle cx="326.54" cy="189.22" r="1.9"/><circle cx="327.47" cy="189.06" r="1.9"/><circle cx="328.39" cy="189.16" r="1.9"/><circle cx="329.32" cy="189.48" r="1.9"/><circle cx="330.25" cy="190.04" r="1.9"/><circle cx="331.17" cy="190.05" r="1.9"/><circle cx="332.1" cy="189.97" r="1.9"/><circle cx="333.03" cy="189.14" r="1.9"/><circle cx="333.95" cy="190.53" r="1.9"/><circle cx="334.88" cy="190.29" r="1.9"/><circle cx="335.81" cy="189.2" r="1.9"/><circle cx="336.73" cy="190.19" r="1.9"/><circle cx="337.66" cy="190.55" r="1.9"/><circle cx="338.59" cy="190.62" r="1.9"/><circle cx="339.52" cy="189.59" r="1.9"/><circle cx="340.44" cy="190.04" r="1.9"/><circle cx="341.37" cy="188.75" r="1.9"/><circle cx="342.3" cy="188.94" r="1.9"/><circle cx="343.22" cy="188.73" r="1.9"/><circle cx="344.15" cy="190.16" r="1.9"/><circle cx="345.08" cy="190.52" r="1.9"/><circle cx="346" cy="190.49" r="1.9"/><circle cx="346.93" cy="189.7" r="1.9"/><circle cx="347.86" cy="189.28" r="1.9"/><circle cx="348.78" cy="189.8" r="1.9"/><circle cx="349.71" cy="190.22" r="1.9"/><circle cx="350.64" cy="189.86" r="1.9"/><circle cx="351.56" cy="189.46" r="1.9"/><circle cx="352.49" cy="189.35" r="1.9"/><circle cx="353.42" cy="189.21" r="1.9"/><circle cx="354.34" cy="189.01" r="1.9"/><circle cx="355.27" cy="189.34" r="1.9"/><circle cx="356.2" cy="190.37" r="1.9"/><circle cx="357.12" cy="188.92" r="1.9"/><circle cx="358.05" cy="189.96" r="1.9"/><circle cx="358.98" cy="189.39" r="1.9"/><circle cx="359.9" cy="189.74" r="1.9"/><circle cx="360.83" cy="188.98" r="1.9"/><circle cx="361.76" cy="190.01" r="1.9"/><circle cx="362.69" cy="189.88" r="1.9"/><circle cx="363.61" cy="189.85" r="1.9"/><circle cx="364.54" cy="189.99" r="1.9"/><circle cx="365.47" cy="188.52" r="1.9"/><circle cx="366.39" cy="189.08" r="1.9"/><circle cx="367.32" cy="189.55" r="1.9"/><circle cx="368.25" cy="189.37" r="1.9"/><circle cx="369.17" cy="188.16" r="1.9"/><circle cx="370.1" cy="189.08" r="1.9"/><circle cx="371.03" cy="189.59" r="1.9"/><circle cx="371.95" cy="188.42" r="1.9"/><circle cx="372.88" cy="188.69" r="1.9"/><circle cx="373.81" cy="187.99" r="1.9"/><circle cx="374.73" cy="189.71" r="1.9"/><circle cx="375.66" cy="188.94" r="1.9"/><circle cx="376.59" cy="188.22" r="1.9"/><circle cx="377.51" cy="188.15" r="1.9"/><circle cx="378.44" cy="187.96" r="1.9"/><circle cx="379.37" cy="189.66" r="1.9"/><circle cx="380.29" cy="189.12" r="1.9"/><circle cx="381.22" cy="189.43" r="1.9"/><circle cx="382.15" cy="189.26" r="1.9"/><circle cx="383.07" cy="187.7" r="1.9"/><circle cx="384" cy="188.45" r="1.9"/><circle cx="384.93" cy="187.75" r="1.9"/><circle cx="385.86" cy="188.84" r="1.9"/><circle cx="386.78" cy="187.85" r="1.9"/><circle cx="387.71" cy="188.66" r="1.9"/><circle cx="388.64" cy="189.02" r="1.9"/><circle cx="389.56" cy="187.99" r="1.9"/><circle cx="390.49" cy="187.64" r="1.9"/><circle cx="391.42" cy="189.29" r="1.9"/><circle cx="392.34" cy="188.31" r="1.9"/><circle cx="393.27" cy="188.25" r="1.9"/><circle cx="394.2" cy="189.03" r="1.9"/><circle cx="395.12" cy="188.72" r="1.9"/><circle cx="396.05" cy="189.15" r="1.9"/><circle cx="396.98" cy="189.02" r="1.9"/><circle cx="397.9" cy="188.9" r="1.9"/><circle cx="398.83" cy="188.21" r="1.9"/><circle cx="399.76" cy="188.09" r="1.9"/><circle cx="400.68" cy="188.96" r="1.9"/><circle cx="401.61" cy="189.33" r="1.9"/><circle cx="402.54" cy="188.69" r="1.9"/><circle cx="403.46" cy="187.99" r="1.9"/><circle cx="404.39" cy="188.95" r="1.9"/><circle cx="405.32" cy="188.68" r="1.9"/><circle cx="406.24" cy="188.89" r="1.9"/><circle cx="407.17" cy="187.7" r="1.9"/><circle cx="408.1" cy="188.18" r="1.9"/><circle cx="409.03" cy="189.12" r="1.9"/><circle cx="409.95" cy="189.03" r="1.9"/><circle cx="410.88" cy="188.44" r="1.9"/><circle cx="411.81" cy="188.12" r="1.9"/><circle cx="412.73" cy="187.93" r="1.9"/><circle cx="413.66" cy="189" r="1.9"/><circle cx="414.59" cy="188.85" r="1.9"/><circle cx="415.51" cy="187.78" r="1.9"/><circle cx="416.44" cy="188.33" r="1.9"/><circle cx="417.37" cy="188.57" r="1.9"/><circle cx="418.29" cy="188.51" r="1.9"/><circle cx="419.22" cy="187.22" r="1.9"/><circle cx="420.15" cy="188.47" r="1.9"/><circle cx="421.07" cy="187.96" r="1.9"/><circle cx="422" cy="188.36" r="1.9"/><circle cx="422.93" cy="188.23" r="1.9"/><circle cx="423.85" cy="187.33" r="1.9"/><circle cx="424.78" cy="187.06" r="1.9"/><circle cx="425.71" cy="188.29" r="1.9"/><circle cx="426.63" cy="188.61" r="1.9"/><circle cx="427.56" cy="187.55" r="1.9"/><circle cx="428.49" cy="188.57" r="1.9"/><circle cx="429.41" cy="188.95" r="1.9"/><circle cx="430.34" cy="187.17" r="1.9"/><circle cx="431.27" cy="188.1" r="1.9"/><circle cx="432.2" cy="187.3" r="1.9"/><circle cx="433.12" cy="188.1" r="1.9"/><circle cx="434.05" cy="187.15" r="1.9"/><circle cx="434.98" cy="187.97" r="1.9"/><circle cx="435.9" cy="188.55" r="1.9"/><circle cx="436.83" cy="188.82" r="1.9"/><circle cx="437.76" cy="187.75" r="1.9"/><circle cx="438.68" cy="187.58" r="1.9"/><circle cx="439.61" cy="187.04" r="1.9"/><circle cx="440.54" cy="188.66" r="1.9"/><circle cx="441.46" cy="187.61" r="1.9"/><circle cx="442.39" cy="188.11" r="1.9"/><circle cx="443.32" cy="187.84" r="1.9"/><circle cx="444.24" cy="188.55" r="1.9"/><circle cx="445.17" cy="188.28" r="1.9"/><circle cx="446.1" cy="187.81" r="1.9"/><circle cx="447.02" cy="187.01" r="1.9"/><circle cx="447.95" cy="188.63" r="1.9"/><circle cx="448.88" cy="187.87" r="1.9"/><circle cx="449.8" cy="187.25" r="1.9"/><circle cx="450.73" cy="186.93" r="1.9"/><circle cx="451.66" cy="188.45" r="1.9"/><circle cx="452.58" cy="188.59" r="1.9"/><circle cx="453.51" cy="186.98" r="1.9"/><circle cx="454.44" cy="186.91" r="1.9"/><circle cx="455.37" cy="187.89" r="1.9"/><circle cx="456.29" cy="188.73" r="1.9"/><circle cx="457.22" cy="187.01" r="1.9"/><circle cx="458.15" cy="188.07" r="1.9"/><circle cx="459.07" cy="187.05" r="1.9"/><circle cx="460" cy="187.62" r="1.9"/><circle cx="460.93" cy="187.21" r="1.9"/><circle cx="461.85" cy="188.52" r="1.9"/><circle cx="462.78" cy="187.29" r="1.9"/><circle cx="463.71" cy="188.4" r="1.9"/><circle cx="464.63" cy="188.04" r="1.9"/><circle cx="465.56" cy="187.17" r="1.9"/><circle cx="466.49" cy="187.2" r="1.9"/><circle cx="467.41" cy="188.48" r="1.9"/><circle cx="468.34" cy="188.41" r="1.9"/><circle cx="469.27" cy="188.05" r="1.9"/><circle cx="470.19" cy="187.82" r="1.9"/><circle cx="471.12" cy="188.08" r="1.9"/><circle cx="472.05" cy="188.6" r="1.9"/><circle cx="472.97" cy="188.35" r="1.9"/><circle cx="473.9" cy="187.41" r="1.9"/><circle cx="474.83" cy="187.07" r="1.9"/><circle cx="475.75" cy="188.76" r="1.9"/><circle cx="476.68" cy="187.73" r="1.9"/><circle cx="477.61" cy="187.34" r="1.9"/><circle cx="478.54" cy="188.76" r="1.9"/><circle cx="479.46" cy="187.19" r="1.9"/><circle cx="480.39" cy="188.61" r="1.9"/><circle cx="481.32" cy="187.66" r="1.9"/><circle cx="482.24" cy="187.75" r="1.9"/><circle cx="483.17" cy="187.6" r="1.9"/><circle cx="484.1" cy="188.24" r="1.9"/><circle cx="485.02" cy="188.02" r="1.9"/><circle cx="485.95" cy="187.71" r="1.9"/><circle cx="486.88" cy="188.03" r="1.9"/><circle cx="487.8" cy="187.57" r="1.9"/><circle cx="488.73" cy="188" r="1.9"/><circle cx="489.66" cy="188.03" r="1.9"/><circle cx="490.58" cy="188.86" r="1.9"/><circle cx="491.51" cy="187.69" r="1.9"/><circle cx="492.44" cy="187.95" r="1.9"/><circle cx="493.36" cy="188.46" r="1.9"/><circle cx="494.29" cy="187.43" r="1.9"/><circle cx="495.22" cy="187.41" r="1.9"/><circle cx="496.14" cy="188.05" r="1.9"/><circle cx="497.07" cy="188.61" r="1.9"/><circle cx="498" cy="188.04" r="1.9"/><circle cx="498.92" cy="188.77" r="1.9"/><circle cx="499.85" cy="188.74" r="1.9"/><circle cx="500.78" cy="188.15" r="1.9"/><circle cx="501.71" cy="188.83" r="1.9"/><circle cx="502.63" cy="188.14" r="1.9"/><circle cx="503.56" cy="188.02" r="1.9"/><circle cx="504.49" cy="188.95" r="1.9"/><circle cx="505.41" cy="187.79" r="1.9"/><circle cx="506.34" cy="188.89" r="1.9"/><circle cx="507.27" cy="187.61" r="1.9"/><circle cx="508.19" cy="187.53" r="1.9"/><circle cx="509.12" cy="188.07" r="1.9"/><circle cx="510.05" cy="188.98" r="1.9"/><circle cx="510.97" cy="188.1" r="1.9"/><circle cx="511.9" cy="188.36" r="1.9"/>
</g>
<path d="M47.43 214.34a2 2 0 1 0 4 0a2 2 0 1 0 -4 0M48.35 224.35a2 2 0 1 0 4 0a2 2 0 1 0 -4 0M49.28 224.53a2 2 0 1 0 4 0a2 2 0 1 0 -4 0M50.21 243.83a2 2 0 1 0 4 0a2 2 0 1 0 -4 0M51.13 245.52a2 2 0 1 0 4 0a2 2 0 1 0 -4 0M52.06 247.11a2 2 0 1 0 4 0a2 2 0 1 0 -4 0M52.99 248.62a2 2 0 1 0 4 0a2 2 0 1 0 -4 0M53.91 249.53a2 2 0 1 0 4 0a2 2 0 1 0 -4 0M54.84 249.9a2 2 0 1 0 4 0a2 2 0 1 0 -4 0M55.77 250.56a2 2 0 1 0 4 0a2 2 0 1 0 -4 0M56.69 250.72a2 2 0 1 0 4 0a2 2 0 1 0 -4 0M57.62 251.88a2 2 0 1 0 4 0a2 2 0 1 0 -4 0M58.55 252.53a2 2 0 1 0 4 0a2 2 0 1 0 -4 0M59.48 253.03a2 2 0 1 0 4 0a2 2 0 1 0 -4 0M60.4 254.27a2 2 0 1 0 4 0a2 2 0 1 0 -4 0M61.33 254.66a2 2 0 1 0 4 0a2 2 0 1 0 -4 0M62.26 255.14a2 2 0 1 0 4 0a2 2 0 1 0 -4 0M63.18 256.31a2 2 0 1 0 4 0a2 2 0 1 0 -4 0M64.11 257.19a2 2 0 1 0 4 0a2 2 0 1 0 -4 0M65.04 257.27a2 2 0 1 0 4 0a2 2 0 1 0 -4 0M65.96 257.45a2 2 0 1 0 4 0a2 2 0 1 0 -4 0M66.89 258.02a2 2 0 1 0 4 0a2 2 0 1 0 -4 0M67.82 258.28a2 2 0 1 0 4 0a2 2 0 1 0 -4 0M68.74 258.51a2 2 0 1 0 4 0a2 2 0 1 0 -4 0M69.67 258.62a2 2 0 1 0 4 0a2 2 0 1 0 -4 0M70.6 258.58a2 2 0 1 0 4 0a2 2 0 1 0 -4 0M71.52 258.74a2 2 0 1 0 4 0a2 2 0 1 0 -4 0M72.45 258.84a2 2 0 1 0 4 0a2 2 0 1 0 -4 0M73.38 259.03a2 2 0 1 0 4 0a2 2 0 1 0 -4 0M74.3 258.7a2 2 0 1 0 4 0a2 2 0 1 0 -4 0M75.23 258.51a2 2 0 1 0 4 0a2 2 0 1 0 -4 0M76.16 258.76a2 2 0 1 0 4 0a2 2 0 1 0 -4 0M77.08 258.85a2 2 0 1 0 4 0a2 2 0 1 0 -4 0M78.01 258.84a2 2 0 1 0 4 0a2 2 0 1 0 -4 0M78.94 259.32a2 2 0 1 0 4 0a2 2 0 1 0 -4 0M79.86 258.98a2 2 0 1 0 4 0a2 2 0 1 0 -4 0M80.79 259.29a2 2 0 1 0 4 0a2 2 0 1 0 -4 0M81.72 259.31a2 2 0 1 0 4 0a2 2 0 1 0 -4 0M82.65 259.35a2 2 0 1 0 4 0a2 2 0 1 0 -4 0M83.57 259.57a2 2 0 1 0 4 0a2 2 0 1 0 -4 0M84.5 259.8a2 2 0 1 0 4 0a2 2 0 1 0 -4 0M85.43 259.95a2 2 0 1 0 4 0a2 2 0 1 0 -4 0M86.35 260.06a2 2 0 1 0 4 0a2 2 0 1 0 -4 0M87.28 259.91a2 2 0 1 0 4 0a2 2 0 1 0 -4 0M88.21 260.11a2 2 0 1 0 4 0a2 2 0 1 0 -4 0M89.13 260.04a2 2 0 1 0 4 0a2 2 0 1 0 -4 0M90.06 260.62a2 2 0 1 0 4 0a2 2 0 1 0 -4 0M90.99 260.42a2 2 0 1 0 4 0a2 2 0 1 0 -4 0M91.91 260.08a2 2 0 1 0 4 0a2 2 0 1 0 -4 0M92.84 260.71a2 2 0 1 0 4 0a2 2 0 1 0 -4 0M93.77 260.53a2 2 0 1 0 4 0a2 2 0 1 0 -4 0M94.69 260.68a2 2 0 1 0 4 0a2 2 0 1 0 -4 0M95.62 260.94a2 2 0 1 0 4 0a2 2 0 1 0 -4 0M96.55 260.42a2 2 0 1 0 4 0a2 2 0 1 0 -4 0M97.47 261.09a2 2 0 1 0 4 0a2 2 0 1 0 -4 0M98.4 260.77a2 2 0 1 0 4 0a2 2 0 1 0 -4 0M99.33 261.37a2 2 0 1 0 4 0a2 2 0 1 0 -4 0M100.25 261.53a2 2 0 1 0 4 0a2 2 0 1 0 -4 0M101.18 261.55a2 2 0 1 0 4 0a2 2 0 1 0 -4 0M102.11 263.57a2 2 0 1 0 4 0a2 2 0 1 0 -4 0M103.03 265.54a2 2 0 1 0 4 0a2 2 0 1 0 -4 0M103.96 266.47a2 2 0 1 0 4 0a2 2 0 1 0 -4 0M104.89 266.62a2 2 0 1 0 4 0a2 2 0 1 0 -4 0M105.82 266.56a2 2 0 1 0 4 0a2 2 0 1 0 -4 0M106.74 267.29a2 2 0 1 0 4 0a2 2 0 1 0 -4 0M107.67 267.38a2 2 0 1 0 4 0a2 2 0 1 0 -4 0M108.6 266.95a2 2 0 1 0 4 0a2 2 0 1 0 -4 0M109.52 267.31a2 2 0 1 0 4 0a2 2 0 1 0 -4 0M110.45 267.9a2 2 0 1 0 4 0a2 2 0 1 0 -4 0M111.38 267.84a2 2 0 1 0 4 0a2 2 0 1 0 -4 0M112.3 267.92a2 2 0 1 0 4 0a2 2 0 1 0 -4 0M113.23 267.73a2 2 0 1 0 4 0a2 2 0 1 0 -4 0M114.16 267.88a2 2 0 1 0 4 0a2 2 0 1 0 -4 0M115.08 267.77a2 2 0 1 0 4 0a2 2 0 1 0 -4 0M116.01 267.89a2 2 0 1 0 4 0a2 2 0 1 0 -4 0M116.94 268.24a2 2 0 1 0 4 0a2 2 0 1 0 -4 0M117.86 268.14a2 2 0 1 0 4 0a2 2 0 1 0 -4 0M118.79 268.16a2 2 0 1 0 4 0a2 2 0 1 0 -4 0M119.72 268.16a2 2 0 1 0 4 0a2 2 0 1 0 -4 0M120.64 268.42a2 2 0 1 0 4 0a2 2 0 1 0 -4 0M121.57 268.17a2 2 0 1 0 4 0a2 2 0 1 0 -4 0M122.5 268.26a2 2 0 1 0 4 0a2 2 0 1 0 -4 0M123.42 268.1a2 2 0 1 0 4 0a2 2 0 1 0 -4 0M124.35 268.79a2 2 0 1 0 4 0a2 2 0 1 0 -4 0M125.28 268.17a2 2 0 1 0 4 0a2 2 0 1 0 -4 0M126.2 268.93a2 2 0 1 0 4 0a2 2 0 1 0 -4 0M127.13 268.3a2 2 0 1 0 4 0a2 2 0 1 0 -4 0M128.06 268.47a2 2 0 1 0 4 0a2 2 0 1 0 -4 0M128.99 268.56a2 2 0 1 0 4 0a2 2 0 1 0 -4 0M129.91 268.05a2 2 0 1 0 4 0a2 2 0 1 0 -4 0M130.84 268.27a2 2 0 1 0 4 0a2 2 0 1 0 -4 0M131.77 268.29a2 2 0 1 0 4 0a2 2 0 1 0 -4 0M132.69 267.87a2 2 0 1 0 4 0a2 2 0 1 0 -4 0M133.62 267.68a2 2 0 1 0 4 0a2 2 0 1 0 -4 0M134.55 267.79a2 2 0 1 0 4 0a2 2 0 1 0 -4 0M135.47 267.88a2 2 0 1 0 4 0a2 2 0 1 0 -4 0M136.4 267.7a2 2 0 1 0 4 0a2 2 0 1 0 -4 0M137.33 267.58a2 2 0 1 0 4 0a2 2 0 1 0 -4 0M138.25 267.44a2 2 0 1 0 4 0a2 2 0 1 0 -4 0M139.18 268.09a2 2 0 1 0 4 0a2 2 0 1 0 -4 0M140.11 268.28a2 2 0 1 0 4 0a2 2 0 1 0 -4 0M141.03 268.42a2 2 0 1 0 4 0a2 2 0 1 0 -4 0M141.96 268.85a2 2 0 1 0 4 0a2 2 0 1 0 -4 0M142.89 269.18a2 2 0 1 0 4 0a2 2 0 1 0 -4 0M143.81 269.17a2 2 0 1 0 4 0a2 2 0 1 0 -4 0M144.74 269.66a2 2 0 1 0 4 0a2 2 0 1 0 -4 0M145.67 270.51a2 2 0 1 0 4 0a2 2 0 1 0 -4 0M146.59 271.1a2 2 0 1 0 4 0a2 2 0 1 0 -4 0M147.52 271.55a2 2 0 1 0 4 0a2 2 0 1 0 -4 0M148.45 271.36a2 2 0 1 0 4 0a2 2 0 1 0 -4 0M149.37 271.41a2 2 0 1 0 4 0a2 2 0 1 0 -4 0M150.3 270.96a2 2 0 1 0 4 0a2 2 0 1 0 -4 0M151.23 270.87a2 2 0 1 0 4 0a2 2 0 1 0 -4 0M152.16 271.2a2 2 0 1 0 4 0a2 2 0 1 0 -4 0M153.08 270.41a2 2 0 1 0 4 0a2 2 0 1 0 -4 0M154.01 270.83a2 2 0 1 0 4 0a2 2 0 1 0 -4 0M154.94 270.3a2 2 0 1 0 4 0a2 2 0 1 0 -4 0M155.86 270.22a2 2 0 1 0 4 0a2 2 0 1 0 -4 0M156.79 270.11a2 2 0 1 0 4 0a2 2 0 1 0 -4 0M157.72 270.8a2 2 0 1 0 4 0a2 2 0 1 0 -4 0M158.64 270.65a2 2 0 1 0 4 0a2 2 0 1 0 -4 0M159.57 270.28a2 2 0 1 0 4 0a2 2 0 1 0 -4 0M160.5 271.09a2 2 0 1 0 4 0a2 2 0 1 0 -4 0M161.42 271.1a2 2 0 1 0 4 0a2 2 0 1 0 -4 0M162.35 270.71a2 2 0 1 0 4 0a2 2 0 1 0 -4 0M163.28 270.81a2 2 0 1 0 4 0a2 2 0 1 0 -4 0M164.2 270.49a2 2 0 1 0 4 0a2 2 0 1 0 -4 0M165.13 270.66a2 2 0 1 0 4 0a2 2 0 1 0 -4 0M166.06 270.94a2 2 0 1 0 4 0a2 2 0 1 0 -4 0M166.98 270.63a2 2 0 1 0 4 0a2 2 0 1 0 -4 0M167.91 271.13a2 2 0 1 0 4 0a2 2 0 1 0 -4 0M168.84 271.22a2 2 0 1 0 4 0a2 2 0 1 0 -4 0M169.76 271.16a2 2 0 1 0 4 0a2 2 0 1 0 -4 0M170.69 271.5a2 2 0 1 0 4 0a2 2 0 1 0 -4 0M171.62 271.61a2 2 0 1 0 4 0a2 2 0 1 0 -4 0M172.54 271.5a2 2 0 1 0 4 0a2 2 0 1 0 -4 0M173.47 271.79a2 2 0 1 0 4 0a2 2 0 1 0 -4 0M174.4 271.37a2 2 0 1 0 4 0a2 2 0 1 0 -4 0M175.33 271.83a2 2 0 1 0 4 0a2 2 0 1 0 -4 0M176.25 272.2a2 2 0 1 0 4 0a2 2 0 1 0 -4 0M177.18 272.79a2 2 0 1 0 4 0a2 2 0 1 0 -4 0M178.11 272.79a2 2 0 1 0 4 0a2 2 0 1 0 -4 0M179.03 273a2 2 0 1 0 4 0a2 2 0 1 0 -4 0M179.96 273.09a2 2 0 1 0 4 0a2 2 0 1 0 -4 0M180.89 273.31a2 2 0 1 0 4 0a2 2 0 1 0 -4 0M181.81 273.24a2 2 0 1 0 4 0a2 2 0 1 0 -4 0M182.74 273.17a2 2 0 1 0 4 0a2 2 0 1 0 -4 0M183.67 273.57a2 2 0 1 0 4 0a2 2 0 1 0 -4 0M184.59 273.61a2 2 0 1 0 4 0a2 2 0 1 0 -4 0M185.52 273.46a2 2 0 1 0 4 0a2 2 0 1 0 -4 0M186.45 273.14a2 2 0 1 0 4 0a2 2 0 1 0 -4 0M187.37 273.7a2 2 0 1 0 4 0a2 2 0 1 0 -4 0M188.3 273.54a2 2 0 1 0 4 0a2 2 0 1 0 -4 0M189.23 273.29a2 2 0 1 0 4 0a2 2 0 1 0 -4 0M190.15 273.84a2 2 0 1 0 4 0a2 2 0 1 0 -4 0M191.08 273.72a2 2 0 1 0 4 0a2 2 0 1 0 -4 0M192.01 273.16a2 2 0 1 0 4 0a2 2 0 1 0 -4 0M192.93 273.14a2 2 0 1 0 4 0a2 2 0 1 0 -4 0M193.86 273.11a2 2 0 1 0 4 0a2 2 0 1 0 -4 0M194.79 273.16a2 2 0 1 0 4 0a2 2 0 1 0 -4 0M195.71 272.2a2 2 0 1 0 4 0a2 2 0 1 0 -4 0M196.64 272.07a2 2 0 1 0 4 0a2 2 0 1 0 -4 0M197.57 271.63a2 2 0 1 0 4 0a2 2 0 1 0 -4 0M198.5 271.16a2 2 0 1 0 4 0a2 2 0 1 0 -4 0M199.42 270.92a2 2 0 1 0 4 0a2 2 0 1 0 -4 0M200.35 271a2 2 0 1 0 4 0a2 2 0 1 0 -4 0M201.28 270.9a2 2 0 1 0 4 0a2 2 0 1 0 -4 0M202.2 270.65a2 2 0 1 0 4 0a2 2 0 1 0 -4 0M203.13 270.47a2 2 0 1 0 4 0a2 2 0 1 0 -4 0M204.06 270.47a2 2 0 1 0 4 0a2 2 0 1 0 -4 0M204.98 270.74a2 2 0 1 0 4 0a2 2 0 1 0 -4 0M205.91 270.75a2 2 0 1 0 4 0a2 2 0 1 0 -4 0M206.84 270.36a2 2 0 1 0 4 0a2 2 0 1 0 -4 0M207.76 270.39a2 2 0 1 0 4 0a2 2 0 1 0 -4 0M208.69 270.6a2 2 0 1 0 4 0a2 2 0 1 0 -4 0M209.62 270.05a2 2 0 1 0 4 0a2 2 0 1 0 -4 0M210.54 270.36a2 2 0 1 0 4 0a2 2 0 1 0 -4 0M211.47 270.97a2 2 0 1 0 4 0a2 2 0 1 0 -4 0M212.4 270.79a2 2 0 1 0 4 0a2 2 0 1 0 -4 0M213.32 270.6a2 2 0 1 0 4 0a2 2 0 1 0 -4 0M214.25 271.14a2 2 0 1 0 4 0a2 2 0 1 0 -4 0M215.18 270.94a2 2 0 1 0 4 0a2 2 0 1 0 -4 0M216.1 271.65a2 2 0 1 0 4 0a2 2 0 1 0 -4 0M217.03 271.53a2 2 0 1 0 4 0a2 2 0 1 0 -4 0M217.96 271.2a2 2 0 1 0 4 0a2 2 0 1 0 -4 0M218.88 271.55a2 2 0 1 0 4 0a2 2 0 1 0 -4 0M219.81 271.61a2 2 0 1 0 4 0a2 2 0 1 0 -4 0M220.74 272.13a2 2 0 1 0 4 0a2 2 0 1 0 -4 0M221.67 272a2 2 0 1 0 4 0a2 2 0 1 0 -4 0M222.59 272.07a2 2 0 1 0 4 0a2 2 0 1 0 -4 0M223.52 272.44a2 2 0 1 0 4 0a2 2 0 1 0 -4 0M224.45 272.23a2 2 0 1 0 4 0a2 2 0 1 0 -4 0M225.37 272.45a2 2 0 1 0 4 0a2 2 0 1 0 -4 0M226.3 272.18a2 2 0 1 0 4 0a2 2 0 1 0 -4 0M227.23 272.68a2 2 0 1 0 4 0a2 2 0 1 0 -4 0M228.15 273.17a2 2 0 1 0 4 0a2 2 0 1 0 -4 0M229.08 273.77a2 2 0 1 0 4 0a2 2 0 1 0 -4 0M230.01 274.09a2 2 0 1 0 4 0a2 2 0 1 0 -4 0M230.93 273.93a2 2 0 1 0 4 0a2 2 0 1 0 -4 0M231.86 274.83a2 2 0 1 0 4 0a2 2 0 1 0 -4 0M232.79 275.19a2 2 0 1 0 4 0a2 2 0 1 0 -4 0M233.71 275.48a2 2 0 1 0 4 0a2 2 0 1 0 -4 0M234.64 275.62a2 2 0 1 0 4 0a2 2 0 1 0 -4 0M235.57 276.18a2 2 0 1 0 4 0a2 2 0 1 0 -4 0M236.49 277.18a2 2 0 1 0 4 0a2 2 0 1 0 -4 0M237.42 277.83a2 2 0 1 0 4 0a2 2 0 1 0 -4 0M238.35 277.69a2 2 0 1 0 4 0a2 2 0 1 0 -4 0M239.27 276.56a2 2 0 1 0 4 0a2 2 0 1 0 -4 0M240.2 274.74a2 2 0 1 0 4 0a2 2 0 1 0 -4 0M241.13 273.95a2 2 0 1 0 4 0a2 2 0 1 0 -4 0M242.05 273.38a2 2 0 1 0 4 0a2 2 0 1 0 -4 0M242.98 273.69a2 2 0 1 0 4 0a2 2 0 1 0 -4 0M243.91 273.85a2 2 0 1 0 4 0a2 2 0 1 0 -4 0M244.84 273.76a2 2 0 1 0 4 0a2 2 0 1 0 -4 0M245.76 273.9a2 2 0 1 0 4 0a2 2 0 1 0 -4 0M246.69 273.22a2 2 0 1 0 4 0a2 2 0 1 0 -4 0M247.62 273.49a2 2 0 1 0 4 0a2 2 0 1 0 -4 0M248.54 273.69a2 2 0 1 0 4 0a2 2 0 1 0 -4 0M249.47 273.68a2 2 0 1 0 4 0a2 2 0 1 0 -4 0M250.4 273.8a2 2 0 1 0 4 0a2 2 0 1 0 -4 0M251.32 274.15a2 2 0 1 0 4 0a2 2 0 1 0 -4 0M252.25 273.51a2 2 0 1 0 4 0a2 2 0 1 0 -4 0M253.18 273.84a2 2 0 1 0 4 0a2 2 0 1 0 -4 0M254.1 273.59a2 2 0 1 0 4 0a2 2 0 1 0 -4 0M255.03 274.1a2 2 0 1 0 4 0a2 2 0 1 0 -4 0M255.96 274.02a2 2 0 1 0 4 0a2 2 0 1 0 -4 0M256.88 274.4a2 2 0 1 0 4 0a2 2 0 1 0 -4 0M257.81 274.65a2 2 0 1 0 4 0a2 2 0 1 0 -4 0M258.74 273.96a2 2 0 1 0 4 0a2 2 0 1 0 -4 0M259.66 274.09a2 2 0 1 0 4 0a2 2 0 1 0 -4 0M260.59 274.62a2 2 0 1 0 4 0a2 2 0 1 0 -4 0M261.52 274.19a2 2 0 1 0 4 0a2 2 0 1 0 -4 0M262.44 274.3a2 2 0 1 0 4 0a2 2 0 1 0 -4 0M263.37 274.77a2 2 0 1 0 4 0a2 2 0 1 0 -4 0M264.3 274.55a2 2 0 1 0 4 0a2 2 0 1 0 -4 0M265.22 274.28a2 2 0 1 0 4 0a2 2 0 1 0 -4 0M266.15 274.72a2 2 0 1 0 4 0a2 2 0 1 0 -4 0M267.08 274.36a2 2 0 1 0 4 0a2 2 0 1 0 -4 0M268.01 275a2 2 0 1 0 4 0a2 2 0 1 0 -4 0M268.93 274.91a2 2 0 1 0 4 0a2 2 0 1 0 -4 0M269.86 274.67a2 2 0 1 0 4 0a2 2 0 1 0 -4 0M270.79 275.13a2 2 0 1 0 4 0a2 2 0 1 0 -4 0M271.71 275.09a2 2 0 1 0 4 0a2 2 0 1 0 -4 0M272.64 275.51a2 2 0 1 0 4 0a2 2 0 1 0 -4 0M273.57 277.6a2 2 0 1 0 4 0a2 2 0 1 0 -4 0M274.49 278.2a2 2 0 1 0 4 0a2 2 0 1 0 -4 0M275.42 278.64a2 2 0 1 0 4 0a2 2 0 1 0 -4 0M276.35 278.68a2 2 0 1 0 4 0a2 2 0 1 0 -4 0M277.27 278.5a2 2 0 1 0 4 0a2 2 0 1 0 -4 0M278.2 278.62a2 2 0 1 0 4 0a2 2 0 1 0 -4 0M279.13 277.92a2 2 0 1 0 4 0a2 2 0 1 0 -4 0M280.05 278.48a2 2 0 1 0 4 0a2 2 0 1 0 -4 0M280.98 278.22a2 2 0 1 0 4 0a2 2 0 1 0 -4 0M281.91 278.58a2 2 0 1 0 4 0a2 2 0 1 0 -4 0M282.83 275.68a2 2 0 1 0 4 0a2 2 0 1 0 -4 0M283.76 276.97a2 2 0 1 0 4 0a2 2 0 1 0 -4 0M284.69 278.36a2 2 0 1 0 4 0a2 2 0 1 0 -4 0M285.61 278.69a2 2 0 1 0 4 0a2 2 0 1 0 -4 0M286.54 278.69a2 2 0 1 0 4 0a2 2 0 1 0 -4 0M287.47 278.13a2 2 0 1 0 4 0a2 2 0 1 0 -4 0M288.39 278.58a2 2 0 1 0 4 0a2 2 0 1 0 -4 0M289.32 278.68a2 2 0 1 0 4 0a2 2 0 1 0 -4 0M290.25 278.73a2 2 0 1 0 4 0a2 2 0 1 0 -4 0M291.18 278.65a2 2 0 1 0 4 0a2 2 0 1 0 -4 0M292.1 278.69a2 2 0 1 0 4 0a2 2 0 1 0 -4 0M293.03 278.86a2 2 0 1 0 4 0a2 2 0 1 0 -4 0M293.96 278.32a2 2 0 1 0 4 0a2 2 0 1 0 -4 0M294.88 278.6a2 2 0 1 0 4 0a2 2 0 1 0 -4 0M295.81 278.76a2 2 0 1 0 4 0a2 2 0 1 0 -4 0M296.74 278.29a2 2 0 1 0 4 0a2 2 0 1 0 -4 0M297.66 278.81a2 2 0 1 0 4 0a2 2 0 1 0 -4 0M298.59 279.04a2 2 0 1 0 4 0a2 2 0 1 0 -4 0M299.52 278.94a2 2 0 1 0 4 0a2 2 0 1 0 -4 0M300.44 279.92a2 2 0 1 0 4 0a2 2 0 1 0 -4 0M301.37 280.03a2 2 0 1 0 4 0a2 2 0 1 0 -4 0M302.3 280.08a2 2 0 1 0 4 0a2 2 0 1 0 -4 0M303.22 280.48a2 2 0 1 0 4 0a2 2 0 1 0 -4 0M304.15 281.42a2 2 0 1 0 4 0a2 2 0 1 0 -4 0M305.08 281.63a2 2 0 1 0 4 0a2 2 0 1 0 -4 0M306 281.7a2 2 0 1 0 4 0a2 2 0 1 0 -4 0M306.93 282.35a2 2 0 1 0 4 0a2 2 0 1 0 -4 0M307.86 282.16a2 2 0 1 0 4 0a2 2 0 1 0 -4 0M308.78 283.1a2 2 0 1 0 4 0a2 2 0 1 0 -4 0M309.71 282.77a2 2 0 1 0 4 0a2 2 0 1 0 -4 0M310.64 283.45a2 2 0 1 0 4 0a2 2 0 1 0 -4 0M311.56 283.98a2 2 0 1 0 4 0a2 2 0 1 0 -4 0M312.49 284.09a2 2 0 1 0 4 0a2 2 0 1 0 -4 0M313.42 284.67a2 2 0 1 0 4 0a2 2 0 1 0 -4 0M314.35 284.38a2 2 0 1 0 4 0a2 2 0 1 0 -4 0M315.27 284.8a2 2 0 1 0 4 0a2 2 0 1 0 -4 0M316.2 284.3a2 2 0 1 0 4 0a2 2 0 1 0 -4 0M317.13 284.61a2 2 0 1 0 4 0a2 2 0 1 0 -4 0M318.05 284.84a2 2 0 1 0 4 0a2 2 0 1 0 -4 0M318.98 284.99a2 2 0 1 0 4 0a2 2 0 1 0 -4 0M319.91 284.73a2 2 0 1 0 4 0a2 2 0 1 0 -4 0M320.83 285.11a2 2 0 1 0 4 0a2 2 0 1 0 -4 0M321.76 284.59a2 2 0 1 0 4 0a2 2 0 1 0 -4 0M322.69 285.28a2 2 0 1 0 4 0a2 2 0 1 0 -4 0M323.61 284.99a2 2 0 1 0 4 0a2 2 0 1 0 -4 0M324.54 285.01a2 2 0 1 0 4 0a2 2 0 1 0 -4 0M325.47 285.29a2 2 0 1 0 4 0a2 2 0 1 0 -4 0M326.39 284.9a2 2 0 1 0 4 0a2 2 0 1 0 -4 0M327.32 285.28a2 2 0 1 0 4 0a2 2 0 1 0 -4 0M328.25 285.09a2 2 0 1 0 4 0a2 2 0 1 0 -4 0M329.17 285.21a2 2 0 1 0 4 0a2 2 0 1 0 -4 0M330.1 285.47a2 2 0 1 0 4 0a2 2 0 1 0 -4 0M331.03 285.45a2 2 0 1 0 4 0a2 2 0 1 0 -4 0M331.95 285.75a2 2 0 1 0 4 0a2 2 0 1 0 -4 0M332.88 285.71a2 2 0 1 0 4 0a2 2 0 1 0 -4 0M333.81 285.18a2 2 0 1 0 4 0a2 2 0 1 0 -4 0M334.73 285.73a2 2 0 1 0 4 0a2 2 0 1 0 -4 0M335.66 285.54a2 2 0 1 0 4 0a2 2 0 1 0 -4 0M336.59 286.12a2 2 0 1 0 4 0a2 2 0 1 0 -4 0M337.52 285.83a2 2 0 1 0 4 0a2 2 0 1 0 -4 0M338.44 286.11a2 2 0 1 0 4 0a2 2 0 1 0 -4 0M339.37 286.1a2 2 0 1 0 4 0a2 2 0 1 0 -4 0M340.3 286.37a2 2 0 1 0 4 0a2 2 0 1 0 -4 0M341.22 286.67a2 2 0 1 0 4 0a2 2 0 1 0 -4 0M342.15 286.57a2 2 0 1 0 4 0a2 2 0 1 0 -4 0M343.08 286.7a2 2 0 1 0 4 0a2 2 0 1 0 -4 0M344 286.82a2 2 0 1 0 4 0a2 2 0 1 0 -4 0M344.93 286.35a2 2 0 1 0 4 0a2 2 0 1 0 -4 0M345.86 286.75a2 2 0 1 0 4 0a2 2 0 1 0 -4 0M346.78 286.67a2 2 0 1 0 4 0a2 2 0 1 0 -4 0M347.71 286.27a2 2 0 1 0 4 0a2 2 0 1 0 -4 0M348.64 286.42a2 2 0 1 0 4 0a2 2 0 1 0 -4 0M349.56 286.36a2 2 0 1 0 4 0a2 2 0 1 0 -4 0M350.49 286.41a2 2 0 1 0 4 0a2 2 0 1 0 -4 0M351.42 287.06a2 2 0 1 0 4 0a2 2 0 1 0 -4 0M352.34 286.97a2 2 0 1 0 4 0a2 2 0 1 0 -4 0M353.27 287.21a2 2 0 1 0 4 0a2 2 0 1 0 -4 0M354.2 286.69a2 2 0 1 0 4 0a2 2 0 1 0 -4 0M355.12 286.73a2 2 0 1 0 4 0a2 2 0 1 0 -4 0M356.05 287.37a2 2 0 1 0 4 0a2 2 0 1 0 -4 0M356.98 287.78a2 2 0 1 0 4 0a2 2 0 1 0 -4 0M357.9 288.03a2 2 0 1 0 4 0a2 2 0 1 0 -4 0M358.83 288.45a2 2 0 1 0 4 0a2 2 0 1 0 -4 0M359.76 289.29a2 2 0 1 0 4 0a2 2 0 1 0 -4 0M360.69 289.24a2 2 0 1 0 4 0a2 2 0 1 0 -4 0M361.61 289.7a2 2 0 1 0 4 0a2 2 0 1 0 -4 0M362.54 289.5a2 2 0 1 0 4 0a2 2 0 1 0 -4 0M363.47 289.92a2 2 0 1 0 4 0a2 2 0 1 0 -4 0M364.39 290.01a2 2 0 1 0 4 0a2 2 0 1 0 -4 0M365.32 289.37a2 2 0 1 0 4 0a2 2 0 1 0 -4 0M366.25 289.56a2 2 0 1 0 4 0a2 2 0 1 0 -4 0M367.17 289.61a2 2 0 1 0 4 0a2 2 0 1 0 -4 0M368.1 290.22a2 2 0 1 0 4 0a2 2 0 1 0 -4 0M369.03 290.26a2 2 0 1 0 4 0a2 2 0 1 0 -4 0M369.95 290.19a2 2 0 1 0 4 0a2 2 0 1 0 -4 0M370.88 290.19a2 2 0 1 0 4 0a2 2 0 1 0 -4 0M371.81 290.11a2 2 0 1 0 4 0a2 2 0 1 0 -4 0M372.73 289.92a2 2 0 1 0 4 0a2 2 0 1 0 -4 0M373.66 290.1a2 2 0 1 0 4 0a2 2 0 1 0 -4 0M374.59 289.23a2 2 0 1 0 4 0a2 2 0 1 0 -4 0M375.51 288.27a2 2 0 1 0 4 0a2 2 0 1 0 -4 0M376.44 289.86a2 2 0 1 0 4 0a2 2 0 1 0 -4 0M377.37 290.06a2 2 0 1 0 4 0a2 2 0 1 0 -4 0M378.29 290.63a2 2 0 1 0 4 0a2 2 0 1 0 -4 0M379.22 290.77a2 2 0 1 0 4 0a2 2 0 1 0 -4 0M380.15 291.27a2 2 0 1 0 4 0a2 2 0 1 0 -4 0M381.07 291.23a2 2 0 1 0 4 0a2 2 0 1 0 -4 0M382 291.13a2 2 0 1 0 4 0a2 2 0 1 0 -4 0M382.93 291.52a2 2 0 1 0 4 0a2 2 0 1 0 -4 0M383.86 291.92a2 2 0 1 0 4 0a2 2 0 1 0 -4 0M384.78 291.32a2 2 0 1 0 4 0a2 2 0 1 0 -4 0M385.71 291.48a2 2 0 1 0 4 0a2 2 0 1 0 -4 0M386.64 292.01a2 2 0 1 0 4 0a2 2 0 1 0 -4 0M387.56 292.32a2 2 0 1 0 4 0a2 2 0 1 0 -4 0M388.49 291.74a2 2 0 1 0 4 0a2 2 0 1 0 -4 0M389.42 292.06a2 2 0 1 0 4 0a2 2 0 1 0 -4 0M390.34 292.65a2 2 0 1 0 4 0a2 2 0 1 0 -4 0M391.27 292.59a2 2 0 1 0 4 0a2 2 0 1 0 -4 0M392.2 292.66a2 2 0 1 0 4 0a2 2 0 1 0 -4 0M393.12 291.94a2 2 0 1 0 4 0a2 2 0 1 0 -4 0M394.05 292.3a2 2 0 1 0 4 0a2 2 0 1 0 -4 0M394.98 291.56a2 2 0 1 0 4 0a2 2 0 1 0 -4 0M395.9 291.56a2 2 0 1 0 4 0a2 2 0 1 0 -4 0M396.83 290.41a2 2 0 1 0 4 0a2 2 0 1 0 -4 0M397.76 290.29a2 2 0 1 0 4 0a2 2 0 1 0 -4 0M398.68 291.87a2 2 0 1 0 4 0a2 2 0 1 0 -4 0M399.61 291.85a2 2 0 1 0 4 0a2 2 0 1 0 -4 0M400.54 292.08a2 2 0 1 0 4 0a2 2 0 1 0 -4 0M401.46 292.65a2 2 0 1 0 4 0a2 2 0 1 0 -4 0M402.39 292.88a2 2 0 1 0 4 0a2 2 0 1 0 -4 0M403.32 292.22a2 2 0 1 0 4 0a2 2 0 1 0 -4 0M404.24 292.73a2 2 0 1 0 4 0a2 2 0 1 0 -4 0M405.17 292.36a2 2 0 1 0 4 0a2 2 0 1 0 -4 0M406.1 292.63a2 2 0 1 0 4 0a2 2 0 1 0 -4 0M407.03 292.65a2 2 0 1 0 4 0a2 2 0 1 0 -4 0M407.95 292.64a2 2 0 1 0 4 0a2 2 0 1 0 -4 0M408.88 292.88a2 2 0 1 0 4 0a2 2 0 1 0 -4 0M409.81 293.09a2 2 0 1 0 4 0a2 2 0 1 0 -4 0M410.73 293.43a2 2 0 1 0 4 0a2 2 0 1 0 -4 0M411.66 292.88a2 2 0 1 0 4 0a2 2 0 1 0 -4 0M412.59 293.11a2 2 0 1 0 4 0a2 2 0 1 0 -4 0M413.51 293.04a2 2 0 1 0 4 0a2 2 0 1 0 -4 0M414.44 292.69a2 2 0 1 0 4 0a2 2 0 1 0 -4 0M415.37 293.37a2 2 0 1 0 4 0a2 2 0 1 0 -4 0M416.29 292.83a2 2 0 1 0 4 0a2 2 0 1 0 -4 0M417.22 293.44a2 2 0 1 0 4 0a2 2 0 1 0 -4 0M418.15 292.88a2 2 0 1 0 4 0a2 2 0 1 0 -4 0M419.07 292.61a2 2 0 1 0 4 0a2 2 0 1 0 -4 0M420 292.18a2 2 0 1 0 4 0a2 2 0 1 0 -4 0M420.93 291.42a2 2 0 1 0 4 0a2 2 0 1 0 -4 0M421.85 291.41a2 2 0 1 0 4 0a2 2 0 1 0 -4 0M422.78 292.05a2 2 0 1 0 4 0a2 2 0 1 0 -4 0M423.71 292.48a2 2 0 1 0 4 0a2 2 0 1 0 -4 0M424.63 293.09a2 2 0 1 0 4 0a2 2 0 1 0 -4 0M425.56 293.61a2 2 0 1 0 4 0a2 2 0 1 0 -4 0M426.49 293.71a2 2 0 1 0 4 0a2 2 0 1 0 -4 0M427.41 294.02a2 2 0 1 0 4 0a2 2 0 1 0 -4 0M428.34 294.4a2 2 0 1 0 4 0a2 2 0 1 0 -4 0M429.27 294.35a2 2 0 1 0 4 0a2 2 0 1 0 -4 0M430.2 294.55a2 2 0 1 0 4 0a2 2 0 1 0 -4 0M431.12 294.11a2 2 0 1 0 4 0a2 2 0 1 0 -4 0M432.05 294.19a2 2 0 1 0 4 0a2 2 0 1 0 -4 0M432.98 294.61a2 2 0 1 0 4 0a2 2 0 1 0 -4 0M433.9 294.66a2 2 0 1 0 4 0a2 2 0 1 0 -4 0M434.83 294.47a2 2 0 1 0 4 0a2 2 0 1 0 -4 0M435.76 294.58a2 2 0 1 0 4 0a2 2 0 1 0 -4 0M436.68 294.22a2 2 0 1 0 4 0a2 2 0 1 0 -4 0M437.61 294.76a2 2 0 1 0 4 0a2 2 0 1 0 -4 0M438.54 294.86a2 2 0 1 0 4 0a2 2 0 1 0 -4 0M439.46 294.42a2 2 0 1 0 4 0a2 2 0 1 0 -4 0M440.39 295.12a2 2 0 1 0 4 0a2 2 0 1 0 -4 0M441.32 294.82a2 2 0 1 0 4 0a2 2 0 1 0 -4 0M442.24 295.07a2 2 0 1 0 4 0a2 2 0 1 0 -4 0M443.17 294.72a2 2 0 1 0 4 0a2 2 0 1 0 -4 0M444.1 295.01a2 2 0 1 0 4 0a2 2 0 1 0 -4 0M445.02 294.89a2 2 0 1 0 4 0a2 2 0 1 0 -4 0M445.95 295.45a2 2 0 1 0 4 0a2 2 0 1 0 -4 0M446.88 295.09a2 2 0 1 0 4 0a2 2 0 1 0 -4 0M447.8 295.21a2 2 0 1 0 4 0a2 2 0 1 0 -4 0M448.73 295.41a2 2 0 1 0 4 0a2 2 0 1 0 -4 0M449.66 295.25a2 2 0 1 0 4 0a2 2 0 1 0 -4 0M450.58 295.28a2 2 0 1 0 4 0a2 2 0 1 0 -4 0M451.51 295.99a2 2 0 1 0 4 0a2 2 0 1 0 -4 0M452.44 295.93a2 2 0 1 0 4 0a2 2 0 1 0 -4 0M453.37 295.96a2 2 0 1 0 4 0a2 2 0 1 0 -4 0M454.29 296.19a2 2 0 1 0 4 0a2 2 0 1 0 -4 0M455.22 296.4a2 2 0 1 0 4 0a2 2 0 1 0 -4 0M456.15 296.31a2 2 0 1 0 4 0a2 2 0 1 0 -4 0M457.07 296.47a2 2 0 1 0 4 0a2 2 0 1 0 -4 0M458 296.13a2 2 0 1 0 4 0a2 2 0 1 0 -4 0M458.93 296.44a2 2 0 1 0 4 0a2 2 0 1 0 -4 0M459.85 296.82a2 2 0 1 0 4 0a2 2 0 1 0 -4 0M460.78 296.73a2 2 0 1 0 4 0a2 2 0 1 0 -4 0M461.71 296.7a2 2 0 1 0 4 0a2 2 0 1 0 -4 0M462.63 296.32a2 2 0 1 0 4 0a2 2 0 1 0 -4 0M463.56 296.02a2 2 0 1 0 4 0a2 2 0 1 0 -4 0M464.49 295.63a2 2 0 1 0 4 0a2 2 0 1 0 -4 0M465.41 295.21a2 2 0 1 0 4 0a2 2 0 1 0 -4 0M466.34 294.7a2 2 0 1 0 4 0a2 2 0 1 0 -4 0M467.27 295.58a2 2 0 1 0 4 0a2 2 0 1 0 -4 0M468.19 296.82a2 2 0 1 0 4 0a2 2 0 1 0 -4 0M469.12 296.31a2 2 0 1 0 4 0a2 2 0 1 0 -4 0M470.05 296.12a2 2 0 1 0 4 0a2 2 0 1 0 -4 0M470.97 296.51a2 2 0 1 0 4 0a2 2 0 1 0 -4 0M471.9 296.94a2 2 0 1 0 4 0a2 2 0 1 0 -4 0M472.83 296.65a2 2 0 1 0 4 0a2 2 0 1 0 -4 0M473.75 296.73a2 2 0 1 0 4 0a2 2 0 1 0 -4 0M474.68 297.02a2 2 0 1 0 4 0a2 2 0 1 0 -4 0M475.61 296.8a2 2 0 1 0 4 0a2 2 0 1 0 -4 0M476.54 297.34a2 2 0 1 0 4 0a2 2 0 1 0 -4 0M477.46 296.65a2 2 0 1 0 4 0a2 2 0 1 0 -4 0M478.39 296.97a2 2 0 1 0 4 0a2 2 0 1 0 -4 0M479.32 297.06a2 2 0 1 0 4 0a2 2 0 1 0 -4 0M480.24 296.89a2 2 0 1 0 4 0a2 2 0 1 0 -4 0M481.17 297.21a2 2 0 1 0 4 0a2 2 0 1 0 -4 0M482.1 297.63a2 2 0 1 0 4 0a2 2 0 1 0 -4 0M483.02 297.72a2 2 0 1 0 4 0a2 2 0 1 0 -4 0M483.95 297.9a2 2 0 1 0 4 0a2 2 0 1 0 -4 0M484.88 298.07a2 2 0 1 0 4 0a2 2 0 1 0 -4 0M485.8 297.51a2 2 0 1 0 4 0a2 2 0 1 0 -4 0M486.73 297.47a2 2 0 1 0 4 0a2 2 0 1 0 -4 0M487.66 297.95a2 2 0 1 0 4 0a2 2 0 1 0 -4 0M488.58 298.06a2 2 0 1 0 4 0a2 2 0 1 0 -4 0M489.51 297.69a2 2 0 1 0 4 0a2 2 0 1 0 -4 0M490.44 297.53a2 2 0 1 0 4 0a2 2 0 1 0 -4 0M491.36 297.48a2 2 0 1 0 4 0a2 2 0 1 0 -4 0M492.29 298.14a2 2 0 1 0 4 0a2 2 0 1 0 -4 0M493.22 297.63a2 2 0 1 0 4 0a2 2 0 1 0 -4 0M494.14 297.61a2 2 0 1 0 4 0a2 2 0 1 0 -4 0M495.07 297.7a2 2 0 1 0 4 0a2 2 0 1 0 -4 0M496 298.07a2 2 0 1 0 4 0a2 2 0 1 0 -4 0M496.92 298.21a2 2 0 1 0 4 0a2 2 0 1 0 -4 0M497.85 297.71a2 2 0 1 0 4 0a2 2 0 1 0 -4 0M498.78 298.25a2 2 0 1 0 4 0a2 2 0 1 0 -4 0M499.71 298.3a2 2 0 1 0 4 0a2 2 0 1 0 -4 0M500.63 298.25a2 2 0 1 0 4 0a2 2 0 1 0 -4 0M501.56 298.5a2 2 0 1 0 4 0a2 2 0 1 0 -4 0M502.49 298.21a2 2 0 1 0 4 0a2 2 0 1 0 -4 0M503.41 298.81a2 2 0 1 0 4 0a2 2 0 1 0 -4 0M504.34 299.35a2 2 0 1 0 4 0a2 2 0 1 0 -4 0M505.27 299.27a2 2 0 1 0 4 0a2 2 0 1 0 -4 0M506.19 299.59a2 2 0 1 0 4 0a2 2 0 1 0 -4 0M507.12 299.79a2 2 0 1 0 4 0a2 2 0 1 0 -4 0M508.05 300.26a2 2 0 1 0 4 0a2 2 0 1 0 -4 0M508.97 300.34a2 2 0 1 0 4 0a2 2 0 1 0 -4 0M509.9 300.45a2 2 0 1 0 4 0a2 2 0 1 0 -4 0" fill="#000000" stroke="none"/>
<path d="M47.43 209.46a2 2 0 1 0 4 0a2 2 0 1 0 -4 0M48.35 210.84a2 2 0 1 0 4 0a2 2 0 1 0 -4 0M49.28 212.62a2 2 0 1 0 4 0a2 2 0 1 0 -4 0M50.21 219.31a2 2 0 1 0 4 0a2 2 0 1 0 -4 0M51.13 218.38a2 2 0 1 0 4 0a2 2 0 1 0 -4 0M52.06 218.12a2 2 0 1 0 4 0a2 2 0 1 0 -4 0M52.99 218.34a2 2 0 1 0 4 0a2 2 0 1 0 -4 0M53.91 219.54a2 2 0 1 0 4 0a2 2 0 1 0 -4 0M54.84 220.04a2 2 0 1 0 4 0a2 2 0 1 0 -4 0M55.77 220.18a2 2 0 1 0 4 0a2 2 0 1 0 -4 0M56.69 221.52a2 2 0 1 0 4 0a2 2 0 1 0 -4 0M57.62 222.14a2 2 0 1 0 4 0a2 2 0 1 0 -4 0M58.55 222.39a2 2 0 1 0 4 0a2 2 0 1 0 -4 0M59.48 222.68a2 2 0 1 0 4 0a2 2 0 1 0 -4 0M60.4 222.31a2 2 0 1 0 4 0a2 2 0 1 0 -4 0M61.33 223a2 2 0 1 0 4 0a2 2 0 1 0 -4 0M62.26 222.37a2 2 0 1 0 4 0a2 2 0 1 0 -4 0M63.18 221.71a2 2 0 1 0 4 0a2 2 0 1 0 -4 0M64.11 222.59a2 2 0 1 0 4 0a2 2 0 1 0 -4 0M65.04 223.71a2 2 0 1 0 4 0a2 2 0 1 0 -4 0M65.96 224.65a2 2 0 1 0 4 0a2 2 0 1 0 -4 0M66.89 224.81a2 2 0 1 0 4 0a2 2 0 1 0 -4 0M67.82 225.41a2 2 0 1 0 4 0a2 2 0 1 0 -4 0M68.74 225.97a2 2 0 1 0 4 0a2 2 0 1 0 -4 0M69.67 226.52a2 2 0 1 0 4 0a2 2 0 1 0 -4 0M70.6 226.69a2 2 0 1 0 4 0a2 2 0 1 0 -4 0M71.52 226.75a2 2 0 1 0 4 0a2 2 0 1 0 -4 0M72.45 226.87a2 2 0 1 0 4 0a2 2 0 1 0 -4 0M73.38 227.06a2 2 0 1 0 4 0a2 2 0 1 0 -4 0M74.3 227.95a2 2 0 1 0 4 0a2 2 0 1 0 -4 0M75.23 228.26a2 2 0 1 0 4 0a2 2 0 1 0 -4 0M76.16 228.56a2 2 0 1 0 4 0a2 2 0 1 0 -4 0M77.08 228.89a2 2 0 1 0 4 0a2 2 0 1 0 -4 0M78.01 229.5a2 2 0 1 0 4 0a2 2 0 1 0 -4 0M78.94 229.73a2 2 0 1 0 4 0a2 2 0 1 0 -4 0M79.86 229.93a2 2 0 1 0 4 0a2 2 0 1 0 -4 0M80.79 229.84a2 2 0 1 0 4 0a2 2 0 1 0 -4 0M81.72 229.83a2 2 0 1 0 4 0a2 2 0 1 0 -4 0M82.65 229.5a2 2 0 1 0 4 0a2 2 0 1 0 -4 0M83.57 229.66a2 2 0 1 0 4 0a2 2 0 1 0 -4 0M84.5 229.92a2 2 0 1 0 4 0a2 2 0 1 0 -4 0M85.43 230.06a2 2 0 1 0 4 0a2 2 0 1 0 -4 0M86.35 230.3a2 2 0 1 0 4 0a2 2 0 1 0 -4 0M87.28 230.83a2 2 0 1 0 4 0a2 2 0 1 0 -4 0M88.21 230.89a2 2 0 1 0 4 0a2 2 0 1 0 -4 0M89.13 231.76a2 2 0 1 0 4 0a2 2 0 1 0 -4 0M90.06 231.47a2 2 0 1 0 4 0a2 2 0 1 0 -4 0M90.99 231.76a2 2 0 1 0 4 0a2 2 0 1 0 -4 0M91.91 232.25a2 2 0 1 0 4 0a2 2 0 1 0 -4 0M92.84 232.25a2 2 0 1 0 4 0a2 2 0 1 0 -4 0M93.77 232.16a2 2 0 1 0 4 0a2 2 0 1 0 -4 0M94.69 232.79a2 2 0 1 0 4 0a2 2 0 1 0 -4 0M95.62 232.86a2 2 0 1 0 4 0a2 2 0 1 0 -4 0M96.55 233.36a2 2 0 1 0 4 0a2 2 0 1 0 -4 0M97.47 233.54a2 2 0 1 0 4 0a2 2 0 1 0 -4 0M98.4 233.28a2 2 0 1 0 4 0a2 2 0 1 0 -4 0M99.33 234.23a2 2 0 1 0 4 0a2 2 0 1 0 -4 0M100.25 234.3a2 2 0 1 0 4 0a2 2 0 1 0 -4 0M101.18 234.1a2 2 0 1 0 4 0a2 2 0 1 0 -4 0M102.11 234.55a2 2 0 1 0 4 0a2 2 0 1 0 -4 0M103.03 235.1a2 2 0 1 0 4 0a2 2 0 1 0 -4 0M103.96 234.85a2 2 0 1 0 4 0a2 2 0 1 0 -4 0M104.89 235.34a2 2 0 1 0 4 0a2 2 0 1 0 -4 0M105.82 235.41a2 2 0 1 0 4 0a2 2 0 1 0 -4 0M106.74 235.79a2 2 0 1 0 4 0a2 2 0 1 0 -4 0M107.67 235.94a2 2 0 1 0 4 0a2 2 0 1 0 -4 0M108.6 236.15a2 2 0 1 0 4 0a2 2 0 1 0 -4 0M109.52 236.53a2 2 0 1 0 4 0a2 2 0 1 0 -4 0M110.45 237.01a2 2 0 1 0 4 0a2 2 0 1 0 -4 0M111.38 237.2a2 2 0 1 0 4 0a2 2 0 1 0 -4 0M112.3 236.82a2 2 0 1 0 4 0a2 2 0 1 0 -4 0M113.23 237.23a2 2 0 1 0 4 0a2 2 0 1 0 -4 0M114.16 237.73a2 2 0 1 0 4 0a2 2 0 1 0 -4 0M115.08 237.21a2 2 0 1 0 4 0a2 2 0 1 0 -4 0M116.01 237.85a2 2 0 1 0 4 0a2 2 0 1 0 -4 0M116.94 238.11a2 2 0 1 0 4 0a2 2 0 1 0 -4 0M117.86 237.86a2 2 0 1 0 4 0a2 2 0 1 0 -4 0M118.79 238.29a2 2 0 1 0 4 0a2 2 0 1 0 -4 0M119.72 238.29a2 2 0 1 0 4 0a2 2 0 1 0 -4 0M120.64 238.43a2 2 0 1 0 4 0a2 2 0 1 0 -4 0M121.57 238.9a2 2 0 1 0 4 0a2 2 0 1 0 -4 0M122.5 238.8a2 2 0 1 0 4 0a2 2 0 1 0 -4 0M123.42 239.39a2 2 0 1 0 4 0a2 2 0 1 0 -4 0M124.35 239.19a2 2 0 1 0 4 0a2 2 0 1 0 -4 0M125.28 239.27a2 2 0 1 0 4 0a2 2 0 1 0 -4 0M126.2 239.84a2 2 0 1 0 4 0a2 2 0 1 0 -4 0M127.13 239.7a2 2 0 1 0 4 0a2 2 0 1 0 -4 0M128.06 240.13a2 2 0 1 0 4 0a2 2 0 1 0 -4 0M128.99 239.96a2 2 0 1 0 4 0a2 2 0 1 0 -4 0M129.91 239.73a2 2 0 1 0 4 0a2 2 0 1 0 -4 0M130.84 240.13a2 2 0 1 0 4 0a2 2 0 1 0 -4 0M131.77 240.13a2 2 0 1 0 4 0a2 2 0 1 0 -4 0M132.69 240.22a2 2 0 1 0 4 0a2 2 0 1 0 -4 0M133.62 240.9a2 2 0 1 0 4 0a2 2 0 1 0 -4 0M134.55 240.29a2 2 0 1 0 4 0a2 2 0 1 0 -4 0M135.47 240.71a2 2 0 1 0 4 0a2 2 0 1 0 -4 0M136.4 241.46a2 2 0 1 0 4 0a2 2 0 1 0 -4 0M137.33 241.07a2 2 0 1 0 4 0a2 2 0 1 0 -4 0M138.25 241.62a2 2 0 1 0 4 0a2 2 0 1 0 -4 0M139.18 241.88a2 2 0 1 0 4 0a2 2 0 1 0 -4 0M140.11 241.28a2 2 0 1 0 4 0a2 2 0 1 0 -4 0M141.03 241.69a2 2 0 1 0 4 0a2 2 0 1 0 -4 0M141.96 241.58a2 2 0 1 0 4 0a2 2 0 1 0 -4 0M142.89 242.2a2 2 0 1 0 4 0a2 2 0 1 0 -4 0M143.81 241.77a2 2 0 1 0 4 0a2 2 0 1 0 -4 0M144.74 242.58a2 2 0 1 0 4 0a2 2 0 1 0 -4 0M145.67 242.62a2 2 0 1 0 4 0a2 2 0 1 0 -4 0M146.59 242.69a2 2 0 1 0 4 0a2 2 0 1 0 -4 0M147.52 243.06a2 2 0 1 0 4 0a2 2 0 1 0 -4 0M148.45 242.51a2 2 0 1 0 4 0a2 2 0 1 0 -4 0M149.37 242.78a2 2 0 1 0 4 0a2 2 0 1 0 -4 0M150.3 242.65a2 2 0 1 0 4 0a2 2 0 1 0 -4 0M151.23 242.25a2 2 0 1 0 4 0a2 2 0 1 0 -4 0M152.16 242.43a2 2 0 1 0 4 0a2 2 0 1 0 -4 0M153.08 241.98a2 2 0 1 0 4 0a2 2 0 1 0 -4 0M154.01 242.15a2 2 0 1 0 4 0a2 2 0 1 0 -4 0M154.94 241.24a2 2 0 1 0 4 0a2 2 0 1 0 -4 0M155.86 240.81a2 2 0 1 0 4 0a2 2 0 1 0 -4 0M156.79 241.36a2 2 0 1 0 4 0a2 2 0 1 0 -4 0M157.72 242.26a2 2 0 1 0 4 0a2 2 0 1 0 -4 0M158.64 243.18a2 2 0 1 0 4 0a2 2 0 1 0 -4 0M159.57 243.01a2 2 0 1 0 4 0a2 2 0 1 0 -4 0M160.5 243.67a2 2 0 1 0 4 0a2 2 0 1 0 -4 0M161.42 243.61a2 2 0 1 0 4 0a2 2 0 1 0 -4 0M162.35 243.99a2 2 0 1 0 4 0a2 2 0 1 0 -4 0M163.28 244.18a2 2 0 1 0 4 0a2 2 0 1 0 -4 0M164.2 245.08a2 2 0 1 0 4 0a2 2 0 1 0 -4 0M165.13 245.17a2 2 0 1 0 4 0a2 2 0 1 0 -4 0M166.06 244.68a2 2 0 1 0 4 0a2 2 0 1 0 -4 0M166.98 244.18a2 2 0 1 0 4 0a2 2 0 1 0 -4 0M167.91 244.07a2 2 0 1 0 4 0a2 2 0 1 0 -4 0M168.84 244.33a2 2 0 1 0 4 0a2 2 0 1 0 -4 0M169.76 243.54a2 2 0 1 0 4 0a2 2 0 1 0 -4 0M170.69 243.66a2 2 0 1 0 4 0a2 2 0 1 0 -4 0M171.62 244.18a2 2 0 1 0 4 0a2 2 0 1 0 -4 0M172.54 244.87a2 2 0 1 0 4 0a2 2 0 1 0 -4 0M173.47 246.36a2 2 0 1 0 4 0a2 2 0 1 0 -4 0M174.4 246.58a2 2 0 1 0 4 0a2 2 0 1 0 -4 0M175.33 246.37a2 2 0 1 0 4 0a2 2 0 1 0 -4 0M176.25 246.3a2 2 0 1 0 4 0a2 2 0 1 0 -4 0M177.18 245.93a2 2 0 1 0 4 0a2 2 0 1 0 -4 0M178.11 245.29a2 2 0 1 0 4 0a2 2 0 1 0 -4 0M179.03 244.53a2 2 0 1 0 4 0a2 2 0 1 0 -4 0M179.96 244.33a2 2 0 1 0 4 0a2 2 0 1 0 -4 0M180.89 244.3a2 2 0 1 0 4 0a2 2 0 1 0 -4 0M181.81 244.13a2 2 0 1 0 4 0a2 2 0 1 0 -4 0M182.74 244.48a2 2 0 1 0 4 0a2 2 0 1 0 -4 0M183.67 244.31a2 2 0 1 0 4 0a2 2 0 1 0 -4 0M184.59 245.26a2 2 0 1 0 4 0a2 2 0 1 0 -4 0M185.52 245.37a2 2 0 1 0 4 0a2 2 0 1 0 -4 0M186.45 246.02a2 2 0 1 0 4 0a2 2 0 1 0 -4 0M187.37 246.1a2 2 0 1 0 4 0a2 2 0 1 0 -4 0M188.3 246.79a2 2 0 1 0 4 0a2 2 0 1 0 -4 0M189.23 247.27a2 2 0 1 0 4 0a2 2 0 1 0 -4 0M190.15 246.73a2 2 0 1 0 4 0a2 2 0 1 0 -4 0M191.08 247.1a2 2 0 1 0 4 0a2 2 0 1 0 -4 0M192.01 247.05a2 2 0 1 0 4 0a2 2 0 1 0 -4 0M192.93 247.03a2 2 0 1 0 4 0a2 2 0 1 0 -4 0M193.86 246.99a2 2 0 1 0 4 0a2 2 0 1 0 -4 0M194.79 247.87a2 2 0 1 0 4 0a2 2 0 1 0 -4 0M195.71 247.67a2 2 0 1 0 4 0a2 2 0 1 0 -4 0M196.64 248a2 2 0 1 0 4 0a2 2 0 1 0 -4 0M197.57 247.94a2 2 0 1 0 4 0a2 2 0 1 0 -4 0M198.5 247.87a2 2 0 1 0 4 0a2 2 0 1 0 -4 0M199.42 248.17a2 2 0 1 0 4 0a2 2 0 1 0 -4 0M200.35 249.07a2 2 0 1 0 4 0a2 2 0 1 0 -4 0M201.28 249.18a2 2 0 1 0 4 0a2 2 0 1 0 -4 0M202.2 248.88a2 2 0 1 0 4 0a2 2 0 1 0 -4 0M203.13 249.24a2 2 0 1 0 4 0a2 2 0 1 0 -4 0M204.06 249.52a2 2 0 1 0 4 0a2 2 0 1 0 -4 0M204.98 249.34a2 2 0 1 0 4 0a2 2 0 1 0 -4 0M205.91 249.5a2 2 0 1 0 4 0a2 2 0 1 0 -4 0M206.84 248.81a2 2 0 1 0 4 0a2 2 0 1 0 -4 0M207.76 249.08a2 2 0 1 0 4 0a2 2 0 1 0 -4 0M208.69 248.56a2 2 0 1 0 4 0a2 2 0 1 0 -4 0M209.62 248.68a2 2 0 1 0 4 0a2 2 0 1 0 -4 0M210.54 249.45a2 2 0 1 0 4 0a2 2 0 1 0 -4 0M211.47 249.66a2 2 0 1 0 4 0a2 2 0 1 0 -4 0M212.4 250.18a2 2 0 1 0 4 0a2 2 0 1 0 -4 0M213.32 250.03a2 2 0 1 0 4 0a2 2 0 1 0 -4 0M214.25 250.72a2 2 0 1 0 4 0a2 2 0 1 0 -4 0M215.18 251.15a2 2 0 1 0 4 0a2 2 0 1 0 -4 0M216.1 250.91a2 2 0 1 0 4 0a2 2 0 1 0 -4 0M217.03 250.6a2 2 0 1 0 4 0a2 2 0 1 0 -4 0M217.96 250.37a2 2 0 1 0 4 0a2 2 0 1 0 -4 0M218.88 250.14a2 2 0 1 0 4 0a2 2 0 1 0 -4 0M219.81 250.16a2 2 0 1 0 4 0a2 2 0 1 0 -4 0M220.74 250.04a2 2 0 1 0 4 0a2 2 0 1 0 -4 0M221.67 250.2a2 2 0 1 0 4 0a2 2 0 1 0 -4 0M222.59 249.57a2 2 0 1 0 4 0a2 2 0 1 0 -4 0M223.52 249.64a2 2 0 1 0 4 0a2 2 0 1 0 -4 0M224.45 250.27a2 2 0 1 0 4 0a2 2 0 1 0 -4 0M225.37 250.27a2 2 0 1 0 4 0a2 2 0 1 0 -4 0M226.3 250.19a2 2 0 1 0 4 0a2 2 0 1 0 -4 0M227.23 251.36a2 2 0 1 0 4 0a2 2 0 1 0 -4 0M228.15 251.64a2 2 0 1 0 4 0a2 2 0 1 0 -4 0M229.08 251.56a2 2 0 1 0 4 0a2 2 0 1 0 -4 0M230.01 252.27a2 2 0 1 0 4 0a2 2 0 1 0 -4 0M230.93 252.56a2 2 0 1 0 4 0a2 2 0 1 0 -4 0M231.86 252.37a2 2 0 1 0 4 0a2 2 0 1 0 -4 0M232.79 252.57a2 2 0 1 0 4 0a2 2 0 1 0 -4 0M233.71 252.31a2 2 0 1 0 4 0a2 2 0 1 0 -4 0M234.64 252.22a2 2 0 1 0 4 0a2 2 0 1 0 -4 0M235.57 251.67a2 2 0 1 0 4 0a2 2 0 1 0 -4 0M236.49 251.46a2 2 0 1 0 4 0a2 2 0 1 0 -4 0M237.42 252.1a2 2 0 1 0 4 0a2 2 0 1 0 -4 0M238.35 251.47a2 2 0 1 0 4 0a2 2 0 1 0 -4 0M239.27 251.11a2 2 0 1 0 4 0a2 2 0 1 0 -4 0M240.2 251.24a2 2 0 1 0 4 0a2 2 0 1 0 -4 0M241.13 251.63a2 2 0 1 0 4 0a2 2 0 1 0 -4 0M242.05 252.07a2 2 0 1 0 4 0a2 2 0 1 0 -4 0M242.98 252.38a2 2 0 1 0 4 0a2 2 0 1 0 -4 0M243.91 252.92a2 2 0 1 0 4 0a2 2 0 1 0 -4 0M244.84 253.3a2 2 0 1 0 4 0a2 2 0 1 0 -4 0M245.76 252.7a2 2 0 1 0 4 0a2 2 0 1 0 -4 0M246.69 252.48a2 2 0 1 0 4 0a2 2 0 1 0 -4 0M247.62 252.26a2 2 0 1 0 4 0a2 2 0 1 0 -4 0M248.54 252.32a2 2 0 1 0 4 0a2 2 0 1 0 -4 0M249.47 252.48a2 2 0 1 0 4 0a2 2 0 1 0 -4 0M250.4 251.93a2 2 0 1 0 4 0a2 2 0 1 0 -4 0M251.32 251.79a2 2 0 1 0 4 0a2 2 0 1 0 -4 0M252.25 251.83a2 2 0 1 0 4 0a2 2 0 1 0 -4 0M253.18 252.03a2 2 0 1 0 4 0a2 2 0 1 0 -4 0M254.1 252.59a2 2 0 1 0 4 0a2 2 0 1 0 -4 0M255.03 252.73a2 2 0 1 0 4 0a2 2 0 1 0 -4 0M255.96 253.17a2 2 0 1 0 4 0a2 2 0 1 0 -4 0M256.88 253.77a2 2 0 1 0 4 0a2 2 0 1 0 -4 0M257.81 253.79a2 2 0 1 0 4 0a2 2 0 1 0 -4 0M258.74 253.8a2 2 0 1 0 4 0a2 2 0 1 0 -4 0M259.66 253.23a2 2 0 1 0 4 0a2 2 0 1 0 -4 0M260.59 253.66a2 2 0 1 0 4 0a2 2 0 1 0 -4 0M261.52 253.76a2 2 0 1 0 4 0a2 2 0 1 0 -4 0M262.44 253.87a2 2 0 1 0 4 0a2 2 0 1 0 -4 0M263.37 253.87a2 2 0 1 0 4 0a2 2 0 1 0 -4 0M264.3 253.78a2 2 0 1 0 4 0a2 2 0 1 0 -4 0M265.22 253.96a2 2 0 1 0 4 0a2 2 0 1 0 -4 0M266.15 254.07a2 2 0 1 0 4 0a2 2 0 1 0 -4 0M267.08 253.33a2 2 0 1 0 4 0a2 2 0 1 0 -4 0M268.01 253.69a2 2 0 1 0 4 0a2 2 0 1 0 -4 0M268.93 253.69a2 2 0 1 0 4 0a2 2 0 1 0 -4 0M269.86 253.59a2 2 0 1 0 4 0a2 2 0 1 0 -4 0M270.79 253.85a2 2 0 1 0 4 0a2 2 0 1 0 -4 0M271.71 254.03a2 2 0 1 0 4 0a2 2 0 1 0 -4 0M272.64 254.19a2 2 0 1 0 4 0a2 2 0 1 0 -4 0M273.57 254.06a2 2 0 1 0 4 0a2 2 0 1 0 -4 0M274.49 254.13a2 2 0 1 0 4 0a2 2 0 1 0 -4 0M275.42 253.84a2 2 0 1 0 4 0a2 2 0 1 0 -4 0M276.35 254.07a2 2 0 1 0 4 0a2 2 0 1 0 -4 0M277.27 253.81a2 2 0 1 0 4 0a2 2 0 1 0 -4 0M278.2 254.39a2 2 0 1 0 4 0a2 2 0 1 0 -4 0M279.13 253.97a2 2 0 1 0 4 0a2 2 0 1 0 -4 0M280.05 254.33a2 2 0 1 0 4 0a2 2 0 1 0 -4 0M280.98 254.83a2 2 0 1 0 4 0a2 2 0 1 0 -4 0M281.91 254.85a2 2 0 1 0 4 0a2 2 0 1 0 -4 0M282.83 254.63a2 2 0 1 0 4 0a2 2 0 1 0 -4 0M283.76 254.41a2 2 0 1 0 4 0a2 2 0 1 0 -4 0M284.69 255.07a2 2 0 1 0 4 0a2 2 0 1 0 -4 0M285.61 254.84a2 2 0 1 0 4 0a2 2 0 1 0 -4 0M286.54 255.26a2 2 0 1 0 4 0a2 2 0 1 0 -4 0M287.47 255.01a2 2 0 1 0 4 0a2 2 0 1 0 -4 0M288.39 255.81a2 2 0 1 0 4 0a2 2 0 1 0 -4 0M289.32 255.36a2 2 0 1 0 4 0a2 2 0 1 0 -4 0M290.25 254.87a2 2 0 1 0 4 0a2 2 0 1 0 -4 0M291.18 255.28a2 2 0 1 0 4 0a2 2 0 1 0 -4 0M292.1 255.16a2 2 0 1 0 4 0a2 2 0 1 0 -4 0M293.03 255.23a2 2 0 1 0 4 0a2 2 0 1 0 -4 0M293.96 254.98a2 2 0 1 0 4 0a2 2 0 1 0 -4 0M294.88 254.77a2 2 0 1 0 4 0a2 2 0 1 0 -4 0M295.81 254.26a2 2 0 1 0 4 0a2 2 0 1 0 -4 0M296.74 254.55a2 2 0 1 0 4 0a2 2 0 1 0 -4 0M297.66 254.27a2 2 0 1 0 4 0a2 2 0 1 0 -4 0M298.59 254.87a2 2 0 1 0 4 0a2 2 0 1 0 -4 0M299.52 254.96a2 2 0 1 0 4 0a2 2 0 1 0 -4 0M300.44 255.17a2 2 0 1 0 4 0a2 2 0 1 0 -4 0M301.37 255.79a2 2 0 1 0 4 0a2 2 0 1 0 -4 0M302.3 256.61a2 2 0 1 0 4 0a2 2 0 1 0 -4 0M303.22 256.52a2 2 0 1 0 4 0a2 2 0 1 0 -4 0M304.15 256.2a2 2 0 1 0 4 0a2 2 0 1 0 -4 0M305.08 256.38a2 2 0 1 0 4 0a2 2 0 1 0 -4 0M306 256.69a2 2 0 1 0 4 0a2 2 0 1 0 -4 0M306.93 255.94a2 2 0 1 0 4 0a2 2 0 1 0 -4 0M307.86 255.75a2 2 0 1 0 4 0a2 2 0 1 0 -4 0M308.78 256.08a2 2 0 1 0 4 0a2 2 0 1 0 -4 0M309.71 256.12a2 2 0 1 0 4 0a2 2 0 1 0 -4 0M310.64 255.95a2 2 0 1 0 4 0a2 2 0 1 0 -4 0M311.56 255.52a2 2 0 1 0 4 0a2 2 0 1 0 -4 0M312.49 255.26a2 2 0 1 0 4 0a2 2 0 1 0 -4 0M313.42 255.86a2 2 0 1 0 4 0a2 2 0 1 0 -4 0M314.35 256.03a2 2 0 1 0 4 0a2 2 0 1 0 -4 0M315.27 257.04a2 2 0 1 0 4 0a2 2 0 1 0 -4 0M316.2 257.34a2 2 0 1 0 4 0a2 2 0 1 0 -4 0M317.13 257.39a2 2 0 1 0 4 0a2 2 0 1 0 -4 0M318.05 257.64a2 2 0 1 0 4 0a2 2 0 1 0 -4 0M318.98 257.78a2 2 0 1 0 4 0a2 2 0 1 0 -4 0M319.91 257.48a2 2 0 1 0 4 0a2 2 0 1 0 -4 0M320.83 257.7a2 2 0 1 0 4 0a2 2 0 1 0 -4 0M321.76 257.88a2 2 0 1 0 4 0a2 2 0 1 0 -4 0M322.69 257.5a2 2 0 1 0 4 0a2 2 0 1 0 -4 0M323.61 257.75a2 2 0 1 0 4 0a2 2 0 1 0 -4 0M324.54 257.19a2 2 0 1 0 4 0a2 2 0 1 0 -4 0M325.47 257.51a2 2 0 1 0 4 0a2 2 0 1 0 -4 0M326.39 257.53a2 2 0 1 0 4 0a2 2 0 1 0 -4 0M327.32 257.61a2 2 0 1 0 4 0a2 2 0 1 0 -4 0M328.25 258.04a2 2 0 1 0 4 0a2 2 0 1 0 -4 0M329.17 257.96a2 2 0 1 0 4 0a2 2 0 1 0 -4 0M330.1 258.43a2 2 0 1 0 4 0a2 2 0 1 0 -4 0M331.03 257.75a2 2 0 1 0 4 0a2 2 0 1 0 -4 0M331.95 258.15a2 2 0 1 0 4 0a2 2 0 1 0 -4 0M332.88 257.89a2 2 0 1 0 4 0a2 2 0 1 0 -4 0M333.81 258.77a2 2 0 1 0 4 0a2 2 0 1 0 -4 0M334.73 258.39a2 2 0 1 0 4 0a2 2 0 1 0 -4 0M335.66 258.26a2 2 0 1 0 4 0a2 2 0 1 0 -4 0M336.59 258.37a2 2 0 1 0 4 0a2 2 0 1 0 -4 0M337.52 258.34a2 2 0 1 0 4 0a2 2 0 1 0 -4 0M338.44 258.05a2 2 0 1 0 4 0a2 2 0 1 0 -4 0M339.37 257.83a2 2 0 1 0 4 0a2 2 0 1 0 -4 0M340.3 257.07a2 2 0 1 0 4 0a2 2 0 1 0 -4 0M341.22 257.41a2 2 0 1 0 4 0a2 2 0 1 0 -4 0M342.15 256.56a2 2 0 1 0 4 0a2 2 0 1 0 -4 0M343.08 257.14a2 2 0 1 0 4 0a2 2 0 1 0 -4 0M344 257.6a2 2 0 1 0 4 0a2 2 0 1 0 -4 0M344.93 258.12a2 2 0 1 0 4 0a2 2 0 1 0 -4 0M345.86 258.7a2 2 0 1 0 4 0a2 2 0 1 0 -4 0M346.78 259.18a2 2 0 1 0 4 0a2 2 0 1 0 -4 0M347.71 259.78a2 2 0 1 0 4 0a2 2 0 1 0 -4 0M348.64 260.04a2 2 0 1 0 4 0a2 2 0 1 0 -4 0M349.56 259.49a2 2 0 1 0 4 0a2 2 0 1 0 -4 0M350.49 259.7a2 2 0 1 0 4 0a2 2 0 1 0 -4 0M351.42 259.11a2 2 0 1 0 4 0a2 2 0 1 0 -4 0M352.34 258.86a2 2 0 1 0 4 0a2 2 0 1 0 -4 0M353.27 258.65a2 2 0 1 0 4 0a2 2 0 1 0 -4 0M354.2 258.85a2 2 0 1 0 4 0a2 2 0 1 0 -4 0M355.12 258.25a2 2 0 1 0 4 0a2 2 0 1 0 -4 0M356.05 257.87a2 2 0 1 0 4 0a2 2 0 1 0 -4 0M356.98 258.12a2 2 0 1 0 4 0a2 2 0 1 0 -4 0M357.9 258.06a2 2 0 1 0 4 0a2 2 0 1 0 -4 0M358.83 257.65a2 2 0 1 0 4 0a2 2 0 1 0 -4 0M359.76 257.1a2 2 0 1 0 4 0a2 2 0 1 0 -4 0M360.69 257.58a2 2 0 1 0 4 0a2 2 0 1 0 -4 0M361.61 258.15a2 2 0 1 0 4 0a2 2 0 1 0 -4 0M362.54 258.22a2 2 0 1 0 4 0a2 2 0 1 0 -4 0M363.47 258.54a2 2 0 1 0 4 0a2 2 0 1 0 -4 0M364.39 258.9a2 2 0 1 0 4 0a2 2 0 1 0 -4 0M365.32 259.72a2 2 0 1 0 4 0a2 2 0 1 0 -4 0M366.25 259.66a2 2 0 1 0 4 0a2 2 0 1 0 -4 0M367.17 260.77a2 2 0 1 0 4 0a2 2 0 1 0 -4 0M368.1 260.79a2 2 0 1 0 4 0a2 2 0 1 0 -4 0M369.03 261.82a2 2 0 1 0 4 0a2 2 0 1 0 -4 0M369.95 262.19a2 2 0 1 0 4 0a2 2 0 1 0 -4 0M370.88 261.8a2 2 0 1 0 4 0a2 2 0 1 0 -4 0M371.81 261.56a2 2 0 1 0 4 0a2 2 0 1 0 -4 0M372.73 260.88a2 2 0 1 0 4 0a2 2 0 1 0 -4 0M373.66 260.53a2 2 0 1 0 4 0a2 2 0 1 0 -4 0M374.59 260.55a2 2 0 1 0 4 0a2 2 0 1 0 -4 0M375.51 259.65a2 2 0 1 0 4 0a2 2 0 1 0 -4 0M376.44 260.05a2 2 0 1 0 4 0a2 2 0 1 0 -4 0M377.37 260.16a2 2 0 1 0 4 0a2 2 0 1 0 -4 0M378.29 260.05a2 2 0 1 0 4 0a2 2 0 1 0 -4 0M379.22 259.49a2 2 0 1 0 4 0a2 2 0 1 0 -4 0M380.15 259.25a2 2 0 1 0 4 0a2 2 0 1 0 -4 0M381.07 259.82a2 2 0 1 0 4 0a2 2 0 1 0 -4 0M382 259.85a2 2 0 1 0 4 0a2 2 0 1 0 -4 0M382.93 259.13a2 2 0 1 0 4 0a2 2 0 1 0 -4 0M383.86 259.5a2 2 0 1 0 4 0a2 2 0 1 0 -4 0M384.78 258.79a2 2 0 1 0 4 0a2 2 0 1 0 -4 0M385.71 259.12a2 2 0 1 0 4 0a2 2 0 1 0 -4 0M386.64 259a2 2 0 1 0 4 0a2 2 0 1 0 -4 0M387.56 259.33a2 2 0 1 0 4 0a2 2 0 1 0 -4 0M388.49 259.03a2 2 0 1 0 4 0a2 2 0 1 0 -4 0M389.42 259.4a2 2 0 1 0 4 0a2 2 0 1 0 -4 0M390.34 259.6a2 2 0 1 0 4 0a2 2 0 1 0 -4 0M391.27 259.18a2 2 0 1 0 4 0a2 2 0 1 0 -4 0M392.2 259.94a2 2 0 1 0 4 0a2 2 0 1 0 -4 0M393.12 259.49a2 2 0 1 0 4 0a2 2 0 1 0 -4 0M394.05 260.14a2 2 0 1 0 4 0a2 2 0 1 0 -4 0M394.98 259.73a2 2 0 1 0 4 0a2 2 0 1 0 -4 0M395.9 260.02a2 2 0 1 0 4 0a2 2 0 1 0 -4 0M396.83 259.7a2 2 0 1 0 4 0a2 2 0 1 0 -4 0M397.76 260.61a2 2 0 1 0 4 0a2 2 0 1 0 -4 0M398.68 260.45a2 2 0 1 0 4 0a2 2 0 1 0 -4 0M399.61 260.86a2 2 0 1 0 4 0a2 2 0 1 0 -4 0M400.54 260.7a2 2 0 1 0 4 0a2 2 0 1 0 -4 0M401.46 260.95a2 2 0 1 0 4 0a2 2 0 1 0 -4 0M402.39 261.49a2 2 0 1 0 4 0a2 2 0 1 0 -4 0M403.32 262.11a2 2 0 1 0 4 0a2 2 0 1 0 -4 0M404.24 262.36a2 2 0 1 0 4 0a2 2 0 1 0 -4 0M405.17 262.63a2 2 0 1 0 4 0a2 2 0 1 0 -4 0M406.1 262.76a2 2 0 1 0 4 0a2 2 0 1 0 -4 0M407.03 262.64a2 2 0 1 0 4 0a2 2 0 1 0 -4 0M407.95 262.37a2 2 0 1 0 4 0a2 2 0 1 0 -4 0M408.88 261.6a2 2 0 1 0 4 0a2 2 0 1 0 -4 0M409.81 261.41a2 2 0 1 0 4 0a2 2 0 1 0 -4 0M410.73 261.41a2 2 0 1 0 4 0a2 2 0 1 0 -4 0M411.66 260.52a2 2 0 1 0 4 0a2 2 0 1 0 -4 0M412.59 260.89a2 2 0 1 0 4 0a2 2 0 1 0 -4 0M413.51 260.3a2 2 0 1 0 4 0a2 2 0 1 0 -4 0M414.44 260.89a2 2 0 1 0 4 0a2 2 0 1 0 -4 0M415.37 260.54a2 2 0 1 0 4 0a2 2 0 1 0 -4 0M416.29 260.78a2 2 0 1 0 4 0a2 2 0 1 0 -4 0M417.22 261.53a2 2 0 1 0 4 0a2 2 0 1 0 -4 0M418.15 261.32a2 2 0 1 0 4 0a2 2 0 1 0 -4 0M419.07 261.29a2 2 0 1 0 4 0a2 2 0 1 0 -4 0M420 261.78a2 2 0 1 0 4 0a2 2 0 1 0 -4 0M420.93 261.77a2 2 0 1 0 4 0a2 2 0 1 0 -4 0M421.85 261.67a2 2 0 1 0 4 0a2 2 0 1 0 -4 0M422.78 261.35a2 2 0 1 0 4 0a2 2 0 1 0 -4 0M423.71 262a2 2 0 1 0 4 0a2 2 0 1 0 -4 0M424.63 261.59a2 2 0 1 0 4 0a2 2 0 1 0 -4 0M425.56 261.69a2 2 0 1 0 4 0a2 2 0 1 0 -4 0M426.49 261.84a2 2 0 1 0 4 0a2 2 0 1 0 -4 0M427.41 261.77a2 2 0 1 0 4 0a2 2 0 1 0 -4 0M428.34 261.54a2 2 0 1 0 4 0a2 2 0 1 0 -4 0M429.27 262.15a2 2 0 1 0 4 0a2 2 0 1 0 -4 0M430.2 261.62a2 2 0 1 0 4 0a2 2 0 1 0 -4 0M431.12 262.11a2 2 0 1 0 4 0a2 2 0 1 0 -4 0M432.05 261.79a2 2 0 1 0 4 0a2 2 0 1 0 -4 0M432.98 261.76a2 2 0 1 0 4 0a2 2 0 1 0 -4 0M433.9 262.38a2 2 0 1 0 4 0a2 2 0 1 0 -4 0M434.83 261.83a2 2 0 1 0 4 0a2 2 0 1 0 -4 0M435.76 261.76a2 2 0 1 0 4 0a2 2 0 1 0 -4 0M436.68 262.4a2 2 0 1 0 4 0a2 2 0 1 0 -4 0M437.61 262.67a2 2 0 1 0 4 0a2 2 0 1 0 -4 0M438.54 262.61a2 2 0 1 0 4 0a2 2 0 1 0 -4 0M439.46 261.87a2 2 0 1 0 4 0a2 2 0 1 0 -4 0M440.39 262.69a2 2 0 1 0 4 0a2 2 0 1 0 -4 0M441.32 261.92a2 2 0 1 0 4 0a2 2 0 1 0 -4 0M442.24 262.57a2 2 0 1 0 4 0a2 2 0 1 0 -4 0M443.17 262.07a2 2 0 1 0 4 0a2 2 0 1 0 -4 0M444.1 262.62a2 2 0 1 0 4 0a2 2 0 1 0 -4 0M445.02 262.56a2 2 0 1 0 4 0a2 2 0 1 0 -4 0M445.95 262.12a2 2 0 1 0 4 0a2 2 0 1 0 -4 0M446.88 262.62a2 2 0 1 0 4 0a2 2 0 1 0 -4 0M447.8 262.41a2 2 0 1 0 4 0a2 2 0 1 0 -4 0M448.73 261.98a2 2 0 1 0 4 0a2 2 0 1 0 -4 0M449.66 262.21a2 2 0 1 0 4 0a2 2 0 1 0 -4 0M450.58 262.13a2 2 0 1 0 4 0a2 2 0 1 0 -4 0M451.51 262.1a2 2 0 1 0 4 0a2 2 0 1 0 -4 0M452.44 262.97a2 2 0 1 0 4 0a2 2 0 1 0 -4 0M453.37 262.86a2 2 0 1 0 4 0a2 2 0 1 0 -4 0M454.29 262.44a2 2 0 1 0 4 0a2 2 0 1 0 -4 0M455.22 262.59a2 2 0 1 0 4 0a2 2 0 1 0 -4 0M456.15 263.2a2 2 0 1 0 4 0a2 2 0 1 0 -4 0M457.07 262.86a2 2 0 1 0 4 0a2 2 0 1 0 -4 0M458 263.09a2 2 0 1 0 4 0a2 2 0 1 0 -4 0M458.93 262.64a2 2 0 1 0 4 0a2 2 0 1 0 -4 0M459.85 262.65a2 2 0 1 0 4 0a2 2 0 1 0 -4 0M460.78 262.45a2 2 0 1 0 4 0a2 2 0 1 0 -4 0M461.71 261.35a2 2 0 1 0 4 0a2 2 0 1 0 -4 0M462.63 261.65a2 2 0 1 0 4 0a2 2 0 1 0 -4 0M463.56 260.9a2 2 0 1 0 4 0a2 2 0 1 0 -4 0M464.49 261.27a2 2 0 1 0 4 0a2 2 0 1 0 -4 0M465.41 261.12a2 2 0 1 0 4 0a2 2 0 1 0 -4 0M466.34 261.69a2 2 0 1 0 4 0a2 2 0 1 0 -4 0M467.27 261.71a2 2 0 1 0 4 0a2 2 0 1 0 -4 0M468.19 262.2a2 2 0 1 0 4 0a2 2 0 1 0 -4 0M469.12 262.04a2 2 0 1 0 4 0a2 2 0 1 0 -4 0M470.05 262.77a2 2 0 1 0 4 0a2 2 0 1 0 -4 0M470.97 262.53a2 2 0 1 0 4 0a2 2 0 1 0 -4 0M471.9 263.01a2 2 0 1 0 4 0a2 2 0 1 0 -4 0M472.83 263.61a2 2 0 1 0 4 0a2 2 0 1 0 -4 0M473.75 263.68a2 2 0 1 0 4 0a2 2 0 1 0 -4 0M474.68 263.66a2 2 0 1 0 4 0a2 2 0 1 0 -4 0M475.61 263.41a2 2 0 1 0 4 0a2 2 0 1 0 -4 0M476.54 264.01a2 2 0 1 0 4 0a2 2 0 1 0 -4 0M477.46 264.23a2 2 0 1 0 4 0a2 2 0 1 0 -4 0M478.39 263.7a2 2 0 1 0 4 0a2 2 0 1 0 -4 0M479.32 263.88a2 2 0 1 0 4 0a2 2 0 1 0 -4 0M480.24 264.11a2 2 0 1 0 4 0a2 2 0 1 0 -4 0M481.17 264.61a2 2 0 1 0 4 0a2 2 0 1 0 -4 0M482.1 264.8a2 2 0 1 0 4 0a2 2 0 1 0 -4 0M483.02 264.83a2 2 0 1 0 4 0a2 2 0 1 0 -4 0M483.95 265.11a2 2 0 1 0 4 0a2 2 0 1 0 -4 0M484.88 265.24a2 2 0 1 0 4 0a2 2 0 1 0 -4 0M485.8 264.87a2 2 0 1 0 4 0a2 2 0 1 0 -4 0M486.73 264.63a2 2 0 1 0 4 0a2 2 0 1 0 -4 0M487.66 264.18a2 2 0 1 0 4 0a2 2 0 1 0 -4 0M488.58 264.02a2 2 0 1 0 4 0a2 2 0 1 0 -4 0M489.51 264a2 2 0 1 0 4 0a2 2 0 1 0 -4 0M490.44 263.44a2 2 0 1 0 4 0a2 2 0 1 0 -4 0M491.36 263.53a2 2 0 1 0 4 0a2 2 0 1 0 -4 0M492.29 263.68a2 2 0 1 0 4 0a2 2 0 1 0 -4 0M493.22 263.74a2 2 0 1 0 4 0a2 2 0 1 0 -4 0M494.14 263.67a2 2 0 1 0 4 0a2 2 0 1 0 -4 0M495.07 263.48a2 2 0 1 0 4 0a2 2 0 1 0 -4 0M496 263.63a2 2 0 1 0 4 0a2 2 0 1 0 -4 0M496.92 263.82a2 2 0 1 0 4 0a2 2 0 1 0 -4 0M497.85 264.15a2 2 0 1 0 4 0a2 2 0 1 0 -4 0M498.78 264.28a2 2 0 1 0 4 0a2 2 0 1 0 -4 0M499.71 264.25a2 2 0 1 0 4 0a2 2 0 1 0 -4 0M500.63 263.84a2 2 0 1 0 4 0a2 2 0 1 0 -4 0M501.56 264.39a2 2 0 1 0 4 0a2 2 0 1 0 -4 0M502.49 264.54a2 2 0 1 0 4 0a2 2 0 1 0 -4 0M503.41 264.66a2 2 0 1 0 4 0a2 2 0 1 0 -4 0M504.34 265.03a2 2 0 1 0 4 0a2 2 0 1 0 -4 0M505.27 264.44a2 2 0 1 0 4 0a2 2 0 1 0 -4 0M506.19 265.43a2 2 0 1 0 4 0a2 2 0 1 0 -4 0M507.12 265.06a2 2 0 1 0 4 0a2 2 0 1 0 -4 0M508.05 264.93a2 2 0 1 0 4 0a2 2 0 1 0 -4 0M508.97 265.5a2 2 0 1 0 4 0a2 2 0 1 0 -4 0M509.9 265.06a2 2 0 1 0 4 0a2 2 0 1 0 -4 0" fill="#ff0000" stroke="none"/>
<path d="M48.5 180.3H511.9V318.4H48.5Z" fill="none" stroke="#8a8a8a" stroke-width="1.5"/>
<g font-family="Liberation Sans, sans-serif" fill="#111" stroke="#111" stroke-width="0.22">
<path d="M48.5 318.4v2.4M94.84 318.4v1.3M141.18 318.4v2.4M187.52 318.4v1.3M233.86 318.4v2.4M280.2 318.4v1.3M326.54 318.4v2.4M372.88 318.4v1.3M419.22 318.4v2.4M465.56 318.4v1.3M511.9 318.4v2.4" stroke="#6a6a6a" stroke-width="1.2" fill="none"/>
<text x="48.5" y="332.3" font-size="10.8" text-anchor="middle">0</text>
<text x="141.18" y="332.3" font-size="10.8" text-anchor="middle">100</text>
<text x="233.86" y="332.3" font-size="10.8" text-anchor="middle">200</text>
<text x="326.54" y="332.3" font-size="10.8" text-anchor="middle">300</text>
<text x="419.22" y="332.3" font-size="10.8" text-anchor="middle">400</text>
<text x="511.9" y="332.3" font-size="10.8" text-anchor="middle">500</text>
<path d="M48.5 318.4h-3M48.5 297.1h-3M48.5 275.8h-3M48.5 254.5h-3M48.5 233.2h-3M48.5 211.9h-3M48.5 190.6h-3M48.5 307.75h-1.3M48.5 286.45h-1.3M48.5 265.15h-1.3M48.5 243.85h-1.3M48.5 222.55h-1.3M48.5 201.25h-1.3" stroke="#6a6a6a" stroke-width="1.2" fill="none"/>
<text x="43.4" y="322.5" font-size="10.7" text-anchor="end">0</text>
<text x="43.4" y="301.2" font-size="10.7" text-anchor="end">200</text>
<text x="43.4" y="279.9" font-size="10.7" text-anchor="end">400</text>
<text x="43.4" y="258.6" font-size="10.7" text-anchor="end">600</text>
<text x="43.4" y="237.3" font-size="10.7" text-anchor="end">800</text>
<text x="43.4" y="216" font-size="10.7" text-anchor="end">1000</text>
<text x="43.4" y="194.7" font-size="10.7" text-anchor="end">1200</text>
<path d="M511.9 318.4h3M511.9 292.08h3M511.9 265.76h3M511.9 239.44h3M511.9 213.12h3M511.9 186.8h3M511.9 305.24h1.3M511.9 278.92h1.3M511.9 252.6h1.3M511.9 226.28h1.3M511.9 199.96h1.3" stroke="#6a6a6a" stroke-width="1.2" fill="none"/>
<text x="516.8" y="322.2" font-size="10.7" text-anchor="start">0</text>
<text x="516.8" y="295.88" font-size="10.7" text-anchor="start">20</text>
<text x="516.8" y="269.56" font-size="10.7" text-anchor="start">40</text>
<text x="516.8" y="243.24" font-size="10.7" text-anchor="start">60</text>
<text x="516.8" y="216.92" font-size="10.7" text-anchor="start">80</text>
<text x="516.8" y="190.6" font-size="10.7" text-anchor="start">100</text>
<path d="M87.6 215.6L68.5 213.1" stroke="#111" stroke-width="0.9"/>
<path d="M65 212.6L69.9 210.9L69.3 215.3Z" fill="#111"/>
<text x="93.4" y="222.6" font-size="12.2">0.1C</text>
<path d="M262.1 240.7L243.6 245.3" stroke="#111" stroke-width="0.9"/>
<path d="M240.3 246.1L244.4 242.9L245.4 247.2Z" fill="#111"/>
<text x="267.3" y="244.2" font-size="12.2">0.5C</text>
<path d="M339.3 209.8a1.8 1.8 0 1 0 3.6 0a1.8 1.8 0 1 0 -3.6 0" fill="#ff0000" stroke="none"/>
<path d="M339.3 222.9a1.8 1.8 0 1 0 3.6 0a1.8 1.8 0 1 0 -3.6 0" fill="#000000" stroke="none"/>
<text x="356.8" y="213.8" font-size="11">S/AgI-90</text>
<text x="356.8" y="226.8" font-size="11">S</text>
</g>
<g font-family="Liberation Sans, sans-serif" fill="#111" stroke="#111" stroke-width="0.22">
<text transform="translate(15.5 145.8) rotate(-90)" font-size="10.4">Specific capacity (mAh g<tspan dy="-3.6" font-size="0.62em">-1</tspan><tspan dy="3.6">)</tspan></text>
<text transform="translate(255.6 140.9) rotate(-90)" font-size="10.6">Coulombic efficiency (%)</text>
<text transform="translate(302.8 145.6) rotate(-90)" font-size="10.4">Specific capacity (mAh g<tspan dy="-3.6" font-size="0.62em">-1</tspan><tspan dy="3.6">)</tspan></text>
<text transform="translate(13 322.6) rotate(-90)" font-size="11.15">Specific capacity (mAh g<tspan dy="-3.6" font-size="0.62em">-1</tspan><tspan dy="3.6">)</tspan></text>
<text transform="translate(548 316.9) rotate(-90)" font-size="11.1">Coulombic efficiency (%)</text>
<text x="102.6" y="170.8" font-size="10.5">Cycle number</text>
<text x="393.0" y="170.6" font-size="10.3">Cycle number</text>
<text x="246.0" y="349.2" font-size="11">Cycle number</text>
</g>
<g font-family="Liberation Sans, sans-serif" fill="#000" font-size="26">
<text x="4.2" y="15">a</text>
<text x="3.6" y="181.6">b</text>
<text x="291.8" y="15.8">c</text>
</g>
</svg>
</body></html>
